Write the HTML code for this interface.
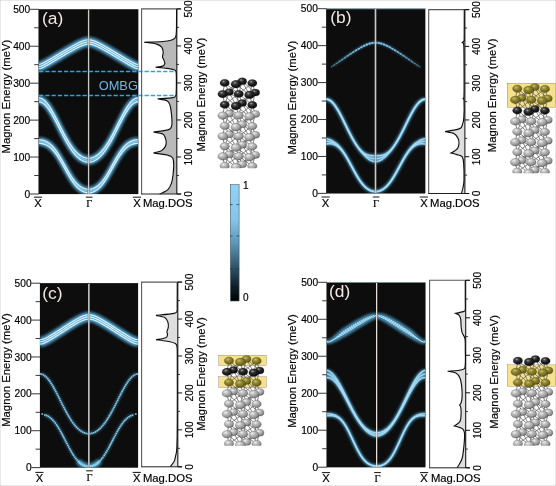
<!DOCTYPE html>
<html lang="en"><head><meta charset="utf-8"><title>Magnon dispersion figure</title>
<style>html,body{margin:0;padding:0;background:#fff;}svg{display:block;}</style></head>
<body>
<svg width="556" height="486" viewBox="0 0 556 486" font-family="'Liberation Sans', sans-serif" fill="#000" stroke="#000" stroke-width="0.18">
<defs>
<filter id="blur" x="-10%" y="-10%" width="120%" height="120%"><feGaussianBlur stdDeviation="1.6"/></filter>
<filter id="gsoft" x="0" y="0" width="100%" height="100%" filterUnits="userSpaceOnUse"><feGaussianBlur stdDeviation="0.38"/></filter>
<filter id="soft" x="-5%" y="-5%" width="110%" height="110%"><feGaussianBlur stdDeviation="0.35"/></filter>
<filter id="soft2" x="-5%" y="-5%" width="110%" height="110%"><feGaussianBlur stdDeviation="0.45"/></filter>
<clipPath id="cpa"><rect x="38.60" y="9.30" width="99.60" height="184.70"/></clipPath>
<clipPath id="cpb"><rect x="326.20" y="8.70" width="99.00" height="184.70"/></clipPath>
<clipPath id="cpc"><rect x="40.00" y="283.20" width="98.00" height="184.40"/></clipPath>
<clipPath id="cpd"><rect x="326.60" y="282.30" width="98.80" height="184.90"/></clipPath>
<radialGradient id="gG" cx="0.36" cy="0.3" r="0.8"><stop offset="0" stop-color="#f0f0f0"/><stop offset="0.3" stop-color="#c0c0c0"/><stop offset="0.7" stop-color="#949494"/><stop offset="1" stop-color="#555"/></radialGradient>
<radialGradient id="gK" cx="0.38" cy="0.32" r="0.75"><stop offset="0" stop-color="#a8a8a8"/><stop offset="0.22" stop-color="#444"/><stop offset="0.55" stop-color="#1c1c1c"/><stop offset="1" stop-color="#0a0a0a"/></radialGradient>
<radialGradient id="gO" cx="0.38" cy="0.32" r="0.75"><stop offset="0" stop-color="#c9c062"/><stop offset="0.35" stop-color="#918731"/><stop offset="1" stop-color="#5a5216"/></radialGradient>
<linearGradient id="cbar" x1="0" y1="0" x2="0" y2="1"><stop offset="0" stop-color="#93d2f3"/><stop offset="0.3" stop-color="#84c6ea"/><stop offset="0.5" stop-color="#5c98b8"/><stop offset="0.7" stop-color="#2f566b"/><stop offset="0.88" stop-color="#0f1e26"/><stop offset="1" stop-color="#000"/></linearGradient>
<clipPath id="clipa"><rect x="215" y="70" width="50" height="98.3"/></clipPath>
<clipPath id="clipb"><rect x="505" y="70" width="51" height="103.2"/></clipPath>
<clipPath id="clipc"><rect x="215" y="345" width="55" height="100.8"/></clipPath>
<clipPath id="clipd"><rect x="505" y="345" width="51" height="100.8"/></clipPath>
</defs>
<rect width="556" height="486" fill="#fff"/>
<g filter="url(#gsoft)">
<rect x="38.60" y="9.30" width="99.60" height="184.70" fill="#0b0b0b"/>
<g clip-path="url(#cpa)">
<g filter="url(#blur)"><path d="M38.60 68.74 L39.71 68.63 L40.82 68.34 L41.93 67.92 L43.04 67.41 L44.16 66.85 L45.27 66.26 L46.38 65.65 L47.49 65.02 L48.60 64.38 L49.71 63.74 L50.82 63.09 L51.93 62.43 L53.04 61.78 L54.16 61.12 L55.27 60.46 L56.38 59.80 L57.49 59.14 L58.60 58.48 L59.71 57.82 L60.82 57.16 L61.93 56.50 L63.04 55.85 L64.16 55.19 L65.27 54.54 L66.38 53.89 L67.49 53.25 L68.60 52.60 L69.71 51.97 L70.82 51.33 L71.93 50.71 L73.04 50.09 L74.16 49.48 L75.27 48.88 L76.38 48.30 L77.49 47.72 L78.60 47.17 L79.71 46.64 L80.82 46.15 L81.93 45.68 L83.04 45.26 L84.16 44.89 L85.27 44.59 L86.38 44.36 L87.49 44.22 L88.60 44.17 L89.70 44.22 L90.80 44.36 L91.91 44.59 L93.01 44.89 L94.11 45.26 L95.21 45.68 L96.32 46.15 L97.42 46.64 L98.52 47.17 L99.62 47.72 L100.72 48.30 L101.83 48.88 L102.93 49.48 L104.03 50.09 L105.13 50.71 L106.24 51.33 L107.34 51.97 L108.44 52.60 L109.54 53.25 L110.64 53.89 L111.75 54.54 L112.85 55.19 L113.95 55.85 L115.05 56.50 L116.16 57.16 L117.26 57.82 L118.36 58.48 L119.46 59.14 L120.56 59.80 L121.67 60.46 L122.77 61.12 L123.87 61.78 L124.97 62.43 L126.08 63.09 L127.18 63.74 L128.28 64.38 L129.38 65.02 L130.48 65.65 L131.59 66.26 L132.69 66.85 L133.79 67.41 L134.89 67.92 L136.00 68.34 L137.10 68.63 L138.20 68.74" stroke="#56a8d4" stroke-width="5.62" stroke-opacity="0.95" fill="none"/><path d="M38.60 66.56 L39.71 66.45 L40.82 66.16 L41.93 65.74 L43.04 65.23 L44.16 64.67 L45.27 64.08 L46.38 63.47 L47.49 62.84 L48.60 62.20 L49.71 61.56 L50.82 60.91 L51.93 60.25 L53.04 59.60 L54.16 58.94 L55.27 58.28 L56.38 57.62 L57.49 56.96 L58.60 56.30 L59.71 55.64 L60.82 54.98 L61.93 54.32 L63.04 53.67 L64.16 53.01 L65.27 52.36 L66.38 51.71 L67.49 51.07 L68.60 50.42 L69.71 49.79 L70.82 49.15 L71.93 48.53 L73.04 47.91 L74.16 47.30 L75.27 46.70 L76.38 46.12 L77.49 45.55 L78.60 44.99 L79.71 44.47 L80.82 43.97 L81.93 43.50 L83.04 43.08 L84.16 42.71 L85.27 42.41 L86.38 42.18 L87.49 42.04 L88.60 41.99 L89.70 42.04 L90.80 42.18 L91.91 42.41 L93.01 42.71 L94.11 43.08 L95.21 43.50 L96.32 43.97 L97.42 44.47 L98.52 44.99 L99.62 45.55 L100.72 46.12 L101.83 46.70 L102.93 47.30 L104.03 47.91 L105.13 48.53 L106.24 49.15 L107.34 49.79 L108.44 50.42 L109.54 51.07 L110.64 51.71 L111.75 52.36 L112.85 53.01 L113.95 53.67 L115.05 54.32 L116.16 54.98 L117.26 55.64 L118.36 56.30 L119.46 56.96 L120.56 57.62 L121.67 58.28 L122.77 58.94 L123.87 59.60 L124.97 60.25 L126.08 60.91 L127.18 61.56 L128.28 62.20 L129.38 62.84 L130.48 63.47 L131.59 64.08 L132.69 64.67 L133.79 65.23 L134.89 65.74 L136.00 66.16 L137.10 66.45 L138.20 66.56" stroke="#56a8d4" stroke-width="5.62" stroke-opacity="0.95" fill="none"/><path d="M38.60 64.38 L39.71 64.27 L40.82 63.98 L41.93 63.56 L43.04 63.05 L44.16 62.49 L45.27 61.90 L46.38 61.29 L47.49 60.66 L48.60 60.02 L49.71 59.38 L50.82 58.73 L51.93 58.08 L53.04 57.42 L54.16 56.76 L55.27 56.10 L56.38 55.44 L57.49 54.78 L58.60 54.12 L59.71 53.46 L60.82 52.80 L61.93 52.14 L63.04 51.49 L64.16 50.83 L65.27 50.18 L66.38 49.53 L67.49 48.89 L68.60 48.24 L69.71 47.61 L70.82 46.97 L71.93 46.35 L73.04 45.73 L74.16 45.12 L75.27 44.52 L76.38 43.94 L77.49 43.37 L78.60 42.81 L79.71 42.29 L80.82 41.79 L81.93 41.32 L83.04 40.90 L84.16 40.53 L85.27 40.23 L86.38 40.00 L87.49 39.86 L88.60 39.81 L89.70 39.86 L90.80 40.00 L91.91 40.23 L93.01 40.53 L94.11 40.90 L95.21 41.32 L96.32 41.79 L97.42 42.29 L98.52 42.81 L99.62 43.37 L100.72 43.94 L101.83 44.52 L102.93 45.12 L104.03 45.73 L105.13 46.35 L106.24 46.97 L107.34 47.61 L108.44 48.24 L109.54 48.89 L110.64 49.53 L111.75 50.18 L112.85 50.83 L113.95 51.49 L115.05 52.14 L116.16 52.80 L117.26 53.46 L118.36 54.12 L119.46 54.78 L120.56 55.44 L121.67 56.10 L122.77 56.76 L123.87 57.42 L124.97 58.08 L126.08 58.73 L127.18 59.38 L128.28 60.02 L129.38 60.66 L130.48 61.29 L131.59 61.90 L132.69 62.49 L133.79 63.05 L134.89 63.56 L136.00 63.98 L137.10 64.27 L138.20 64.38" stroke="#56a8d4" stroke-width="5.62" stroke-opacity="0.95" fill="none"/><path d="M38.60 101.80 L39.71 101.89 L40.82 102.19 L41.93 102.67 L43.04 103.33 L44.16 104.18 L45.27 105.21 L46.38 106.40 L47.49 107.74 L48.60 109.23 L49.71 110.86 L50.82 112.60 L51.93 114.46 L53.04 116.40 L54.16 118.43 L55.27 120.52 L56.38 122.66 L57.49 124.84 L58.60 127.03 L59.71 129.24 L60.82 131.44 L61.93 133.62 L63.04 135.77 L64.16 137.88 L65.27 139.93 L66.38 141.93 L67.49 143.85 L68.60 145.70 L69.71 147.46 L70.82 149.14 L71.93 150.72 L73.04 152.20 L74.16 153.59 L75.27 154.87 L76.38 156.05 L77.49 157.13 L78.60 158.10 L79.71 158.96 L80.82 159.72 L81.93 160.38 L83.04 160.94 L84.16 161.39 L85.27 161.74 L86.38 161.99 L87.49 162.14 L88.60 162.19 L89.70 162.14 L90.80 161.99 L91.91 161.74 L93.01 161.39 L94.11 160.94 L95.21 160.38 L96.32 159.72 L97.42 158.96 L98.52 158.10 L99.62 157.13 L100.72 156.05 L101.83 154.87 L102.93 153.59 L104.03 152.20 L105.13 150.72 L106.24 149.14 L107.34 147.46 L108.44 145.70 L109.54 143.85 L110.64 141.93 L111.75 139.93 L112.85 137.88 L113.95 135.77 L115.05 133.62 L116.16 131.44 L117.26 129.24 L118.36 127.03 L119.46 124.84 L120.56 122.66 L121.67 120.52 L122.77 118.43 L123.87 116.40 L124.97 114.46 L126.08 112.60 L127.18 110.86 L128.28 109.23 L129.38 107.74 L130.48 106.40 L131.59 105.21 L132.69 104.18 L133.79 103.33 L134.89 102.67 L136.00 102.19 L137.10 101.89 L138.20 101.80" stroke="#56a8d4" stroke-width="5.00" stroke-opacity="0.95" fill="none"/><path d="M38.60 99.80 L39.71 99.90 L40.82 100.19 L41.93 100.67 L43.04 101.34 L44.16 102.19 L45.27 103.21 L46.38 104.40 L47.49 105.75 L48.60 107.24 L49.71 108.86 L50.82 110.61 L51.93 112.46 L53.04 114.41 L54.16 116.44 L55.27 118.53 L56.38 120.67 L57.49 122.84 L58.60 125.04 L59.71 127.24 L60.82 129.44 L61.93 131.62 L63.04 133.77 L64.16 135.88 L65.27 137.94 L66.38 139.93 L67.49 141.86 L68.60 143.70 L69.71 145.47 L70.82 147.14 L71.93 148.72 L73.04 150.21 L74.16 151.59 L75.27 152.88 L76.38 154.06 L77.49 155.13 L78.60 156.10 L79.71 156.97 L80.82 157.73 L81.93 158.39 L83.04 158.94 L84.16 159.40 L85.27 159.75 L86.38 160.00 L87.49 160.15 L88.60 160.20 L89.70 160.15 L90.80 160.00 L91.91 159.75 L93.01 159.40 L94.11 158.94 L95.21 158.39 L96.32 157.73 L97.42 156.97 L98.52 156.10 L99.62 155.13 L100.72 154.06 L101.83 152.88 L102.93 151.59 L104.03 150.21 L105.13 148.72 L106.24 147.14 L107.34 145.47 L108.44 143.70 L109.54 141.86 L110.64 139.93 L111.75 137.94 L112.85 135.88 L113.95 133.77 L115.05 131.62 L116.16 129.44 L117.26 127.24 L118.36 125.04 L119.46 122.84 L120.56 120.67 L121.67 118.53 L122.77 116.44 L123.87 114.41 L124.97 112.46 L126.08 110.61 L127.18 108.86 L128.28 107.24 L129.38 105.75 L130.48 104.40 L131.59 103.21 L132.69 102.19 L133.79 101.34 L134.89 100.67 L136.00 100.19 L137.10 99.90 L138.20 99.80" stroke="#56a8d4" stroke-width="5.00" stroke-opacity="0.95" fill="none"/><path d="M38.60 97.81 L39.71 97.91 L40.82 98.20 L41.93 98.68 L43.04 99.35 L44.16 100.19 L45.27 101.22 L46.38 102.41 L47.49 103.75 L48.60 105.24 L49.71 106.87 L50.82 108.62 L51.93 110.47 L53.04 112.41 L54.16 114.44 L55.27 116.53 L56.38 118.67 L57.49 120.85 L58.60 123.05 L59.71 125.25 L60.82 127.45 L61.93 129.63 L63.04 131.78 L64.16 133.89 L65.27 135.94 L66.38 137.94 L67.49 139.86 L68.60 141.71 L69.71 143.47 L70.82 145.15 L71.93 146.73 L73.04 148.21 L74.16 149.60 L75.27 150.88 L76.38 152.06 L77.49 153.14 L78.60 154.11 L79.71 154.97 L80.82 155.74 L81.93 156.39 L83.04 156.95 L84.16 157.40 L85.27 157.75 L86.38 158.00 L87.49 158.16 L88.60 158.21 L89.70 158.16 L90.80 158.00 L91.91 157.75 L93.01 157.40 L94.11 156.95 L95.21 156.39 L96.32 155.74 L97.42 154.97 L98.52 154.11 L99.62 153.14 L100.72 152.06 L101.83 150.88 L102.93 149.60 L104.03 148.21 L105.13 146.73 L106.24 145.15 L107.34 143.47 L108.44 141.71 L109.54 139.86 L110.64 137.94 L111.75 135.94 L112.85 133.89 L113.95 131.78 L115.05 129.63 L116.16 127.45 L117.26 125.25 L118.36 123.05 L119.46 120.85 L120.56 118.67 L121.67 116.53 L122.77 114.44 L123.87 112.41 L124.97 110.47 L126.08 108.62 L127.18 106.87 L128.28 105.24 L129.38 103.75 L130.48 102.41 L131.59 101.22 L132.69 100.19 L133.79 99.35 L134.89 98.68 L136.00 98.20 L137.10 97.91 L138.20 97.81" stroke="#56a8d4" stroke-width="5.00" stroke-opacity="0.95" fill="none"/><path d="M38.60 143.32 L39.71 143.35 L40.82 143.45 L41.93 143.63 L43.04 143.88 L44.16 144.20 L45.27 144.61 L46.38 145.12 L47.49 145.72 L48.60 146.43 L49.71 147.24 L50.82 148.17 L51.93 149.22 L53.04 150.39 L54.16 151.69 L55.27 153.09 L56.38 154.62 L57.49 156.24 L58.60 157.97 L59.71 159.78 L60.82 161.66 L61.93 163.60 L63.04 165.58 L64.16 167.59 L65.27 169.60 L66.38 171.59 L67.49 173.56 L68.60 175.48 L69.71 177.34 L70.82 179.12 L71.93 180.81 L73.04 182.41 L74.16 183.90 L75.27 185.27 L76.38 186.53 L77.49 187.67 L78.60 188.68 L79.71 189.58 L80.82 190.36 L81.93 191.03 L83.04 191.59 L84.16 192.04 L85.27 192.38 L86.38 192.62 L87.49 192.77 L88.60 192.82 L89.70 192.77 L90.80 192.62 L91.91 192.38 L93.01 192.04 L94.11 191.59 L95.21 191.03 L96.32 190.36 L97.42 189.58 L98.52 188.68 L99.62 187.67 L100.72 186.53 L101.83 185.27 L102.93 183.90 L104.03 182.41 L105.13 180.81 L106.24 179.12 L107.34 177.34 L108.44 175.48 L109.54 173.56 L110.64 171.59 L111.75 169.60 L112.85 167.59 L113.95 165.58 L115.05 163.60 L116.16 161.66 L117.26 159.78 L118.36 157.97 L119.46 156.24 L120.56 154.62 L121.67 153.09 L122.77 151.69 L123.87 150.39 L124.97 149.22 L126.08 148.17 L127.18 147.24 L128.28 146.43 L129.38 145.72 L130.48 145.12 L131.59 144.61 L132.69 144.20 L133.79 143.88 L134.89 143.63 L136.00 143.45 L137.10 143.35 L138.20 143.32" stroke="#56a8d4" stroke-width="5.00" stroke-opacity="0.95" fill="none"/><path d="M38.60 141.55 L39.71 141.58 L40.82 141.68 L41.93 141.85 L43.04 142.10 L44.16 142.43 L45.27 142.84 L46.38 143.34 L47.49 143.95 L48.60 144.65 L49.71 145.47 L50.82 146.40 L51.93 147.45 L53.04 148.62 L54.16 149.91 L55.27 151.32 L56.38 152.84 L57.49 154.47 L58.60 156.20 L59.71 158.01 L60.82 159.89 L61.93 161.83 L63.04 163.81 L64.16 165.81 L65.27 167.82 L66.38 169.82 L67.49 171.79 L68.60 173.71 L69.71 175.57 L70.82 177.35 L71.93 179.04 L73.04 180.64 L74.16 182.12 L75.27 183.50 L76.38 184.76 L77.49 185.89 L78.60 186.91 L79.71 187.81 L80.82 188.59 L81.93 189.26 L83.04 189.81 L84.16 190.26 L85.27 190.61 L86.38 190.85 L87.49 191.00 L88.60 191.04 L89.70 191.00 L90.80 190.85 L91.91 190.61 L93.01 190.26 L94.11 189.81 L95.21 189.26 L96.32 188.59 L97.42 187.81 L98.52 186.91 L99.62 185.89 L100.72 184.76 L101.83 183.50 L102.93 182.12 L104.03 180.64 L105.13 179.04 L106.24 177.35 L107.34 175.57 L108.44 173.71 L109.54 171.79 L110.64 169.82 L111.75 167.82 L112.85 165.81 L113.95 163.81 L115.05 161.83 L116.16 159.89 L117.26 158.01 L118.36 156.20 L119.46 154.47 L120.56 152.84 L121.67 151.32 L122.77 149.91 L123.87 148.62 L124.97 147.45 L126.08 146.40 L127.18 145.47 L128.28 144.65 L129.38 143.95 L130.48 143.34 L131.59 142.84 L132.69 142.43 L133.79 142.10 L134.89 141.85 L136.00 141.68 L137.10 141.58 L138.20 141.55" stroke="#56a8d4" stroke-width="5.00" stroke-opacity="0.95" fill="none"/><path d="M38.60 139.77 L39.71 139.81 L40.82 139.91 L41.93 140.08 L43.04 140.33 L44.16 140.66 L45.27 141.07 L46.38 141.57 L47.49 142.17 L48.60 142.88 L49.71 143.70 L50.82 144.63 L51.93 145.68 L53.04 146.85 L54.16 148.14 L55.27 149.55 L56.38 151.07 L57.49 152.70 L58.60 154.42 L59.71 156.23 L60.82 158.12 L61.93 160.06 L63.04 162.04 L64.16 164.04 L65.27 166.05 L66.38 168.05 L67.49 170.01 L68.60 171.93 L69.71 173.79 L70.82 175.57 L71.93 177.27 L73.04 178.86 L74.16 180.35 L75.27 181.73 L76.38 182.98 L77.49 184.12 L78.60 185.14 L79.71 186.04 L80.82 186.82 L81.93 187.48 L83.04 188.04 L84.16 188.49 L85.27 188.83 L86.38 189.08 L87.49 189.22 L88.60 189.27 L89.70 189.22 L90.80 189.08 L91.91 188.83 L93.01 188.49 L94.11 188.04 L95.21 187.48 L96.32 186.82 L97.42 186.04 L98.52 185.14 L99.62 184.12 L100.72 182.98 L101.83 181.73 L102.93 180.35 L104.03 178.86 L105.13 177.27 L106.24 175.57 L107.34 173.79 L108.44 171.93 L109.54 170.01 L110.64 168.05 L111.75 166.05 L112.85 164.04 L113.95 162.04 L115.05 160.06 L116.16 158.12 L117.26 156.23 L118.36 154.42 L119.46 152.70 L120.56 151.07 L121.67 149.55 L122.77 148.14 L123.87 146.85 L124.97 145.68 L126.08 144.63 L127.18 143.70 L128.28 142.88 L129.38 142.17 L130.48 141.57 L131.59 141.07 L132.69 140.66 L133.79 140.33 L134.89 140.08 L136.00 139.91 L137.10 139.81 L138.20 139.77" stroke="#56a8d4" stroke-width="5.00" stroke-opacity="0.95" fill="none"/></g>
<g filter="url(#soft)"><path d="M38.60 68.74 L39.71 68.63 L40.82 68.34 L41.93 67.92 L43.04 67.41 L44.16 66.85 L45.27 66.26 L46.38 65.65 L47.49 65.02 L48.60 64.38 L49.71 63.74 L50.82 63.09 L51.93 62.43 L53.04 61.78 L54.16 61.12 L55.27 60.46 L56.38 59.80 L57.49 59.14 L58.60 58.48 L59.71 57.82 L60.82 57.16 L61.93 56.50 L63.04 55.85 L64.16 55.19 L65.27 54.54 L66.38 53.89 L67.49 53.25 L68.60 52.60 L69.71 51.97 L70.82 51.33 L71.93 50.71 L73.04 50.09 L74.16 49.48 L75.27 48.88 L76.38 48.30 L77.49 47.72 L78.60 47.17 L79.71 46.64 L80.82 46.15 L81.93 45.68 L83.04 45.26 L84.16 44.89 L85.27 44.59 L86.38 44.36 L87.49 44.22 L88.60 44.17 L89.70 44.22 L90.80 44.36 L91.91 44.59 L93.01 44.89 L94.11 45.26 L95.21 45.68 L96.32 46.15 L97.42 46.64 L98.52 47.17 L99.62 47.72 L100.72 48.30 L101.83 48.88 L102.93 49.48 L104.03 50.09 L105.13 50.71 L106.24 51.33 L107.34 51.97 L108.44 52.60 L109.54 53.25 L110.64 53.89 L111.75 54.54 L112.85 55.19 L113.95 55.85 L115.05 56.50 L116.16 57.16 L117.26 57.82 L118.36 58.48 L119.46 59.14 L120.56 59.80 L121.67 60.46 L122.77 61.12 L123.87 61.78 L124.97 62.43 L126.08 63.09 L127.18 63.74 L128.28 64.38 L129.38 65.02 L130.48 65.65 L131.59 66.26 L132.69 66.85 L133.79 67.41 L134.89 67.92 L136.00 68.34 L137.10 68.63 L138.20 68.74" stroke="#7cc3e4" stroke-width="1.50" stroke-opacity="0.55" fill="none"/><path d="M38.60 66.56 L39.71 66.45 L40.82 66.16 L41.93 65.74 L43.04 65.23 L44.16 64.67 L45.27 64.08 L46.38 63.47 L47.49 62.84 L48.60 62.20 L49.71 61.56 L50.82 60.91 L51.93 60.25 L53.04 59.60 L54.16 58.94 L55.27 58.28 L56.38 57.62 L57.49 56.96 L58.60 56.30 L59.71 55.64 L60.82 54.98 L61.93 54.32 L63.04 53.67 L64.16 53.01 L65.27 52.36 L66.38 51.71 L67.49 51.07 L68.60 50.42 L69.71 49.79 L70.82 49.15 L71.93 48.53 L73.04 47.91 L74.16 47.30 L75.27 46.70 L76.38 46.12 L77.49 45.55 L78.60 44.99 L79.71 44.47 L80.82 43.97 L81.93 43.50 L83.04 43.08 L84.16 42.71 L85.27 42.41 L86.38 42.18 L87.49 42.04 L88.60 41.99 L89.70 42.04 L90.80 42.18 L91.91 42.41 L93.01 42.71 L94.11 43.08 L95.21 43.50 L96.32 43.97 L97.42 44.47 L98.52 44.99 L99.62 45.55 L100.72 46.12 L101.83 46.70 L102.93 47.30 L104.03 47.91 L105.13 48.53 L106.24 49.15 L107.34 49.79 L108.44 50.42 L109.54 51.07 L110.64 51.71 L111.75 52.36 L112.85 53.01 L113.95 53.67 L115.05 54.32 L116.16 54.98 L117.26 55.64 L118.36 56.30 L119.46 56.96 L120.56 57.62 L121.67 58.28 L122.77 58.94 L123.87 59.60 L124.97 60.25 L126.08 60.91 L127.18 61.56 L128.28 62.20 L129.38 62.84 L130.48 63.47 L131.59 64.08 L132.69 64.67 L133.79 65.23 L134.89 65.74 L136.00 66.16 L137.10 66.45 L138.20 66.56" stroke="#7cc3e4" stroke-width="1.50" stroke-opacity="0.55" fill="none"/><path d="M38.60 64.38 L39.71 64.27 L40.82 63.98 L41.93 63.56 L43.04 63.05 L44.16 62.49 L45.27 61.90 L46.38 61.29 L47.49 60.66 L48.60 60.02 L49.71 59.38 L50.82 58.73 L51.93 58.08 L53.04 57.42 L54.16 56.76 L55.27 56.10 L56.38 55.44 L57.49 54.78 L58.60 54.12 L59.71 53.46 L60.82 52.80 L61.93 52.14 L63.04 51.49 L64.16 50.83 L65.27 50.18 L66.38 49.53 L67.49 48.89 L68.60 48.24 L69.71 47.61 L70.82 46.97 L71.93 46.35 L73.04 45.73 L74.16 45.12 L75.27 44.52 L76.38 43.94 L77.49 43.37 L78.60 42.81 L79.71 42.29 L80.82 41.79 L81.93 41.32 L83.04 40.90 L84.16 40.53 L85.27 40.23 L86.38 40.00 L87.49 39.86 L88.60 39.81 L89.70 39.86 L90.80 40.00 L91.91 40.23 L93.01 40.53 L94.11 40.90 L95.21 41.32 L96.32 41.79 L97.42 42.29 L98.52 42.81 L99.62 43.37 L100.72 43.94 L101.83 44.52 L102.93 45.12 L104.03 45.73 L105.13 46.35 L106.24 46.97 L107.34 47.61 L108.44 48.24 L109.54 48.89 L110.64 49.53 L111.75 50.18 L112.85 50.83 L113.95 51.49 L115.05 52.14 L116.16 52.80 L117.26 53.46 L118.36 54.12 L119.46 54.78 L120.56 55.44 L121.67 56.10 L122.77 56.76 L123.87 57.42 L124.97 58.08 L126.08 58.73 L127.18 59.38 L128.28 60.02 L129.38 60.66 L130.48 61.29 L131.59 61.90 L132.69 62.49 L133.79 63.05 L134.89 63.56 L136.00 63.98 L137.10 64.27 L138.20 64.38" stroke="#7cc3e4" stroke-width="1.50" stroke-opacity="0.55" fill="none"/><path d="M38.60 68.74 L39.71 68.63 L40.82 68.34 L41.93 67.92 L43.04 67.41 L44.16 66.85 L45.27 66.26 L46.38 65.65 L47.49 65.02 L48.60 64.38 L49.71 63.74 L50.82 63.09 L51.93 62.43 L53.04 61.78 L54.16 61.12 L55.27 60.46 L56.38 59.80 L57.49 59.14 L58.60 58.48 L59.71 57.82 L60.82 57.16 L61.93 56.50 L63.04 55.85 L64.16 55.19 L65.27 54.54 L66.38 53.89 L67.49 53.25 L68.60 52.60 L69.71 51.97 L70.82 51.33 L71.93 50.71 L73.04 50.09 L74.16 49.48 L75.27 48.88 L76.38 48.30 L77.49 47.72 L78.60 47.17 L79.71 46.64 L80.82 46.15 L81.93 45.68 L83.04 45.26 L84.16 44.89 L85.27 44.59 L86.38 44.36 L87.49 44.22 L88.60 44.17 L89.70 44.22 L90.80 44.36 L91.91 44.59 L93.01 44.89 L94.11 45.26 L95.21 45.68 L96.32 46.15 L97.42 46.64 L98.52 47.17 L99.62 47.72 L100.72 48.30 L101.83 48.88 L102.93 49.48 L104.03 50.09 L105.13 50.71 L106.24 51.33 L107.34 51.97 L108.44 52.60 L109.54 53.25 L110.64 53.89 L111.75 54.54 L112.85 55.19 L113.95 55.85 L115.05 56.50 L116.16 57.16 L117.26 57.82 L118.36 58.48 L119.46 59.14 L120.56 59.80 L121.67 60.46 L122.77 61.12 L123.87 61.78 L124.97 62.43 L126.08 63.09 L127.18 63.74 L128.28 64.38 L129.38 65.02 L130.48 65.65 L131.59 66.26 L132.69 66.85 L133.79 67.41 L134.89 67.92 L136.00 68.34 L137.10 68.63 L138.20 68.74" stroke="#e2f4fd" stroke-width="1.05" stroke-opacity="1.00" fill="none"/><path d="M38.60 66.56 L39.71 66.45 L40.82 66.16 L41.93 65.74 L43.04 65.23 L44.16 64.67 L45.27 64.08 L46.38 63.47 L47.49 62.84 L48.60 62.20 L49.71 61.56 L50.82 60.91 L51.93 60.25 L53.04 59.60 L54.16 58.94 L55.27 58.28 L56.38 57.62 L57.49 56.96 L58.60 56.30 L59.71 55.64 L60.82 54.98 L61.93 54.32 L63.04 53.67 L64.16 53.01 L65.27 52.36 L66.38 51.71 L67.49 51.07 L68.60 50.42 L69.71 49.79 L70.82 49.15 L71.93 48.53 L73.04 47.91 L74.16 47.30 L75.27 46.70 L76.38 46.12 L77.49 45.55 L78.60 44.99 L79.71 44.47 L80.82 43.97 L81.93 43.50 L83.04 43.08 L84.16 42.71 L85.27 42.41 L86.38 42.18 L87.49 42.04 L88.60 41.99 L89.70 42.04 L90.80 42.18 L91.91 42.41 L93.01 42.71 L94.11 43.08 L95.21 43.50 L96.32 43.97 L97.42 44.47 L98.52 44.99 L99.62 45.55 L100.72 46.12 L101.83 46.70 L102.93 47.30 L104.03 47.91 L105.13 48.53 L106.24 49.15 L107.34 49.79 L108.44 50.42 L109.54 51.07 L110.64 51.71 L111.75 52.36 L112.85 53.01 L113.95 53.67 L115.05 54.32 L116.16 54.98 L117.26 55.64 L118.36 56.30 L119.46 56.96 L120.56 57.62 L121.67 58.28 L122.77 58.94 L123.87 59.60 L124.97 60.25 L126.08 60.91 L127.18 61.56 L128.28 62.20 L129.38 62.84 L130.48 63.47 L131.59 64.08 L132.69 64.67 L133.79 65.23 L134.89 65.74 L136.00 66.16 L137.10 66.45 L138.20 66.56" stroke="#e2f4fd" stroke-width="1.05" stroke-opacity="1.00" fill="none"/><path d="M38.60 64.38 L39.71 64.27 L40.82 63.98 L41.93 63.56 L43.04 63.05 L44.16 62.49 L45.27 61.90 L46.38 61.29 L47.49 60.66 L48.60 60.02 L49.71 59.38 L50.82 58.73 L51.93 58.08 L53.04 57.42 L54.16 56.76 L55.27 56.10 L56.38 55.44 L57.49 54.78 L58.60 54.12 L59.71 53.46 L60.82 52.80 L61.93 52.14 L63.04 51.49 L64.16 50.83 L65.27 50.18 L66.38 49.53 L67.49 48.89 L68.60 48.24 L69.71 47.61 L70.82 46.97 L71.93 46.35 L73.04 45.73 L74.16 45.12 L75.27 44.52 L76.38 43.94 L77.49 43.37 L78.60 42.81 L79.71 42.29 L80.82 41.79 L81.93 41.32 L83.04 40.90 L84.16 40.53 L85.27 40.23 L86.38 40.00 L87.49 39.86 L88.60 39.81 L89.70 39.86 L90.80 40.00 L91.91 40.23 L93.01 40.53 L94.11 40.90 L95.21 41.32 L96.32 41.79 L97.42 42.29 L98.52 42.81 L99.62 43.37 L100.72 43.94 L101.83 44.52 L102.93 45.12 L104.03 45.73 L105.13 46.35 L106.24 46.97 L107.34 47.61 L108.44 48.24 L109.54 48.89 L110.64 49.53 L111.75 50.18 L112.85 50.83 L113.95 51.49 L115.05 52.14 L116.16 52.80 L117.26 53.46 L118.36 54.12 L119.46 54.78 L120.56 55.44 L121.67 56.10 L122.77 56.76 L123.87 57.42 L124.97 58.08 L126.08 58.73 L127.18 59.38 L128.28 60.02 L129.38 60.66 L130.48 61.29 L131.59 61.90 L132.69 62.49 L133.79 63.05 L134.89 63.56 L136.00 63.98 L137.10 64.27 L138.20 64.38" stroke="#e2f4fd" stroke-width="1.05" stroke-opacity="1.00" fill="none"/><path d="M38.60 101.80 L39.71 101.89 L40.82 102.19 L41.93 102.67 L43.04 103.33 L44.16 104.18 L45.27 105.21 L46.38 106.40 L47.49 107.74 L48.60 109.23 L49.71 110.86 L50.82 112.60 L51.93 114.46 L53.04 116.40 L54.16 118.43 L55.27 120.52 L56.38 122.66 L57.49 124.84 L58.60 127.03 L59.71 129.24 L60.82 131.44 L61.93 133.62 L63.04 135.77 L64.16 137.88 L65.27 139.93 L66.38 141.93 L67.49 143.85 L68.60 145.70 L69.71 147.46 L70.82 149.14 L71.93 150.72 L73.04 152.20 L74.16 153.59 L75.27 154.87 L76.38 156.05 L77.49 157.13 L78.60 158.10 L79.71 158.96 L80.82 159.72 L81.93 160.38 L83.04 160.94 L84.16 161.39 L85.27 161.74 L86.38 161.99 L87.49 162.14 L88.60 162.19 L89.70 162.14 L90.80 161.99 L91.91 161.74 L93.01 161.39 L94.11 160.94 L95.21 160.38 L96.32 159.72 L97.42 158.96 L98.52 158.10 L99.62 157.13 L100.72 156.05 L101.83 154.87 L102.93 153.59 L104.03 152.20 L105.13 150.72 L106.24 149.14 L107.34 147.46 L108.44 145.70 L109.54 143.85 L110.64 141.93 L111.75 139.93 L112.85 137.88 L113.95 135.77 L115.05 133.62 L116.16 131.44 L117.26 129.24 L118.36 127.03 L119.46 124.84 L120.56 122.66 L121.67 120.52 L122.77 118.43 L123.87 116.40 L124.97 114.46 L126.08 112.60 L127.18 110.86 L128.28 109.23 L129.38 107.74 L130.48 106.40 L131.59 105.21 L132.69 104.18 L133.79 103.33 L134.89 102.67 L136.00 102.19 L137.10 101.89 L138.20 101.80" stroke="#7cc3e4" stroke-width="1.50" stroke-opacity="0.55" fill="none"/><path d="M38.60 99.80 L39.71 99.90 L40.82 100.19 L41.93 100.67 L43.04 101.34 L44.16 102.19 L45.27 103.21 L46.38 104.40 L47.49 105.75 L48.60 107.24 L49.71 108.86 L50.82 110.61 L51.93 112.46 L53.04 114.41 L54.16 116.44 L55.27 118.53 L56.38 120.67 L57.49 122.84 L58.60 125.04 L59.71 127.24 L60.82 129.44 L61.93 131.62 L63.04 133.77 L64.16 135.88 L65.27 137.94 L66.38 139.93 L67.49 141.86 L68.60 143.70 L69.71 145.47 L70.82 147.14 L71.93 148.72 L73.04 150.21 L74.16 151.59 L75.27 152.88 L76.38 154.06 L77.49 155.13 L78.60 156.10 L79.71 156.97 L80.82 157.73 L81.93 158.39 L83.04 158.94 L84.16 159.40 L85.27 159.75 L86.38 160.00 L87.49 160.15 L88.60 160.20 L89.70 160.15 L90.80 160.00 L91.91 159.75 L93.01 159.40 L94.11 158.94 L95.21 158.39 L96.32 157.73 L97.42 156.97 L98.52 156.10 L99.62 155.13 L100.72 154.06 L101.83 152.88 L102.93 151.59 L104.03 150.21 L105.13 148.72 L106.24 147.14 L107.34 145.47 L108.44 143.70 L109.54 141.86 L110.64 139.93 L111.75 137.94 L112.85 135.88 L113.95 133.77 L115.05 131.62 L116.16 129.44 L117.26 127.24 L118.36 125.04 L119.46 122.84 L120.56 120.67 L121.67 118.53 L122.77 116.44 L123.87 114.41 L124.97 112.46 L126.08 110.61 L127.18 108.86 L128.28 107.24 L129.38 105.75 L130.48 104.40 L131.59 103.21 L132.69 102.19 L133.79 101.34 L134.89 100.67 L136.00 100.19 L137.10 99.90 L138.20 99.80" stroke="#7cc3e4" stroke-width="1.50" stroke-opacity="0.55" fill="none"/><path d="M38.60 97.81 L39.71 97.91 L40.82 98.20 L41.93 98.68 L43.04 99.35 L44.16 100.19 L45.27 101.22 L46.38 102.41 L47.49 103.75 L48.60 105.24 L49.71 106.87 L50.82 108.62 L51.93 110.47 L53.04 112.41 L54.16 114.44 L55.27 116.53 L56.38 118.67 L57.49 120.85 L58.60 123.05 L59.71 125.25 L60.82 127.45 L61.93 129.63 L63.04 131.78 L64.16 133.89 L65.27 135.94 L66.38 137.94 L67.49 139.86 L68.60 141.71 L69.71 143.47 L70.82 145.15 L71.93 146.73 L73.04 148.21 L74.16 149.60 L75.27 150.88 L76.38 152.06 L77.49 153.14 L78.60 154.11 L79.71 154.97 L80.82 155.74 L81.93 156.39 L83.04 156.95 L84.16 157.40 L85.27 157.75 L86.38 158.00 L87.49 158.16 L88.60 158.21 L89.70 158.16 L90.80 158.00 L91.91 157.75 L93.01 157.40 L94.11 156.95 L95.21 156.39 L96.32 155.74 L97.42 154.97 L98.52 154.11 L99.62 153.14 L100.72 152.06 L101.83 150.88 L102.93 149.60 L104.03 148.21 L105.13 146.73 L106.24 145.15 L107.34 143.47 L108.44 141.71 L109.54 139.86 L110.64 137.94 L111.75 135.94 L112.85 133.89 L113.95 131.78 L115.05 129.63 L116.16 127.45 L117.26 125.25 L118.36 123.05 L119.46 120.85 L120.56 118.67 L121.67 116.53 L122.77 114.44 L123.87 112.41 L124.97 110.47 L126.08 108.62 L127.18 106.87 L128.28 105.24 L129.38 103.75 L130.48 102.41 L131.59 101.22 L132.69 100.19 L133.79 99.35 L134.89 98.68 L136.00 98.20 L137.10 97.91 L138.20 97.81" stroke="#7cc3e4" stroke-width="1.50" stroke-opacity="0.55" fill="none"/><path d="M38.60 101.80 L39.71 101.89 L40.82 102.19 L41.93 102.67 L43.04 103.33 L44.16 104.18 L45.27 105.21 L46.38 106.40 L47.49 107.74 L48.60 109.23 L49.71 110.86 L50.82 112.60 L51.93 114.46 L53.04 116.40 L54.16 118.43 L55.27 120.52 L56.38 122.66 L57.49 124.84 L58.60 127.03 L59.71 129.24 L60.82 131.44 L61.93 133.62 L63.04 135.77 L64.16 137.88 L65.27 139.93 L66.38 141.93 L67.49 143.85 L68.60 145.70 L69.71 147.46 L70.82 149.14 L71.93 150.72 L73.04 152.20 L74.16 153.59 L75.27 154.87 L76.38 156.05 L77.49 157.13 L78.60 158.10 L79.71 158.96 L80.82 159.72 L81.93 160.38 L83.04 160.94 L84.16 161.39 L85.27 161.74 L86.38 161.99 L87.49 162.14 L88.60 162.19 L89.70 162.14 L90.80 161.99 L91.91 161.74 L93.01 161.39 L94.11 160.94 L95.21 160.38 L96.32 159.72 L97.42 158.96 L98.52 158.10 L99.62 157.13 L100.72 156.05 L101.83 154.87 L102.93 153.59 L104.03 152.20 L105.13 150.72 L106.24 149.14 L107.34 147.46 L108.44 145.70 L109.54 143.85 L110.64 141.93 L111.75 139.93 L112.85 137.88 L113.95 135.77 L115.05 133.62 L116.16 131.44 L117.26 129.24 L118.36 127.03 L119.46 124.84 L120.56 122.66 L121.67 120.52 L122.77 118.43 L123.87 116.40 L124.97 114.46 L126.08 112.60 L127.18 110.86 L128.28 109.23 L129.38 107.74 L130.48 106.40 L131.59 105.21 L132.69 104.18 L133.79 103.33 L134.89 102.67 L136.00 102.19 L137.10 101.89 L138.20 101.80" stroke="#e2f4fd" stroke-width="1.05" stroke-opacity="1.00" fill="none"/><path d="M38.60 99.80 L39.71 99.90 L40.82 100.19 L41.93 100.67 L43.04 101.34 L44.16 102.19 L45.27 103.21 L46.38 104.40 L47.49 105.75 L48.60 107.24 L49.71 108.86 L50.82 110.61 L51.93 112.46 L53.04 114.41 L54.16 116.44 L55.27 118.53 L56.38 120.67 L57.49 122.84 L58.60 125.04 L59.71 127.24 L60.82 129.44 L61.93 131.62 L63.04 133.77 L64.16 135.88 L65.27 137.94 L66.38 139.93 L67.49 141.86 L68.60 143.70 L69.71 145.47 L70.82 147.14 L71.93 148.72 L73.04 150.21 L74.16 151.59 L75.27 152.88 L76.38 154.06 L77.49 155.13 L78.60 156.10 L79.71 156.97 L80.82 157.73 L81.93 158.39 L83.04 158.94 L84.16 159.40 L85.27 159.75 L86.38 160.00 L87.49 160.15 L88.60 160.20 L89.70 160.15 L90.80 160.00 L91.91 159.75 L93.01 159.40 L94.11 158.94 L95.21 158.39 L96.32 157.73 L97.42 156.97 L98.52 156.10 L99.62 155.13 L100.72 154.06 L101.83 152.88 L102.93 151.59 L104.03 150.21 L105.13 148.72 L106.24 147.14 L107.34 145.47 L108.44 143.70 L109.54 141.86 L110.64 139.93 L111.75 137.94 L112.85 135.88 L113.95 133.77 L115.05 131.62 L116.16 129.44 L117.26 127.24 L118.36 125.04 L119.46 122.84 L120.56 120.67 L121.67 118.53 L122.77 116.44 L123.87 114.41 L124.97 112.46 L126.08 110.61 L127.18 108.86 L128.28 107.24 L129.38 105.75 L130.48 104.40 L131.59 103.21 L132.69 102.19 L133.79 101.34 L134.89 100.67 L136.00 100.19 L137.10 99.90 L138.20 99.80" stroke="#e2f4fd" stroke-width="1.05" stroke-opacity="0.30" fill="none"/><path d="M38.60 97.81 L39.71 97.91 L40.82 98.20 L41.93 98.68 L43.04 99.35 L44.16 100.19 L45.27 101.22 L46.38 102.41 L47.49 103.75 L48.60 105.24 L49.71 106.87 L50.82 108.62 L51.93 110.47 L53.04 112.41 L54.16 114.44 L55.27 116.53 L56.38 118.67 L57.49 120.85 L58.60 123.05 L59.71 125.25 L60.82 127.45 L61.93 129.63 L63.04 131.78 L64.16 133.89 L65.27 135.94 L66.38 137.94 L67.49 139.86 L68.60 141.71 L69.71 143.47 L70.82 145.15 L71.93 146.73 L73.04 148.21 L74.16 149.60 L75.27 150.88 L76.38 152.06 L77.49 153.14 L78.60 154.11 L79.71 154.97 L80.82 155.74 L81.93 156.39 L83.04 156.95 L84.16 157.40 L85.27 157.75 L86.38 158.00 L87.49 158.16 L88.60 158.21 L89.70 158.16 L90.80 158.00 L91.91 157.75 L93.01 157.40 L94.11 156.95 L95.21 156.39 L96.32 155.74 L97.42 154.97 L98.52 154.11 L99.62 153.14 L100.72 152.06 L101.83 150.88 L102.93 149.60 L104.03 148.21 L105.13 146.73 L106.24 145.15 L107.34 143.47 L108.44 141.71 L109.54 139.86 L110.64 137.94 L111.75 135.94 L112.85 133.89 L113.95 131.78 L115.05 129.63 L116.16 127.45 L117.26 125.25 L118.36 123.05 L119.46 120.85 L120.56 118.67 L121.67 116.53 L122.77 114.44 L123.87 112.41 L124.97 110.47 L126.08 108.62 L127.18 106.87 L128.28 105.24 L129.38 103.75 L130.48 102.41 L131.59 101.22 L132.69 100.19 L133.79 99.35 L134.89 98.68 L136.00 98.20 L137.10 97.91 L138.20 97.81" stroke="#e2f4fd" stroke-width="1.05" stroke-opacity="1.00" fill="none"/><path d="M38.60 143.32 L39.71 143.35 L40.82 143.45 L41.93 143.63 L43.04 143.88 L44.16 144.20 L45.27 144.61 L46.38 145.12 L47.49 145.72 L48.60 146.43 L49.71 147.24 L50.82 148.17 L51.93 149.22 L53.04 150.39 L54.16 151.69 L55.27 153.09 L56.38 154.62 L57.49 156.24 L58.60 157.97 L59.71 159.78 L60.82 161.66 L61.93 163.60 L63.04 165.58 L64.16 167.59 L65.27 169.60 L66.38 171.59 L67.49 173.56 L68.60 175.48 L69.71 177.34 L70.82 179.12 L71.93 180.81 L73.04 182.41 L74.16 183.90 L75.27 185.27 L76.38 186.53 L77.49 187.67 L78.60 188.68 L79.71 189.58 L80.82 190.36 L81.93 191.03 L83.04 191.59 L84.16 192.04 L85.27 192.38 L86.38 192.62 L87.49 192.77 L88.60 192.82 L89.70 192.77 L90.80 192.62 L91.91 192.38 L93.01 192.04 L94.11 191.59 L95.21 191.03 L96.32 190.36 L97.42 189.58 L98.52 188.68 L99.62 187.67 L100.72 186.53 L101.83 185.27 L102.93 183.90 L104.03 182.41 L105.13 180.81 L106.24 179.12 L107.34 177.34 L108.44 175.48 L109.54 173.56 L110.64 171.59 L111.75 169.60 L112.85 167.59 L113.95 165.58 L115.05 163.60 L116.16 161.66 L117.26 159.78 L118.36 157.97 L119.46 156.24 L120.56 154.62 L121.67 153.09 L122.77 151.69 L123.87 150.39 L124.97 149.22 L126.08 148.17 L127.18 147.24 L128.28 146.43 L129.38 145.72 L130.48 145.12 L131.59 144.61 L132.69 144.20 L133.79 143.88 L134.89 143.63 L136.00 143.45 L137.10 143.35 L138.20 143.32" stroke="#7cc3e4" stroke-width="1.50" stroke-opacity="0.55" fill="none"/><path d="M38.60 141.55 L39.71 141.58 L40.82 141.68 L41.93 141.85 L43.04 142.10 L44.16 142.43 L45.27 142.84 L46.38 143.34 L47.49 143.95 L48.60 144.65 L49.71 145.47 L50.82 146.40 L51.93 147.45 L53.04 148.62 L54.16 149.91 L55.27 151.32 L56.38 152.84 L57.49 154.47 L58.60 156.20 L59.71 158.01 L60.82 159.89 L61.93 161.83 L63.04 163.81 L64.16 165.81 L65.27 167.82 L66.38 169.82 L67.49 171.79 L68.60 173.71 L69.71 175.57 L70.82 177.35 L71.93 179.04 L73.04 180.64 L74.16 182.12 L75.27 183.50 L76.38 184.76 L77.49 185.89 L78.60 186.91 L79.71 187.81 L80.82 188.59 L81.93 189.26 L83.04 189.81 L84.16 190.26 L85.27 190.61 L86.38 190.85 L87.49 191.00 L88.60 191.04 L89.70 191.00 L90.80 190.85 L91.91 190.61 L93.01 190.26 L94.11 189.81 L95.21 189.26 L96.32 188.59 L97.42 187.81 L98.52 186.91 L99.62 185.89 L100.72 184.76 L101.83 183.50 L102.93 182.12 L104.03 180.64 L105.13 179.04 L106.24 177.35 L107.34 175.57 L108.44 173.71 L109.54 171.79 L110.64 169.82 L111.75 167.82 L112.85 165.81 L113.95 163.81 L115.05 161.83 L116.16 159.89 L117.26 158.01 L118.36 156.20 L119.46 154.47 L120.56 152.84 L121.67 151.32 L122.77 149.91 L123.87 148.62 L124.97 147.45 L126.08 146.40 L127.18 145.47 L128.28 144.65 L129.38 143.95 L130.48 143.34 L131.59 142.84 L132.69 142.43 L133.79 142.10 L134.89 141.85 L136.00 141.68 L137.10 141.58 L138.20 141.55" stroke="#7cc3e4" stroke-width="1.50" stroke-opacity="0.55" fill="none"/><path d="M38.60 139.77 L39.71 139.81 L40.82 139.91 L41.93 140.08 L43.04 140.33 L44.16 140.66 L45.27 141.07 L46.38 141.57 L47.49 142.17 L48.60 142.88 L49.71 143.70 L50.82 144.63 L51.93 145.68 L53.04 146.85 L54.16 148.14 L55.27 149.55 L56.38 151.07 L57.49 152.70 L58.60 154.42 L59.71 156.23 L60.82 158.12 L61.93 160.06 L63.04 162.04 L64.16 164.04 L65.27 166.05 L66.38 168.05 L67.49 170.01 L68.60 171.93 L69.71 173.79 L70.82 175.57 L71.93 177.27 L73.04 178.86 L74.16 180.35 L75.27 181.73 L76.38 182.98 L77.49 184.12 L78.60 185.14 L79.71 186.04 L80.82 186.82 L81.93 187.48 L83.04 188.04 L84.16 188.49 L85.27 188.83 L86.38 189.08 L87.49 189.22 L88.60 189.27 L89.70 189.22 L90.80 189.08 L91.91 188.83 L93.01 188.49 L94.11 188.04 L95.21 187.48 L96.32 186.82 L97.42 186.04 L98.52 185.14 L99.62 184.12 L100.72 182.98 L101.83 181.73 L102.93 180.35 L104.03 178.86 L105.13 177.27 L106.24 175.57 L107.34 173.79 L108.44 171.93 L109.54 170.01 L110.64 168.05 L111.75 166.05 L112.85 164.04 L113.95 162.04 L115.05 160.06 L116.16 158.12 L117.26 156.23 L118.36 154.42 L119.46 152.70 L120.56 151.07 L121.67 149.55 L122.77 148.14 L123.87 146.85 L124.97 145.68 L126.08 144.63 L127.18 143.70 L128.28 142.88 L129.38 142.17 L130.48 141.57 L131.59 141.07 L132.69 140.66 L133.79 140.33 L134.89 140.08 L136.00 139.91 L137.10 139.81 L138.20 139.77" stroke="#7cc3e4" stroke-width="1.50" stroke-opacity="0.55" fill="none"/><path d="M38.60 143.32 L39.71 143.35 L40.82 143.45 L41.93 143.63 L43.04 143.88 L44.16 144.20 L45.27 144.61 L46.38 145.12 L47.49 145.72 L48.60 146.43 L49.71 147.24 L50.82 148.17 L51.93 149.22 L53.04 150.39 L54.16 151.69 L55.27 153.09 L56.38 154.62 L57.49 156.24 L58.60 157.97 L59.71 159.78 L60.82 161.66 L61.93 163.60 L63.04 165.58 L64.16 167.59 L65.27 169.60 L66.38 171.59 L67.49 173.56 L68.60 175.48 L69.71 177.34 L70.82 179.12 L71.93 180.81 L73.04 182.41 L74.16 183.90 L75.27 185.27 L76.38 186.53 L77.49 187.67 L78.60 188.68 L79.71 189.58 L80.82 190.36 L81.93 191.03 L83.04 191.59 L84.16 192.04 L85.27 192.38 L86.38 192.62 L87.49 192.77 L88.60 192.82 L89.70 192.77 L90.80 192.62 L91.91 192.38 L93.01 192.04 L94.11 191.59 L95.21 191.03 L96.32 190.36 L97.42 189.58 L98.52 188.68 L99.62 187.67 L100.72 186.53 L101.83 185.27 L102.93 183.90 L104.03 182.41 L105.13 180.81 L106.24 179.12 L107.34 177.34 L108.44 175.48 L109.54 173.56 L110.64 171.59 L111.75 169.60 L112.85 167.59 L113.95 165.58 L115.05 163.60 L116.16 161.66 L117.26 159.78 L118.36 157.97 L119.46 156.24 L120.56 154.62 L121.67 153.09 L122.77 151.69 L123.87 150.39 L124.97 149.22 L126.08 148.17 L127.18 147.24 L128.28 146.43 L129.38 145.72 L130.48 145.12 L131.59 144.61 L132.69 144.20 L133.79 143.88 L134.89 143.63 L136.00 143.45 L137.10 143.35 L138.20 143.32" stroke="#e2f4fd" stroke-width="1.05" stroke-opacity="1.00" fill="none"/><path d="M38.60 141.55 L39.71 141.58 L40.82 141.68 L41.93 141.85 L43.04 142.10 L44.16 142.43 L45.27 142.84 L46.38 143.34 L47.49 143.95 L48.60 144.65 L49.71 145.47 L50.82 146.40 L51.93 147.45 L53.04 148.62 L54.16 149.91 L55.27 151.32 L56.38 152.84 L57.49 154.47 L58.60 156.20 L59.71 158.01 L60.82 159.89 L61.93 161.83 L63.04 163.81 L64.16 165.81 L65.27 167.82 L66.38 169.82 L67.49 171.79 L68.60 173.71 L69.71 175.57 L70.82 177.35 L71.93 179.04 L73.04 180.64 L74.16 182.12 L75.27 183.50 L76.38 184.76 L77.49 185.89 L78.60 186.91 L79.71 187.81 L80.82 188.59 L81.93 189.26 L83.04 189.81 L84.16 190.26 L85.27 190.61 L86.38 190.85 L87.49 191.00 L88.60 191.04 L89.70 191.00 L90.80 190.85 L91.91 190.61 L93.01 190.26 L94.11 189.81 L95.21 189.26 L96.32 188.59 L97.42 187.81 L98.52 186.91 L99.62 185.89 L100.72 184.76 L101.83 183.50 L102.93 182.12 L104.03 180.64 L105.13 179.04 L106.24 177.35 L107.34 175.57 L108.44 173.71 L109.54 171.79 L110.64 169.82 L111.75 167.82 L112.85 165.81 L113.95 163.81 L115.05 161.83 L116.16 159.89 L117.26 158.01 L118.36 156.20 L119.46 154.47 L120.56 152.84 L121.67 151.32 L122.77 149.91 L123.87 148.62 L124.97 147.45 L126.08 146.40 L127.18 145.47 L128.28 144.65 L129.38 143.95 L130.48 143.34 L131.59 142.84 L132.69 142.43 L133.79 142.10 L134.89 141.85 L136.00 141.68 L137.10 141.58 L138.20 141.55" stroke="#e2f4fd" stroke-width="1.05" stroke-opacity="0.30" fill="none"/><path d="M38.60 139.77 L39.71 139.81 L40.82 139.91 L41.93 140.08 L43.04 140.33 L44.16 140.66 L45.27 141.07 L46.38 141.57 L47.49 142.17 L48.60 142.88 L49.71 143.70 L50.82 144.63 L51.93 145.68 L53.04 146.85 L54.16 148.14 L55.27 149.55 L56.38 151.07 L57.49 152.70 L58.60 154.42 L59.71 156.23 L60.82 158.12 L61.93 160.06 L63.04 162.04 L64.16 164.04 L65.27 166.05 L66.38 168.05 L67.49 170.01 L68.60 171.93 L69.71 173.79 L70.82 175.57 L71.93 177.27 L73.04 178.86 L74.16 180.35 L75.27 181.73 L76.38 182.98 L77.49 184.12 L78.60 185.14 L79.71 186.04 L80.82 186.82 L81.93 187.48 L83.04 188.04 L84.16 188.49 L85.27 188.83 L86.38 189.08 L87.49 189.22 L88.60 189.27 L89.70 189.22 L90.80 189.08 L91.91 188.83 L93.01 188.49 L94.11 188.04 L95.21 187.48 L96.32 186.82 L97.42 186.04 L98.52 185.14 L99.62 184.12 L100.72 182.98 L101.83 181.73 L102.93 180.35 L104.03 178.86 L105.13 177.27 L106.24 175.57 L107.34 173.79 L108.44 171.93 L109.54 170.01 L110.64 168.05 L111.75 166.05 L112.85 164.04 L113.95 162.04 L115.05 160.06 L116.16 158.12 L117.26 156.23 L118.36 154.42 L119.46 152.70 L120.56 151.07 L121.67 149.55 L122.77 148.14 L123.87 146.85 L124.97 145.68 L126.08 144.63 L127.18 143.70 L128.28 142.88 L129.38 142.17 L130.48 141.57 L131.59 141.07 L132.69 140.66 L133.79 140.33 L134.89 140.08 L136.00 139.91 L137.10 139.81 L138.20 139.77" stroke="#e2f4fd" stroke-width="1.05" stroke-opacity="1.00" fill="none"/></g>
<text x="118.3" y="89.9" font-size="12.8" fill="#6db7e6" stroke="none" text-anchor="middle">OMBG</text>
<rect x="87.85" y="9.30" width="1.50" height="184.70" fill="#cac8c5"/>
<text x="42.00" y="24.00" font-size="17.4" fill="#f4e9e2" stroke="none">(a)</text>
</g>
<line x1="39.10" y1="71.50" x2="175.80" y2="71.50" stroke="#1cabe6" stroke-width="1.3" stroke-dasharray="4.3 1.9"/>
<line x1="39.10" y1="95.50" x2="175.80" y2="95.50" stroke="#1cabe6" stroke-width="1.3" stroke-dasharray="4.3 1.9"/>
<line x1="30.00" y1="194.00" x2="38.90" y2="194.00" stroke="#222" stroke-width="0.9"/>
<text x="30.20" y="197.60" font-size="10.2" text-anchor="end">0</text>
<line x1="34.20" y1="175.53" x2="38.90" y2="175.53" stroke="#222" stroke-width="0.9"/>
<line x1="30.00" y1="157.06" x2="38.90" y2="157.06" stroke="#222" stroke-width="0.9"/>
<text x="30.20" y="160.66" font-size="10.2" text-anchor="end">100</text>
<line x1="34.20" y1="138.59" x2="38.90" y2="138.59" stroke="#222" stroke-width="0.9"/>
<line x1="30.00" y1="120.12" x2="38.90" y2="120.12" stroke="#222" stroke-width="0.9"/>
<text x="30.20" y="123.72" font-size="10.2" text-anchor="end">200</text>
<line x1="34.20" y1="101.65" x2="38.90" y2="101.65" stroke="#222" stroke-width="0.9"/>
<line x1="30.00" y1="83.18" x2="38.90" y2="83.18" stroke="#222" stroke-width="0.9"/>
<text x="30.20" y="86.78" font-size="10.2" text-anchor="end">300</text>
<line x1="34.20" y1="64.71" x2="38.90" y2="64.71" stroke="#222" stroke-width="0.9"/>
<line x1="30.00" y1="46.24" x2="38.90" y2="46.24" stroke="#222" stroke-width="0.9"/>
<text x="30.20" y="49.84" font-size="10.2" text-anchor="end">400</text>
<line x1="34.20" y1="27.77" x2="38.90" y2="27.77" stroke="#222" stroke-width="0.9"/>
<line x1="30.00" y1="9.30" x2="38.90" y2="9.30" stroke="#222" stroke-width="0.9"/>
<text x="30.20" y="12.90" font-size="10.2" text-anchor="end">500</text>
<text transform="translate(10.20 96.60) rotate(-90)" font-size="11.3" text-anchor="middle">Magnon Energy (meV)</text>
<text x="38.00" y="206.90" font-size="11.2" text-anchor="middle">X</text>
<line x1="33.90" y1="197.20" x2="42.10" y2="197.20" stroke="#111" stroke-width="1.0"/>
<text x="89.20" y="206.90" font-size="10.4" text-anchor="middle" font-family="'Liberation Serif', serif">Γ</text>
<line x1="85.90" y1="197.20" x2="92.50" y2="197.20" stroke="#111" stroke-width="1.0"/>
<text x="136.90" y="206.90" font-size="11.2" text-anchor="middle">X</text>
<line x1="132.80" y1="197.20" x2="141.00" y2="197.20" stroke="#111" stroke-width="1.0"/>
<text x="142.90" y="206.90" font-size="11.3">Mag.DOS</text>
<path d="M176.60 8.90 C176.58 12.08 176.57 23.82 176.50 28.00 C176.43 32.18 176.43 32.35 176.20 34.00 C175.97 35.65 175.97 36.87 175.10 37.90 C174.23 38.93 173.02 39.60 171.00 40.20 C168.98 40.80 167.47 41.17 163.00 41.50 C158.53 41.83 147.33 42.08 144.20 42.20 C146.27 42.52 153.68 43.27 156.60 44.10 C159.52 44.93 160.60 45.83 161.70 47.20 C162.80 48.57 163.07 50.67 163.20 52.30 C163.33 53.93 162.40 55.75 162.50 57.00 C162.60 58.25 163.42 58.70 163.80 59.80 C164.18 60.90 164.98 62.55 164.80 63.60 C164.62 64.65 164.25 65.48 162.70 66.10 C161.15 66.72 156.70 67.10 155.50 67.30 C157.40 67.48 163.80 67.98 166.90 68.40 C170.00 68.82 172.57 69.22 174.10 69.80 C175.63 70.38 175.72 70.20 176.10 71.90 C176.48 73.60 176.38 76.48 176.40 80.00 C176.42 83.52 176.32 90.42 176.20 93.00 C176.08 95.58 176.23 94.73 175.70 95.50 C175.17 96.27 176.02 97.05 173.00 97.60 C169.98 98.15 160.17 98.60 157.60 98.80 C159.15 99.12 164.83 99.63 166.90 100.70 C168.97 101.77 169.25 103.07 170.00 105.20 C170.75 107.33 171.07 110.75 171.40 113.50 C171.73 116.25 172.00 119.48 172.00 121.70 C172.00 123.92 172.08 125.43 171.40 126.80 C170.72 128.17 170.88 129.03 167.90 129.90 C164.92 130.77 155.90 131.65 153.50 132.00 C155.03 132.33 160.72 132.97 162.70 134.00 C164.68 135.03 164.82 136.82 165.40 138.20 C165.98 139.58 166.20 140.93 166.20 142.30 C166.20 143.67 166.15 145.03 165.40 146.40 C164.65 147.77 163.68 149.40 161.70 150.50 C159.72 151.60 154.87 152.58 153.50 153.00 C155.73 153.33 163.72 154.22 166.90 155.00 C170.08 155.78 171.47 156.05 172.60 157.70 C173.73 159.35 173.63 161.98 173.70 164.90 C173.77 167.82 173.38 172.12 173.00 175.20 C172.62 178.28 172.25 181.00 171.40 183.40 C170.55 185.80 169.35 188.05 167.90 189.60 C166.45 191.15 164.07 191.97 162.70 192.70 C161.33 193.43 160.20 193.78 159.70 194.00 L176.80 194.00 L176.80 8.90 Z" fill="#b9b9b9" stroke="none"/>
<path d="M176.60 8.90 C176.58 12.08 176.57 23.82 176.50 28.00 C176.43 32.18 176.43 32.35 176.20 34.00 C175.97 35.65 175.97 36.87 175.10 37.90 C174.23 38.93 173.02 39.60 171.00 40.20 C168.98 40.80 167.47 41.17 163.00 41.50 C158.53 41.83 147.33 42.08 144.20 42.20 C146.27 42.52 153.68 43.27 156.60 44.10 C159.52 44.93 160.60 45.83 161.70 47.20 C162.80 48.57 163.07 50.67 163.20 52.30 C163.33 53.93 162.40 55.75 162.50 57.00 C162.60 58.25 163.42 58.70 163.80 59.80 C164.18 60.90 164.98 62.55 164.80 63.60 C164.62 64.65 164.25 65.48 162.70 66.10 C161.15 66.72 156.70 67.10 155.50 67.30 C157.40 67.48 163.80 67.98 166.90 68.40 C170.00 68.82 172.57 69.22 174.10 69.80 C175.63 70.38 175.72 70.20 176.10 71.90 C176.48 73.60 176.38 76.48 176.40 80.00 C176.42 83.52 176.32 90.42 176.20 93.00 C176.08 95.58 176.23 94.73 175.70 95.50 C175.17 96.27 176.02 97.05 173.00 97.60 C169.98 98.15 160.17 98.60 157.60 98.80 C159.15 99.12 164.83 99.63 166.90 100.70 C168.97 101.77 169.25 103.07 170.00 105.20 C170.75 107.33 171.07 110.75 171.40 113.50 C171.73 116.25 172.00 119.48 172.00 121.70 C172.00 123.92 172.08 125.43 171.40 126.80 C170.72 128.17 170.88 129.03 167.90 129.90 C164.92 130.77 155.90 131.65 153.50 132.00 C155.03 132.33 160.72 132.97 162.70 134.00 C164.68 135.03 164.82 136.82 165.40 138.20 C165.98 139.58 166.20 140.93 166.20 142.30 C166.20 143.67 166.15 145.03 165.40 146.40 C164.65 147.77 163.68 149.40 161.70 150.50 C159.72 151.60 154.87 152.58 153.50 153.00 C155.73 153.33 163.72 154.22 166.90 155.00 C170.08 155.78 171.47 156.05 172.60 157.70 C173.73 159.35 173.63 161.98 173.70 164.90 C173.77 167.82 173.38 172.12 173.00 175.20 C172.62 178.28 172.25 181.00 171.40 183.40 C170.55 185.80 169.35 188.05 167.90 189.60 C166.45 191.15 164.07 191.97 162.70 192.70 C161.33 193.43 160.20 193.78 159.70 194.00" fill="none" stroke="#111" stroke-width="1.15" stroke-linejoin="miter"/>
<path d="M141.60 194.00 L141.60 8.90 L181.10 8.90" fill="none" stroke="#585858" stroke-width="1.1"/>
<line x1="141.10" y1="194.00" x2="181.10" y2="194.00" stroke="#222" stroke-width="1.0"/>
<line x1="176.80" y1="8.90" x2="176.80" y2="194.00" stroke="#111" stroke-width="1.05"/>
<line x1="176.80" y1="194.00" x2="181.10" y2="194.00" stroke="#111" stroke-width="1.0"/>
<text transform="translate(192.20 194.00) rotate(-90)" font-size="10.2" text-anchor="middle">0</text>
<line x1="176.80" y1="175.49" x2="179.00" y2="175.49" stroke="#222" stroke-width="0.9"/>
<line x1="176.80" y1="156.98" x2="181.10" y2="156.98" stroke="#111" stroke-width="1.0"/>
<text transform="translate(192.20 156.98) rotate(-90)" font-size="10.2" text-anchor="middle">100</text>
<line x1="176.80" y1="138.47" x2="179.00" y2="138.47" stroke="#222" stroke-width="0.9"/>
<line x1="176.80" y1="119.96" x2="181.10" y2="119.96" stroke="#111" stroke-width="1.0"/>
<text transform="translate(192.20 119.96) rotate(-90)" font-size="10.2" text-anchor="middle">200</text>
<line x1="176.80" y1="101.45" x2="179.00" y2="101.45" stroke="#222" stroke-width="0.9"/>
<line x1="176.80" y1="82.94" x2="181.10" y2="82.94" stroke="#111" stroke-width="1.0"/>
<text transform="translate(192.20 82.94) rotate(-90)" font-size="10.2" text-anchor="middle">300</text>
<line x1="176.80" y1="64.43" x2="179.00" y2="64.43" stroke="#222" stroke-width="0.9"/>
<line x1="176.80" y1="45.92" x2="181.10" y2="45.92" stroke="#111" stroke-width="1.0"/>
<text transform="translate(192.20 45.92) rotate(-90)" font-size="10.2" text-anchor="middle">400</text>
<line x1="176.80" y1="27.41" x2="179.00" y2="27.41" stroke="#222" stroke-width="0.9"/>
<line x1="176.80" y1="8.90" x2="181.10" y2="8.90" stroke="#111" stroke-width="1.0"/>
<text transform="translate(192.20 8.90) rotate(-90)" font-size="10.2" text-anchor="middle">500</text>
<text transform="translate(205.00 94.60) rotate(-90)" font-size="11.3" text-anchor="middle">Magnon Energy (meV)</text>
<rect x="326.20" y="8.70" width="99.00" height="184.70" fill="#0b0b0b"/>
<g clip-path="url(#cpb)">
<g filter="url(#blur)"><path d="M326.20 99.31 L327.30 99.42 L328.39 99.73 L329.49 100.25 L330.58 100.96 L331.68 101.87 L332.77 102.97 L333.87 104.24 L334.96 105.67 L336.06 107.25 L337.16 108.97 L338.25 110.82 L339.35 112.77 L340.44 114.81 L341.54 116.92 L342.63 119.09 L343.73 121.30 L344.82 123.53 L345.92 125.78 L347.02 128.02 L348.11 130.23 L349.21 132.41 L350.30 134.55 L351.40 136.62 L352.49 138.63 L353.59 140.56 L354.68 142.41 L355.78 144.18 L356.88 145.87 L357.97 147.47 L359.07 149.00 L360.16 150.45 L361.26 151.82 L362.35 153.12 L363.45 154.34 L364.54 155.49 L365.64 156.56 L366.74 157.54 L367.83 158.43 L368.93 159.23 L370.02 159.92 L371.12 160.50 L372.21 160.96 L373.31 161.29 L374.40 161.49 L375.50 161.56 L376.60 161.49 L377.71 161.29 L378.81 160.96 L379.92 160.50 L381.02 159.92 L382.13 159.23 L383.23 158.43 L384.34 157.54 L385.44 156.56 L386.54 155.49 L387.65 154.34 L388.75 153.12 L389.86 151.82 L390.96 150.45 L392.07 149.00 L393.17 147.47 L394.28 145.87 L395.38 144.18 L396.48 142.41 L397.59 140.56 L398.69 138.63 L399.80 136.62 L400.90 134.55 L402.01 132.41 L403.11 130.23 L404.22 128.02 L405.32 125.78 L406.42 123.53 L407.53 121.30 L408.63 119.09 L409.74 116.92 L410.84 114.81 L411.95 112.77 L413.05 110.82 L414.16 108.97 L415.26 107.25 L416.36 105.67 L417.47 104.24 L418.57 102.97 L419.68 101.87 L420.78 100.96 L421.89 100.25 L422.99 99.73 L424.10 99.42 L425.20 99.31" stroke="#56a8d4" stroke-width="2.87" stroke-opacity="0.95" fill="none"/><path d="M326.20 99.20 L327.30 99.31 L328.39 99.62 L329.49 100.14 L330.58 100.85 L331.68 101.76 L332.77 102.86 L333.87 104.13 L334.96 105.56 L336.06 107.14 L337.16 108.86 L338.25 110.71 L339.35 112.65 L340.44 114.69 L341.54 116.81 L342.63 118.98 L343.73 121.19 L344.82 123.42 L345.92 125.67 L347.02 127.90 L348.11 130.12 L349.21 132.30 L350.30 134.44 L351.40 136.51 L352.49 138.52 L353.59 140.45 L354.68 142.29 L355.78 144.05 L356.88 145.70 L357.97 147.26 L359.07 148.71 L360.16 150.06 L361.26 151.31 L362.35 152.45 L363.45 153.49 L364.54 154.42 L365.64 155.26 L366.74 155.99 L367.83 156.64 L368.93 157.19 L370.02 157.65 L371.12 158.02 L372.21 158.31 L373.31 158.51 L374.40 158.64 L375.50 158.68 L376.60 158.64 L377.71 158.51 L378.81 158.31 L379.92 158.02 L381.02 157.65 L382.13 157.19 L383.23 156.64 L384.34 155.99 L385.44 155.26 L386.54 154.42 L387.65 153.49 L388.75 152.45 L389.86 151.31 L390.96 150.06 L392.07 148.71 L393.17 147.26 L394.28 145.70 L395.38 144.05 L396.48 142.29 L397.59 140.45 L398.69 138.52 L399.80 136.51 L400.90 134.44 L402.01 132.30 L403.11 130.12 L404.22 127.90 L405.32 125.67 L406.42 123.42 L407.53 121.19 L408.63 118.98 L409.74 116.81 L410.84 114.69 L411.95 112.65 L413.05 110.71 L414.16 108.86 L415.26 107.14 L416.36 105.56 L417.47 104.13 L418.57 102.86 L419.68 101.76 L420.78 100.85 L421.89 100.14 L422.99 99.62 L424.10 99.31 L425.20 99.20" stroke="#56a8d4" stroke-width="2.87" stroke-opacity="0.95" fill="none"/><path d="M326.20 99.09 L327.30 99.20 L328.39 99.51 L329.49 100.02 L330.58 100.74 L331.68 101.65 L332.77 102.75 L333.87 104.01 L334.96 105.45 L336.06 107.03 L337.16 108.75 L338.25 110.59 L339.35 112.54 L340.44 114.58 L341.54 116.70 L342.63 118.87 L343.73 121.08 L344.82 123.31 L345.92 125.56 L347.02 127.79 L348.11 130.01 L349.21 132.19 L350.30 134.33 L351.40 136.40 L352.49 138.41 L353.59 140.33 L354.68 142.17 L355.78 143.91 L356.88 145.54 L357.97 147.05 L359.07 148.43 L360.16 149.68 L361.26 150.80 L362.35 151.78 L363.45 152.63 L364.54 153.36 L365.64 153.96 L366.74 154.45 L367.83 154.84 L368.93 155.15 L370.02 155.38 L371.12 155.55 L372.21 155.66 L373.31 155.74 L374.40 155.78 L375.50 155.80 L376.60 155.78 L377.71 155.74 L378.81 155.66 L379.92 155.55 L381.02 155.38 L382.13 155.15 L383.23 154.84 L384.34 154.45 L385.44 153.96 L386.54 153.36 L387.65 152.63 L388.75 151.78 L389.86 150.80 L390.96 149.68 L392.07 148.43 L393.17 147.05 L394.28 145.54 L395.38 143.91 L396.48 142.17 L397.59 140.33 L398.69 138.41 L399.80 136.40 L400.90 134.33 L402.01 132.19 L403.11 130.01 L404.22 127.79 L405.32 125.56 L406.42 123.31 L407.53 121.08 L408.63 118.87 L409.74 116.70 L410.84 114.58 L411.95 112.54 L413.05 110.59 L414.16 108.75 L415.26 107.03 L416.36 105.45 L417.47 104.01 L418.57 102.75 L419.68 101.65 L420.78 100.74 L421.89 100.02 L422.99 99.51 L424.10 99.20 L425.20 99.09" stroke="#56a8d4" stroke-width="2.87" stroke-opacity="0.95" fill="none"/><path d="M326.20 144.12 L327.30 143.87 L328.39 143.72 L329.49 143.66 L330.58 143.70 L331.68 143.84 L332.77 144.08 L333.87 144.43 L334.96 144.90 L336.06 145.49 L337.16 146.20 L338.25 147.04 L339.35 148.02 L340.44 149.13 L341.54 150.37 L342.63 151.73 L343.73 153.22 L344.82 154.83 L345.92 156.54 L347.02 158.34 L348.11 160.22 L349.21 162.16 L350.30 164.15 L351.40 166.17 L352.49 168.19 L353.59 170.20 L354.68 172.19 L355.78 174.13 L356.88 176.01 L357.97 177.81 L359.07 179.53 L360.16 181.14 L361.26 182.65 L362.35 184.05 L363.45 185.32 L364.54 186.47 L365.64 187.51 L366.74 188.42 L367.83 189.21 L368.93 189.89 L370.02 190.45 L371.12 190.91 L372.21 191.26 L373.31 191.50 L374.40 191.65 L375.50 191.70 L376.60 191.65 L377.71 191.50 L378.81 191.26 L379.92 190.91 L381.02 190.45 L382.13 189.89 L383.23 189.21 L384.34 188.42 L385.44 187.51 L386.54 186.47 L387.65 185.32 L388.75 184.05 L389.86 182.65 L390.96 181.14 L392.07 179.53 L393.17 177.81 L394.28 176.01 L395.38 174.13 L396.48 172.19 L397.59 170.20 L398.69 168.19 L399.80 166.17 L400.90 164.15 L402.01 162.16 L403.11 160.22 L404.22 158.34 L405.32 156.54 L406.42 154.83 L407.53 153.22 L408.63 151.73 L409.74 150.37 L410.84 149.13 L411.95 148.02 L413.05 147.04 L414.16 146.20 L415.26 145.49 L416.36 144.90 L417.47 144.43 L418.57 144.08 L419.68 143.84 L420.78 143.70 L421.89 143.66 L422.99 143.72 L424.10 143.87 L425.20 144.12" stroke="#56a8d4" stroke-width="2.87" stroke-opacity="0.95" fill="none"/><path d="M326.20 141.31 L327.30 141.35 L328.39 141.45 L329.49 141.63 L330.58 141.88 L331.68 142.21 L332.77 142.63 L333.87 143.14 L334.96 143.75 L336.06 144.47 L337.16 145.30 L338.25 146.24 L339.35 147.31 L340.44 148.50 L341.54 149.81 L342.63 151.24 L343.73 152.78 L344.82 154.43 L345.92 156.18 L347.02 158.02 L348.11 159.93 L349.21 161.90 L350.30 163.91 L351.40 165.95 L352.49 167.98 L353.59 170.01 L354.68 172.01 L355.78 173.96 L356.88 175.84 L357.97 177.65 L359.07 179.37 L360.16 180.99 L361.26 182.50 L362.35 183.89 L363.45 185.17 L364.54 186.33 L365.64 187.36 L366.74 188.27 L367.83 189.06 L368.93 189.74 L370.02 190.30 L371.12 190.76 L372.21 191.11 L373.31 191.36 L374.40 191.50 L375.50 191.55 L376.60 191.50 L377.71 191.36 L378.81 191.11 L379.92 190.76 L381.02 190.30 L382.13 189.74 L383.23 189.06 L384.34 188.27 L385.44 187.36 L386.54 186.33 L387.65 185.17 L388.75 183.89 L389.86 182.50 L390.96 180.99 L392.07 179.37 L393.17 177.65 L394.28 175.84 L395.38 173.96 L396.48 172.01 L397.59 170.01 L398.69 167.98 L399.80 165.95 L400.90 163.91 L402.01 161.90 L403.11 159.93 L404.22 158.02 L405.32 156.18 L406.42 154.43 L407.53 152.78 L408.63 151.24 L409.74 149.81 L410.84 148.50 L411.95 147.31 L413.05 146.24 L414.16 145.30 L415.26 144.47 L416.36 143.75 L417.47 143.14 L418.57 142.63 L419.68 142.21 L420.78 141.88 L421.89 141.63 L422.99 141.45 L424.10 141.35 L425.20 141.31" stroke="#56a8d4" stroke-width="2.87" stroke-opacity="0.95" fill="none"/><path d="M326.20 138.51 L327.30 138.82 L328.39 139.19 L329.49 139.60 L330.58 140.06 L331.68 140.59 L332.77 141.18 L333.87 141.85 L334.96 142.60 L336.06 143.45 L337.16 144.39 L338.25 145.44 L339.35 146.60 L340.44 147.87 L341.54 149.25 L342.63 150.74 L343.73 152.34 L344.82 154.04 L345.92 155.83 L347.02 157.70 L348.11 159.64 L349.21 161.64 L350.30 163.67 L351.40 165.72 L352.49 167.78 L353.59 169.82 L354.68 171.82 L355.78 173.78 L356.88 175.67 L357.97 177.49 L359.07 179.21 L360.16 180.83 L361.26 182.35 L362.35 183.74 L363.45 185.02 L364.54 186.18 L365.64 187.21 L366.74 188.12 L367.83 188.91 L368.93 189.59 L370.02 190.16 L371.12 190.61 L372.21 190.96 L373.31 191.21 L374.40 191.36 L375.50 191.41 L376.60 191.36 L377.71 191.21 L378.81 190.96 L379.92 190.61 L381.02 190.16 L382.13 189.59 L383.23 188.91 L384.34 188.12 L385.44 187.21 L386.54 186.18 L387.65 185.02 L388.75 183.74 L389.86 182.35 L390.96 180.83 L392.07 179.21 L393.17 177.49 L394.28 175.67 L395.38 173.78 L396.48 171.82 L397.59 169.82 L398.69 167.78 L399.80 165.72 L400.90 163.67 L402.01 161.64 L403.11 159.64 L404.22 157.70 L405.32 155.83 L406.42 154.04 L407.53 152.34 L408.63 150.74 L409.74 149.25 L410.84 147.87 L411.95 146.60 L413.05 145.44 L414.16 144.39 L415.26 143.45 L416.36 142.60 L417.47 141.85 L418.57 141.18 L419.68 140.59 L420.78 140.06 L421.89 139.60 L422.99 139.19 L424.10 138.82 L425.20 138.51" stroke="#56a8d4" stroke-width="2.87" stroke-opacity="0.95" fill="none"/><path d="M375.50 42.68 L375.00 42.69 L374.49 42.71 L373.99 42.75 L373.49 42.80 L372.98 42.86 L372.48 42.93" stroke="#56a8d4" stroke-width="2.6" stroke-opacity="0.45" fill="none"/><path d="M372.73 42.90 L372.22 42.98 L371.72 43.07 L371.22 43.18 L370.71 43.30 L370.21 43.43 L369.71 43.58" stroke="#56a8d4" stroke-width="2.6" stroke-opacity="0.45" fill="none"/><path d="M369.95 43.50 L369.45 43.65 L368.95 43.81 L368.44 43.98 L367.94 44.16 L367.44 44.35 L366.93 44.55" stroke="#56a8d4" stroke-width="2.6" stroke-opacity="0.45" fill="none"/><path d="M367.18 44.45 L366.68 44.65 L366.17 44.86 L365.67 45.08 L365.17 45.31 L364.66 45.54 L364.16 45.78" stroke="#56a8d4" stroke-width="2.6" stroke-opacity="0.44" fill="none"/><path d="M364.41 45.66 L363.90 45.91 L363.40 46.16 L362.90 46.41 L362.39 46.68 L361.89 46.94 L361.39 47.21" stroke="#56a8d4" stroke-width="2.6" stroke-opacity="0.43" fill="none"/><path d="M361.63 47.08 L361.13 47.35 L360.63 47.63 L360.12 47.92 L359.62 48.20 L359.12 48.50 L358.61 48.79" stroke="#56a8d4" stroke-width="2.6" stroke-opacity="0.42" fill="none"/><path d="M358.86 48.65 L358.36 48.94 L357.85 49.24 L357.35 49.55 L356.85 49.85 L356.34 50.16 L355.84 50.47" stroke="#56a8d4" stroke-width="2.6" stroke-opacity="0.41" fill="none"/><path d="M356.09 50.32 L355.58 50.63 L355.08 50.95 L354.58 51.27 L354.08 51.59 L353.57 51.91 L353.07 52.24" stroke="#56a8d4" stroke-width="2.6" stroke-opacity="0.40" fill="none"/><path d="M353.31 52.08 L352.81 52.40 L352.31 52.73 L351.81 53.06 L351.30 53.39 L350.80 53.72 L350.30 54.06" stroke="#56a8d4" stroke-width="2.6" stroke-opacity="0.38" fill="none"/><path d="M350.54 53.89 L350.04 54.23 L349.54 54.56 L349.03 54.90 L348.53 55.24 L348.03 55.58 L347.52 55.92" stroke="#56a8d4" stroke-width="2.6" stroke-opacity="0.36" fill="none"/><path d="M347.77 55.75 L347.27 56.09 L346.76 56.44 L346.26 56.78 L345.76 57.12 L345.25 57.47 L344.75 57.81" stroke="#56a8d4" stroke-width="2.6" stroke-opacity="0.34" fill="none"/><path d="M345.00 57.65 L344.49 57.99 L343.99 58.34 L343.49 58.68 L342.98 59.03 L342.48 59.38 L341.98 59.73" stroke="#56a8d4" stroke-width="2.6" stroke-opacity="0.32" fill="none"/><path d="M342.22 59.56 L341.72 59.91 L341.22 60.25 L340.71 60.60 L340.21 60.95 L339.71 61.30 L339.20 61.65" stroke="#56a8d4" stroke-width="2.6" stroke-opacity="0.30" fill="none"/><path d="M339.45 61.48 L338.95 61.83 L338.44 62.17 L337.94 62.52 L337.44 62.87 L336.93 63.21 L336.43 63.56" stroke="#56a8d4" stroke-width="2.6" stroke-opacity="0.27" fill="none"/><path d="M336.68 63.39 L336.17 63.73 L335.67 64.08 L335.17 64.42 L334.66 64.76 L334.16 65.09 L333.66 65.43" stroke="#56a8d4" stroke-width="2.6" stroke-opacity="0.24" fill="none"/><path d="M333.90 65.27 L333.40 65.60 L332.90 65.93 L332.39 66.25 L331.89 66.57 L331.39 66.88 L330.88 67.18" stroke="#56a8d4" stroke-width="2.6" stroke-opacity="0.21" fill="none"/><path d="M375.50 42.68 L376.01 42.69 L376.51 42.71 L377.02 42.75 L377.53 42.80 L378.04 42.86 L378.54 42.93" stroke="#56a8d4" stroke-width="2.6" stroke-opacity="0.45" fill="none"/><path d="M378.30 42.90 L378.80 42.98 L379.31 43.07 L379.82 43.18 L380.33 43.30 L380.83 43.43 L381.34 43.58" stroke="#56a8d4" stroke-width="2.6" stroke-opacity="0.45" fill="none"/><path d="M381.09 43.50 L381.60 43.65 L382.11 43.81 L382.61 43.98 L383.12 44.16 L383.63 44.35 L384.14 44.55" stroke="#56a8d4" stroke-width="2.6" stroke-opacity="0.45" fill="none"/><path d="M383.89 44.45 L384.39 44.65 L384.90 44.86 L385.41 45.08 L385.92 45.31 L386.42 45.54 L386.93 45.78" stroke="#56a8d4" stroke-width="2.6" stroke-opacity="0.44" fill="none"/><path d="M386.68 45.66 L387.19 45.91 L387.70 46.16 L388.20 46.41 L388.71 46.68 L389.22 46.94 L389.73 47.21" stroke="#56a8d4" stroke-width="2.6" stroke-opacity="0.43" fill="none"/><path d="M389.48 47.08 L389.99 47.35 L390.49 47.63 L391.00 47.92 L391.51 48.20 L392.01 48.50 L392.52 48.79" stroke="#56a8d4" stroke-width="2.6" stroke-opacity="0.42" fill="none"/><path d="M392.27 48.65 L392.78 48.94 L393.29 49.24 L393.80 49.55 L394.30 49.85 L394.81 50.16 L395.32 50.47" stroke="#56a8d4" stroke-width="2.6" stroke-opacity="0.41" fill="none"/><path d="M395.07 50.32 L395.58 50.63 L396.08 50.95 L396.59 51.27 L397.10 51.59 L397.61 51.91 L398.11 52.24" stroke="#56a8d4" stroke-width="2.6" stroke-opacity="0.40" fill="none"/><path d="M397.87 52.08 L398.37 52.40 L398.88 52.73 L399.39 53.06 L399.89 53.39 L400.40 53.72 L400.91 54.06" stroke="#56a8d4" stroke-width="2.6" stroke-opacity="0.38" fill="none"/><path d="M400.66 53.89 L401.17 54.23 L401.68 54.56 L402.18 54.90 L402.69 55.24 L403.20 55.58 L403.70 55.92" stroke="#56a8d4" stroke-width="2.6" stroke-opacity="0.36" fill="none"/><path d="M403.46 55.75 L403.96 56.09 L404.47 56.44 L404.98 56.78 L405.49 57.12 L405.99 57.47 L406.50 57.81" stroke="#56a8d4" stroke-width="2.6" stroke-opacity="0.34" fill="none"/><path d="M406.25 57.65 L406.76 57.99 L407.27 58.34 L407.77 58.68 L408.28 59.03 L408.79 59.38 L409.30 59.73" stroke="#56a8d4" stroke-width="2.6" stroke-opacity="0.32" fill="none"/><path d="M409.05 59.56 L409.55 59.91 L410.06 60.25 L410.57 60.60 L411.08 60.95 L411.58 61.30 L412.09 61.65" stroke="#56a8d4" stroke-width="2.6" stroke-opacity="0.30" fill="none"/><path d="M411.84 61.48 L412.35 61.83 L412.86 62.17 L413.37 62.52 L413.87 62.87 L414.38 63.21 L414.89 63.56" stroke="#56a8d4" stroke-width="2.6" stroke-opacity="0.27" fill="none"/><path d="M414.64 63.39 L415.15 63.73 L415.65 64.08 L416.16 64.42 L416.67 64.76 L417.18 65.09 L417.68 65.43" stroke="#56a8d4" stroke-width="2.6" stroke-opacity="0.24" fill="none"/><path d="M417.43 65.27 L417.94 65.60 L418.45 65.93 L418.96 66.25 L419.46 66.57 L419.97 66.88 L420.48 67.18" stroke="#56a8d4" stroke-width="2.6" stroke-opacity="0.21" fill="none"/></g>
<g filter="url(#soft)"><path d="M326.20 99.31 L327.30 99.42 L328.39 99.73 L329.49 100.25 L330.58 100.96 L331.68 101.87 L332.77 102.97 L333.87 104.24 L334.96 105.67 L336.06 107.25 L337.16 108.97 L338.25 110.82 L339.35 112.77 L340.44 114.81 L341.54 116.92 L342.63 119.09 L343.73 121.30 L344.82 123.53 L345.92 125.78 L347.02 128.02 L348.11 130.23 L349.21 132.41 L350.30 134.55 L351.40 136.62 L352.49 138.63 L353.59 140.56 L354.68 142.41 L355.78 144.18 L356.88 145.87 L357.97 147.47 L359.07 149.00 L360.16 150.45 L361.26 151.82 L362.35 153.12 L363.45 154.34 L364.54 155.49 L365.64 156.56 L366.74 157.54 L367.83 158.43 L368.93 159.23 L370.02 159.92 L371.12 160.50 L372.21 160.96 L373.31 161.29 L374.40 161.49 L375.50 161.56 L376.60 161.49 L377.71 161.29 L378.81 160.96 L379.92 160.50 L381.02 159.92 L382.13 159.23 L383.23 158.43 L384.34 157.54 L385.44 156.56 L386.54 155.49 L387.65 154.34 L388.75 153.12 L389.86 151.82 L390.96 150.45 L392.07 149.00 L393.17 147.47 L394.28 145.87 L395.38 144.18 L396.48 142.41 L397.59 140.56 L398.69 138.63 L399.80 136.62 L400.90 134.55 L402.01 132.41 L403.11 130.23 L404.22 128.02 L405.32 125.78 L406.42 123.53 L407.53 121.30 L408.63 119.09 L409.74 116.92 L410.84 114.81 L411.95 112.77 L413.05 110.82 L414.16 108.97 L415.26 107.25 L416.36 105.67 L417.47 104.24 L418.57 102.97 L419.68 101.87 L420.78 100.96 L421.89 100.25 L422.99 99.73 L424.10 99.42 L425.20 99.31" stroke="#7cc3e4" stroke-width="2.20" stroke-opacity="0.50" fill="none"/><path d="M326.20 99.20 L327.30 99.31 L328.39 99.62 L329.49 100.14 L330.58 100.85 L331.68 101.76 L332.77 102.86 L333.87 104.13 L334.96 105.56 L336.06 107.14 L337.16 108.86 L338.25 110.71 L339.35 112.65 L340.44 114.69 L341.54 116.81 L342.63 118.98 L343.73 121.19 L344.82 123.42 L345.92 125.67 L347.02 127.90 L348.11 130.12 L349.21 132.30 L350.30 134.44 L351.40 136.51 L352.49 138.52 L353.59 140.45 L354.68 142.29 L355.78 144.05 L356.88 145.70 L357.97 147.26 L359.07 148.71 L360.16 150.06 L361.26 151.31 L362.35 152.45 L363.45 153.49 L364.54 154.42 L365.64 155.26 L366.74 155.99 L367.83 156.64 L368.93 157.19 L370.02 157.65 L371.12 158.02 L372.21 158.31 L373.31 158.51 L374.40 158.64 L375.50 158.68 L376.60 158.64 L377.71 158.51 L378.81 158.31 L379.92 158.02 L381.02 157.65 L382.13 157.19 L383.23 156.64 L384.34 155.99 L385.44 155.26 L386.54 154.42 L387.65 153.49 L388.75 152.45 L389.86 151.31 L390.96 150.06 L392.07 148.71 L393.17 147.26 L394.28 145.70 L395.38 144.05 L396.48 142.29 L397.59 140.45 L398.69 138.52 L399.80 136.51 L400.90 134.44 L402.01 132.30 L403.11 130.12 L404.22 127.90 L405.32 125.67 L406.42 123.42 L407.53 121.19 L408.63 118.98 L409.74 116.81 L410.84 114.69 L411.95 112.65 L413.05 110.71 L414.16 108.86 L415.26 107.14 L416.36 105.56 L417.47 104.13 L418.57 102.86 L419.68 101.76 L420.78 100.85 L421.89 100.14 L422.99 99.62 L424.10 99.31 L425.20 99.20" stroke="#7cc3e4" stroke-width="2.20" stroke-opacity="0.50" fill="none"/><path d="M326.20 99.09 L327.30 99.20 L328.39 99.51 L329.49 100.02 L330.58 100.74 L331.68 101.65 L332.77 102.75 L333.87 104.01 L334.96 105.45 L336.06 107.03 L337.16 108.75 L338.25 110.59 L339.35 112.54 L340.44 114.58 L341.54 116.70 L342.63 118.87 L343.73 121.08 L344.82 123.31 L345.92 125.56 L347.02 127.79 L348.11 130.01 L349.21 132.19 L350.30 134.33 L351.40 136.40 L352.49 138.41 L353.59 140.33 L354.68 142.17 L355.78 143.91 L356.88 145.54 L357.97 147.05 L359.07 148.43 L360.16 149.68 L361.26 150.80 L362.35 151.78 L363.45 152.63 L364.54 153.36 L365.64 153.96 L366.74 154.45 L367.83 154.84 L368.93 155.15 L370.02 155.38 L371.12 155.55 L372.21 155.66 L373.31 155.74 L374.40 155.78 L375.50 155.80 L376.60 155.78 L377.71 155.74 L378.81 155.66 L379.92 155.55 L381.02 155.38 L382.13 155.15 L383.23 154.84 L384.34 154.45 L385.44 153.96 L386.54 153.36 L387.65 152.63 L388.75 151.78 L389.86 150.80 L390.96 149.68 L392.07 148.43 L393.17 147.05 L394.28 145.54 L395.38 143.91 L396.48 142.17 L397.59 140.33 L398.69 138.41 L399.80 136.40 L400.90 134.33 L402.01 132.19 L403.11 130.01 L404.22 127.79 L405.32 125.56 L406.42 123.31 L407.53 121.08 L408.63 118.87 L409.74 116.70 L410.84 114.58 L411.95 112.54 L413.05 110.59 L414.16 108.75 L415.26 107.03 L416.36 105.45 L417.47 104.01 L418.57 102.75 L419.68 101.65 L420.78 100.74 L421.89 100.02 L422.99 99.51 L424.10 99.20 L425.20 99.09" stroke="#7cc3e4" stroke-width="2.20" stroke-opacity="0.50" fill="none"/><path d="M326.20 99.31 L327.30 99.42 L328.39 99.73 L329.49 100.25 L330.58 100.96 L331.68 101.87 L332.77 102.97 L333.87 104.24 L334.96 105.67 L336.06 107.25 L337.16 108.97 L338.25 110.82 L339.35 112.77 L340.44 114.81 L341.54 116.92 L342.63 119.09 L343.73 121.30 L344.82 123.53 L345.92 125.78 L347.02 128.02 L348.11 130.23 L349.21 132.41 L350.30 134.55 L351.40 136.62 L352.49 138.63 L353.59 140.56 L354.68 142.41 L355.78 144.18 L356.88 145.87 L357.97 147.47 L359.07 149.00 L360.16 150.45 L361.26 151.82 L362.35 153.12 L363.45 154.34 L364.54 155.49 L365.64 156.56 L366.74 157.54 L367.83 158.43 L368.93 159.23 L370.02 159.92 L371.12 160.50 L372.21 160.96 L373.31 161.29 L374.40 161.49 L375.50 161.56 L376.60 161.49 L377.71 161.29 L378.81 160.96 L379.92 160.50 L381.02 159.92 L382.13 159.23 L383.23 158.43 L384.34 157.54 L385.44 156.56 L386.54 155.49 L387.65 154.34 L388.75 153.12 L389.86 151.82 L390.96 150.45 L392.07 149.00 L393.17 147.47 L394.28 145.87 L395.38 144.18 L396.48 142.41 L397.59 140.56 L398.69 138.63 L399.80 136.62 L400.90 134.55 L402.01 132.41 L403.11 130.23 L404.22 128.02 L405.32 125.78 L406.42 123.53 L407.53 121.30 L408.63 119.09 L409.74 116.92 L410.84 114.81 L411.95 112.77 L413.05 110.82 L414.16 108.97 L415.26 107.25 L416.36 105.67 L417.47 104.24 L418.57 102.97 L419.68 101.87 L420.78 100.96 L421.89 100.25 L422.99 99.73 L424.10 99.42 L425.20 99.31" stroke="#acdaf1" stroke-width="1.10" stroke-opacity="1.00" fill="none"/><path d="M326.20 99.20 L327.30 99.31 L328.39 99.62 L329.49 100.14 L330.58 100.85 L331.68 101.76 L332.77 102.86 L333.87 104.13 L334.96 105.56 L336.06 107.14 L337.16 108.86 L338.25 110.71 L339.35 112.65 L340.44 114.69 L341.54 116.81 L342.63 118.98 L343.73 121.19 L344.82 123.42 L345.92 125.67 L347.02 127.90 L348.11 130.12 L349.21 132.30 L350.30 134.44 L351.40 136.51 L352.49 138.52 L353.59 140.45 L354.68 142.29 L355.78 144.05 L356.88 145.70 L357.97 147.26 L359.07 148.71 L360.16 150.06 L361.26 151.31 L362.35 152.45 L363.45 153.49 L364.54 154.42 L365.64 155.26 L366.74 155.99 L367.83 156.64 L368.93 157.19 L370.02 157.65 L371.12 158.02 L372.21 158.31 L373.31 158.51 L374.40 158.64 L375.50 158.68 L376.60 158.64 L377.71 158.51 L378.81 158.31 L379.92 158.02 L381.02 157.65 L382.13 157.19 L383.23 156.64 L384.34 155.99 L385.44 155.26 L386.54 154.42 L387.65 153.49 L388.75 152.45 L389.86 151.31 L390.96 150.06 L392.07 148.71 L393.17 147.26 L394.28 145.70 L395.38 144.05 L396.48 142.29 L397.59 140.45 L398.69 138.52 L399.80 136.51 L400.90 134.44 L402.01 132.30 L403.11 130.12 L404.22 127.90 L405.32 125.67 L406.42 123.42 L407.53 121.19 L408.63 118.98 L409.74 116.81 L410.84 114.69 L411.95 112.65 L413.05 110.71 L414.16 108.86 L415.26 107.14 L416.36 105.56 L417.47 104.13 L418.57 102.86 L419.68 101.76 L420.78 100.85 L421.89 100.14 L422.99 99.62 L424.10 99.31 L425.20 99.20" stroke="#acdaf1" stroke-width="1.10" stroke-opacity="1.00" fill="none"/><path d="M326.20 99.09 L327.30 99.20 L328.39 99.51 L329.49 100.02 L330.58 100.74 L331.68 101.65 L332.77 102.75 L333.87 104.01 L334.96 105.45 L336.06 107.03 L337.16 108.75 L338.25 110.59 L339.35 112.54 L340.44 114.58 L341.54 116.70 L342.63 118.87 L343.73 121.08 L344.82 123.31 L345.92 125.56 L347.02 127.79 L348.11 130.01 L349.21 132.19 L350.30 134.33 L351.40 136.40 L352.49 138.41 L353.59 140.33 L354.68 142.17 L355.78 143.91 L356.88 145.54 L357.97 147.05 L359.07 148.43 L360.16 149.68 L361.26 150.80 L362.35 151.78 L363.45 152.63 L364.54 153.36 L365.64 153.96 L366.74 154.45 L367.83 154.84 L368.93 155.15 L370.02 155.38 L371.12 155.55 L372.21 155.66 L373.31 155.74 L374.40 155.78 L375.50 155.80 L376.60 155.78 L377.71 155.74 L378.81 155.66 L379.92 155.55 L381.02 155.38 L382.13 155.15 L383.23 154.84 L384.34 154.45 L385.44 153.96 L386.54 153.36 L387.65 152.63 L388.75 151.78 L389.86 150.80 L390.96 149.68 L392.07 148.43 L393.17 147.05 L394.28 145.54 L395.38 143.91 L396.48 142.17 L397.59 140.33 L398.69 138.41 L399.80 136.40 L400.90 134.33 L402.01 132.19 L403.11 130.01 L404.22 127.79 L405.32 125.56 L406.42 123.31 L407.53 121.08 L408.63 118.87 L409.74 116.70 L410.84 114.58 L411.95 112.54 L413.05 110.59 L414.16 108.75 L415.26 107.03 L416.36 105.45 L417.47 104.01 L418.57 102.75 L419.68 101.65 L420.78 100.74 L421.89 100.02 L422.99 99.51 L424.10 99.20 L425.20 99.09" stroke="#acdaf1" stroke-width="1.10" stroke-opacity="1.00" fill="none"/><path d="M326.20 144.12 L327.30 143.87 L328.39 143.72 L329.49 143.66 L330.58 143.70 L331.68 143.84 L332.77 144.08 L333.87 144.43 L334.96 144.90 L336.06 145.49 L337.16 146.20 L338.25 147.04 L339.35 148.02 L340.44 149.13 L341.54 150.37 L342.63 151.73 L343.73 153.22 L344.82 154.83 L345.92 156.54 L347.02 158.34 L348.11 160.22 L349.21 162.16 L350.30 164.15 L351.40 166.17 L352.49 168.19 L353.59 170.20 L354.68 172.19 L355.78 174.13 L356.88 176.01 L357.97 177.81 L359.07 179.53 L360.16 181.14 L361.26 182.65 L362.35 184.05 L363.45 185.32 L364.54 186.47 L365.64 187.51 L366.74 188.42 L367.83 189.21 L368.93 189.89 L370.02 190.45 L371.12 190.91 L372.21 191.26 L373.31 191.50 L374.40 191.65 L375.50 191.70 L376.60 191.65 L377.71 191.50 L378.81 191.26 L379.92 190.91 L381.02 190.45 L382.13 189.89 L383.23 189.21 L384.34 188.42 L385.44 187.51 L386.54 186.47 L387.65 185.32 L388.75 184.05 L389.86 182.65 L390.96 181.14 L392.07 179.53 L393.17 177.81 L394.28 176.01 L395.38 174.13 L396.48 172.19 L397.59 170.20 L398.69 168.19 L399.80 166.17 L400.90 164.15 L402.01 162.16 L403.11 160.22 L404.22 158.34 L405.32 156.54 L406.42 154.83 L407.53 153.22 L408.63 151.73 L409.74 150.37 L410.84 149.13 L411.95 148.02 L413.05 147.04 L414.16 146.20 L415.26 145.49 L416.36 144.90 L417.47 144.43 L418.57 144.08 L419.68 143.84 L420.78 143.70 L421.89 143.66 L422.99 143.72 L424.10 143.87 L425.20 144.12" stroke="#7cc3e4" stroke-width="2.20" stroke-opacity="0.50" fill="none"/><path d="M326.20 141.31 L327.30 141.35 L328.39 141.45 L329.49 141.63 L330.58 141.88 L331.68 142.21 L332.77 142.63 L333.87 143.14 L334.96 143.75 L336.06 144.47 L337.16 145.30 L338.25 146.24 L339.35 147.31 L340.44 148.50 L341.54 149.81 L342.63 151.24 L343.73 152.78 L344.82 154.43 L345.92 156.18 L347.02 158.02 L348.11 159.93 L349.21 161.90 L350.30 163.91 L351.40 165.95 L352.49 167.98 L353.59 170.01 L354.68 172.01 L355.78 173.96 L356.88 175.84 L357.97 177.65 L359.07 179.37 L360.16 180.99 L361.26 182.50 L362.35 183.89 L363.45 185.17 L364.54 186.33 L365.64 187.36 L366.74 188.27 L367.83 189.06 L368.93 189.74 L370.02 190.30 L371.12 190.76 L372.21 191.11 L373.31 191.36 L374.40 191.50 L375.50 191.55 L376.60 191.50 L377.71 191.36 L378.81 191.11 L379.92 190.76 L381.02 190.30 L382.13 189.74 L383.23 189.06 L384.34 188.27 L385.44 187.36 L386.54 186.33 L387.65 185.17 L388.75 183.89 L389.86 182.50 L390.96 180.99 L392.07 179.37 L393.17 177.65 L394.28 175.84 L395.38 173.96 L396.48 172.01 L397.59 170.01 L398.69 167.98 L399.80 165.95 L400.90 163.91 L402.01 161.90 L403.11 159.93 L404.22 158.02 L405.32 156.18 L406.42 154.43 L407.53 152.78 L408.63 151.24 L409.74 149.81 L410.84 148.50 L411.95 147.31 L413.05 146.24 L414.16 145.30 L415.26 144.47 L416.36 143.75 L417.47 143.14 L418.57 142.63 L419.68 142.21 L420.78 141.88 L421.89 141.63 L422.99 141.45 L424.10 141.35 L425.20 141.31" stroke="#7cc3e4" stroke-width="2.20" stroke-opacity="0.50" fill="none"/><path d="M326.20 138.51 L327.30 138.82 L328.39 139.19 L329.49 139.60 L330.58 140.06 L331.68 140.59 L332.77 141.18 L333.87 141.85 L334.96 142.60 L336.06 143.45 L337.16 144.39 L338.25 145.44 L339.35 146.60 L340.44 147.87 L341.54 149.25 L342.63 150.74 L343.73 152.34 L344.82 154.04 L345.92 155.83 L347.02 157.70 L348.11 159.64 L349.21 161.64 L350.30 163.67 L351.40 165.72 L352.49 167.78 L353.59 169.82 L354.68 171.82 L355.78 173.78 L356.88 175.67 L357.97 177.49 L359.07 179.21 L360.16 180.83 L361.26 182.35 L362.35 183.74 L363.45 185.02 L364.54 186.18 L365.64 187.21 L366.74 188.12 L367.83 188.91 L368.93 189.59 L370.02 190.16 L371.12 190.61 L372.21 190.96 L373.31 191.21 L374.40 191.36 L375.50 191.41 L376.60 191.36 L377.71 191.21 L378.81 190.96 L379.92 190.61 L381.02 190.16 L382.13 189.59 L383.23 188.91 L384.34 188.12 L385.44 187.21 L386.54 186.18 L387.65 185.02 L388.75 183.74 L389.86 182.35 L390.96 180.83 L392.07 179.21 L393.17 177.49 L394.28 175.67 L395.38 173.78 L396.48 171.82 L397.59 169.82 L398.69 167.78 L399.80 165.72 L400.90 163.67 L402.01 161.64 L403.11 159.64 L404.22 157.70 L405.32 155.83 L406.42 154.04 L407.53 152.34 L408.63 150.74 L409.74 149.25 L410.84 147.87 L411.95 146.60 L413.05 145.44 L414.16 144.39 L415.26 143.45 L416.36 142.60 L417.47 141.85 L418.57 141.18 L419.68 140.59 L420.78 140.06 L421.89 139.60 L422.99 139.19 L424.10 138.82 L425.20 138.51" stroke="#7cc3e4" stroke-width="2.20" stroke-opacity="0.50" fill="none"/><path d="M326.20 144.12 L327.30 143.87 L328.39 143.72 L329.49 143.66 L330.58 143.70 L331.68 143.84 L332.77 144.08 L333.87 144.43 L334.96 144.90 L336.06 145.49 L337.16 146.20 L338.25 147.04 L339.35 148.02 L340.44 149.13 L341.54 150.37 L342.63 151.73 L343.73 153.22 L344.82 154.83 L345.92 156.54 L347.02 158.34 L348.11 160.22 L349.21 162.16 L350.30 164.15 L351.40 166.17 L352.49 168.19 L353.59 170.20 L354.68 172.19 L355.78 174.13 L356.88 176.01 L357.97 177.81 L359.07 179.53 L360.16 181.14 L361.26 182.65 L362.35 184.05 L363.45 185.32 L364.54 186.47 L365.64 187.51 L366.74 188.42 L367.83 189.21 L368.93 189.89 L370.02 190.45 L371.12 190.91 L372.21 191.26 L373.31 191.50 L374.40 191.65 L375.50 191.70 L376.60 191.65 L377.71 191.50 L378.81 191.26 L379.92 190.91 L381.02 190.45 L382.13 189.89 L383.23 189.21 L384.34 188.42 L385.44 187.51 L386.54 186.47 L387.65 185.32 L388.75 184.05 L389.86 182.65 L390.96 181.14 L392.07 179.53 L393.17 177.81 L394.28 176.01 L395.38 174.13 L396.48 172.19 L397.59 170.20 L398.69 168.19 L399.80 166.17 L400.90 164.15 L402.01 162.16 L403.11 160.22 L404.22 158.34 L405.32 156.54 L406.42 154.83 L407.53 153.22 L408.63 151.73 L409.74 150.37 L410.84 149.13 L411.95 148.02 L413.05 147.04 L414.16 146.20 L415.26 145.49 L416.36 144.90 L417.47 144.43 L418.57 144.08 L419.68 143.84 L420.78 143.70 L421.89 143.66 L422.99 143.72 L424.10 143.87 L425.20 144.12" stroke="#acdaf1" stroke-width="1.10" stroke-opacity="1.00" fill="none"/><path d="M326.20 141.31 L327.30 141.35 L328.39 141.45 L329.49 141.63 L330.58 141.88 L331.68 142.21 L332.77 142.63 L333.87 143.14 L334.96 143.75 L336.06 144.47 L337.16 145.30 L338.25 146.24 L339.35 147.31 L340.44 148.50 L341.54 149.81 L342.63 151.24 L343.73 152.78 L344.82 154.43 L345.92 156.18 L347.02 158.02 L348.11 159.93 L349.21 161.90 L350.30 163.91 L351.40 165.95 L352.49 167.98 L353.59 170.01 L354.68 172.01 L355.78 173.96 L356.88 175.84 L357.97 177.65 L359.07 179.37 L360.16 180.99 L361.26 182.50 L362.35 183.89 L363.45 185.17 L364.54 186.33 L365.64 187.36 L366.74 188.27 L367.83 189.06 L368.93 189.74 L370.02 190.30 L371.12 190.76 L372.21 191.11 L373.31 191.36 L374.40 191.50 L375.50 191.55 L376.60 191.50 L377.71 191.36 L378.81 191.11 L379.92 190.76 L381.02 190.30 L382.13 189.74 L383.23 189.06 L384.34 188.27 L385.44 187.36 L386.54 186.33 L387.65 185.17 L388.75 183.89 L389.86 182.50 L390.96 180.99 L392.07 179.37 L393.17 177.65 L394.28 175.84 L395.38 173.96 L396.48 172.01 L397.59 170.01 L398.69 167.98 L399.80 165.95 L400.90 163.91 L402.01 161.90 L403.11 159.93 L404.22 158.02 L405.32 156.18 L406.42 154.43 L407.53 152.78 L408.63 151.24 L409.74 149.81 L410.84 148.50 L411.95 147.31 L413.05 146.24 L414.16 145.30 L415.26 144.47 L416.36 143.75 L417.47 143.14 L418.57 142.63 L419.68 142.21 L420.78 141.88 L421.89 141.63 L422.99 141.45 L424.10 141.35 L425.20 141.31" stroke="#acdaf1" stroke-width="1.10" stroke-opacity="1.00" fill="none"/><path d="M326.20 138.51 L327.30 138.82 L328.39 139.19 L329.49 139.60 L330.58 140.06 L331.68 140.59 L332.77 141.18 L333.87 141.85 L334.96 142.60 L336.06 143.45 L337.16 144.39 L338.25 145.44 L339.35 146.60 L340.44 147.87 L341.54 149.25 L342.63 150.74 L343.73 152.34 L344.82 154.04 L345.92 155.83 L347.02 157.70 L348.11 159.64 L349.21 161.64 L350.30 163.67 L351.40 165.72 L352.49 167.78 L353.59 169.82 L354.68 171.82 L355.78 173.78 L356.88 175.67 L357.97 177.49 L359.07 179.21 L360.16 180.83 L361.26 182.35 L362.35 183.74 L363.45 185.02 L364.54 186.18 L365.64 187.21 L366.74 188.12 L367.83 188.91 L368.93 189.59 L370.02 190.16 L371.12 190.61 L372.21 190.96 L373.31 191.21 L374.40 191.36 L375.50 191.41 L376.60 191.36 L377.71 191.21 L378.81 190.96 L379.92 190.61 L381.02 190.16 L382.13 189.59 L383.23 188.91 L384.34 188.12 L385.44 187.21 L386.54 186.18 L387.65 185.02 L388.75 183.74 L389.86 182.35 L390.96 180.83 L392.07 179.21 L393.17 177.49 L394.28 175.67 L395.38 173.78 L396.48 171.82 L397.59 169.82 L398.69 167.78 L399.80 165.72 L400.90 163.67 L402.01 161.64 L403.11 159.64 L404.22 157.70 L405.32 155.83 L406.42 154.04 L407.53 152.34 L408.63 150.74 L409.74 149.25 L410.84 147.87 L411.95 146.60 L413.05 145.44 L414.16 144.39 L415.26 143.45 L416.36 142.60 L417.47 141.85 L418.57 141.18 L419.68 140.59 L420.78 140.06 L421.89 139.60 L422.99 139.19 L424.10 138.82 L425.20 138.51" stroke="#acdaf1" stroke-width="1.10" stroke-opacity="1.00" fill="none"/><path d="M375.50 42.68 L375.00 42.69 L374.49 42.71 L373.99 42.75 L373.49 42.80 L372.98 42.86 L372.48 42.93" stroke="#82caf0" stroke-width="2.10" stroke-opacity="1.00" fill="none" stroke-dasharray="1.5 0.5"/><path d="M372.73 42.90 L372.22 42.98 L371.72 43.07 L371.22 43.18 L370.71 43.30 L370.21 43.43 L369.71 43.58" stroke="#82caf0" stroke-width="2.04" stroke-opacity="1.00" fill="none" stroke-dasharray="1.5 0.5"/><path d="M369.95 43.50 L369.45 43.65 L368.95 43.81 L368.44 43.98 L367.94 44.16 L367.44 44.35 L366.93 44.55" stroke="#82caf0" stroke-width="1.99" stroke-opacity="0.99" fill="none" stroke-dasharray="1.5 0.5"/><path d="M367.18 44.45 L366.68 44.65 L366.17 44.86 L365.67 45.08 L365.17 45.31 L364.66 45.54 L364.16 45.78" stroke="#82caf0" stroke-width="1.93" stroke-opacity="0.98" fill="none" stroke-dasharray="1.5 0.5"/><path d="M364.41 45.66 L363.90 45.91 L363.40 46.16 L362.90 46.41 L362.39 46.68 L361.89 46.94 L361.39 47.21" stroke="#82caf0" stroke-width="1.88" stroke-opacity="0.96" fill="none" stroke-dasharray="1.5 0.5"/><path d="M361.63 47.08 L361.13 47.35 L360.63 47.63 L360.12 47.92 L359.62 48.20 L359.12 48.50 L358.61 48.79" stroke="#82caf0" stroke-width="1.82" stroke-opacity="0.94" fill="none" stroke-dasharray="1.5 0.5"/><path d="M358.86 48.65 L358.36 48.94 L357.85 49.24 L357.35 49.55 L356.85 49.85 L356.34 50.16 L355.84 50.47" stroke="#82caf0" stroke-width="1.76" stroke-opacity="0.92" fill="none" stroke-dasharray="1.5 0.5"/><path d="M356.09 50.32 L355.58 50.63 L355.08 50.95 L354.58 51.27 L354.08 51.59 L353.57 51.91 L353.07 52.24" stroke="#82caf0" stroke-width="1.71" stroke-opacity="0.89" fill="none" stroke-dasharray="1.5 0.5"/><path d="M353.31 52.08 L352.81 52.40 L352.31 52.73 L351.81 53.06 L351.30 53.39 L350.80 53.72 L350.30 54.06" stroke="#82caf0" stroke-width="1.65" stroke-opacity="0.85" fill="none" stroke-dasharray="1.5 0.5"/><path d="M350.54 53.89 L350.04 54.23 L349.54 54.56 L349.03 54.90 L348.53 55.24 L348.03 55.58 L347.52 55.92" stroke="#82caf0" stroke-width="1.59" stroke-opacity="0.81" fill="none" stroke-dasharray="1.5 0.5"/><path d="M347.77 55.75 L347.27 56.09 L346.76 56.44 L346.26 56.78 L345.76 57.12 L345.25 57.47 L344.75 57.81" stroke="#82caf0" stroke-width="1.54" stroke-opacity="0.77" fill="none" stroke-dasharray="1.5 0.5"/><path d="M345.00 57.65 L344.49 57.99 L343.99 58.34 L343.49 58.68 L342.98 59.03 L342.48 59.38 L341.98 59.73" stroke="#82caf0" stroke-width="1.48" stroke-opacity="0.72" fill="none" stroke-dasharray="1.5 0.5"/><path d="M342.22 59.56 L341.72 59.91 L341.22 60.25 L340.71 60.60 L340.21 60.95 L339.71 61.30 L339.20 61.65" stroke="#82caf0" stroke-width="1.43" stroke-opacity="0.66" fill="none" stroke-dasharray="1.5 0.5"/><path d="M339.45 61.48 L338.95 61.83 L338.44 62.17 L337.94 62.52 L337.44 62.87 L336.93 63.21 L336.43 63.56" stroke="#82caf0" stroke-width="1.37" stroke-opacity="0.60" fill="none" stroke-dasharray="1.5 0.5"/><path d="M336.68 63.39 L336.17 63.73 L335.67 64.08 L335.17 64.42 L334.66 64.76 L334.16 65.09 L333.66 65.43" stroke="#82caf0" stroke-width="1.31" stroke-opacity="0.54" fill="none" stroke-dasharray="1.5 0.5"/><path d="M333.90 65.27 L333.40 65.60 L332.90 65.93 L332.39 66.25 L331.89 66.57 L331.39 66.88 L330.88 67.18" stroke="#82caf0" stroke-width="1.26" stroke-opacity="0.47" fill="none" stroke-dasharray="1.5 0.5"/><path d="M375.50 42.68 L376.01 42.69 L376.51 42.71 L377.02 42.75 L377.53 42.80 L378.04 42.86 L378.54 42.93" stroke="#82caf0" stroke-width="2.10" stroke-opacity="1.00" fill="none" stroke-dasharray="1.5 0.5"/><path d="M378.30 42.90 L378.80 42.98 L379.31 43.07 L379.82 43.18 L380.33 43.30 L380.83 43.43 L381.34 43.58" stroke="#82caf0" stroke-width="2.04" stroke-opacity="1.00" fill="none" stroke-dasharray="1.5 0.5"/><path d="M381.09 43.50 L381.60 43.65 L382.11 43.81 L382.61 43.98 L383.12 44.16 L383.63 44.35 L384.14 44.55" stroke="#82caf0" stroke-width="1.99" stroke-opacity="0.99" fill="none" stroke-dasharray="1.5 0.5"/><path d="M383.89 44.45 L384.39 44.65 L384.90 44.86 L385.41 45.08 L385.92 45.31 L386.42 45.54 L386.93 45.78" stroke="#82caf0" stroke-width="1.93" stroke-opacity="0.98" fill="none" stroke-dasharray="1.5 0.5"/><path d="M386.68 45.66 L387.19 45.91 L387.70 46.16 L388.20 46.41 L388.71 46.68 L389.22 46.94 L389.73 47.21" stroke="#82caf0" stroke-width="1.88" stroke-opacity="0.96" fill="none" stroke-dasharray="1.5 0.5"/><path d="M389.48 47.08 L389.99 47.35 L390.49 47.63 L391.00 47.92 L391.51 48.20 L392.01 48.50 L392.52 48.79" stroke="#82caf0" stroke-width="1.82" stroke-opacity="0.94" fill="none" stroke-dasharray="1.5 0.5"/><path d="M392.27 48.65 L392.78 48.94 L393.29 49.24 L393.80 49.55 L394.30 49.85 L394.81 50.16 L395.32 50.47" stroke="#82caf0" stroke-width="1.76" stroke-opacity="0.92" fill="none" stroke-dasharray="1.5 0.5"/><path d="M395.07 50.32 L395.58 50.63 L396.08 50.95 L396.59 51.27 L397.10 51.59 L397.61 51.91 L398.11 52.24" stroke="#82caf0" stroke-width="1.71" stroke-opacity="0.89" fill="none" stroke-dasharray="1.5 0.5"/><path d="M397.87 52.08 L398.37 52.40 L398.88 52.73 L399.39 53.06 L399.89 53.39 L400.40 53.72 L400.91 54.06" stroke="#82caf0" stroke-width="1.65" stroke-opacity="0.85" fill="none" stroke-dasharray="1.5 0.5"/><path d="M400.66 53.89 L401.17 54.23 L401.68 54.56 L402.18 54.90 L402.69 55.24 L403.20 55.58 L403.70 55.92" stroke="#82caf0" stroke-width="1.59" stroke-opacity="0.81" fill="none" stroke-dasharray="1.5 0.5"/><path d="M403.46 55.75 L403.96 56.09 L404.47 56.44 L404.98 56.78 L405.49 57.12 L405.99 57.47 L406.50 57.81" stroke="#82caf0" stroke-width="1.54" stroke-opacity="0.77" fill="none" stroke-dasharray="1.5 0.5"/><path d="M406.25 57.65 L406.76 57.99 L407.27 58.34 L407.77 58.68 L408.28 59.03 L408.79 59.38 L409.30 59.73" stroke="#82caf0" stroke-width="1.48" stroke-opacity="0.72" fill="none" stroke-dasharray="1.5 0.5"/><path d="M409.05 59.56 L409.55 59.91 L410.06 60.25 L410.57 60.60 L411.08 60.95 L411.58 61.30 L412.09 61.65" stroke="#82caf0" stroke-width="1.43" stroke-opacity="0.66" fill="none" stroke-dasharray="1.5 0.5"/><path d="M411.84 61.48 L412.35 61.83 L412.86 62.17 L413.37 62.52 L413.87 62.87 L414.38 63.21 L414.89 63.56" stroke="#82caf0" stroke-width="1.37" stroke-opacity="0.60" fill="none" stroke-dasharray="1.5 0.5"/><path d="M414.64 63.39 L415.15 63.73 L415.65 64.08 L416.16 64.42 L416.67 64.76 L417.18 65.09 L417.68 65.43" stroke="#82caf0" stroke-width="1.31" stroke-opacity="0.54" fill="none" stroke-dasharray="1.5 0.5"/><path d="M417.43 65.27 L417.94 65.60 L418.45 65.93 L418.96 66.25 L419.46 66.57 L419.97 66.88 L420.48 67.18" stroke="#82caf0" stroke-width="1.26" stroke-opacity="0.47" fill="none" stroke-dasharray="1.5 0.5"/></g>
<rect x="374.60" y="8.70" width="1.80" height="184.70" fill="#c9c9c9"/>
<text x="330.30" y="22.90" font-size="17.4" fill="#f4e9e2" stroke="none">(b)</text>
</g>
<line x1="326.20" y1="8.90" x2="425.20" y2="8.90" stroke="#9fd0ea" stroke-width="0.9" stroke-opacity="0.55"/>
<line x1="317.60" y1="193.40" x2="326.50" y2="193.40" stroke="#222" stroke-width="0.9"/>
<text x="317.80" y="197.00" font-size="10.2" text-anchor="end">0</text>
<line x1="321.80" y1="174.93" x2="326.50" y2="174.93" stroke="#222" stroke-width="0.9"/>
<line x1="317.60" y1="156.46" x2="326.50" y2="156.46" stroke="#222" stroke-width="0.9"/>
<text x="317.80" y="160.06" font-size="10.2" text-anchor="end">100</text>
<line x1="321.80" y1="137.99" x2="326.50" y2="137.99" stroke="#222" stroke-width="0.9"/>
<line x1="317.60" y1="119.52" x2="326.50" y2="119.52" stroke="#222" stroke-width="0.9"/>
<text x="317.80" y="123.12" font-size="10.2" text-anchor="end">200</text>
<line x1="321.80" y1="101.05" x2="326.50" y2="101.05" stroke="#222" stroke-width="0.9"/>
<line x1="317.60" y1="82.58" x2="326.50" y2="82.58" stroke="#222" stroke-width="0.9"/>
<text x="317.80" y="86.18" font-size="10.2" text-anchor="end">300</text>
<line x1="321.80" y1="64.11" x2="326.50" y2="64.11" stroke="#222" stroke-width="0.9"/>
<line x1="317.60" y1="45.64" x2="326.50" y2="45.64" stroke="#222" stroke-width="0.9"/>
<text x="317.80" y="49.24" font-size="10.2" text-anchor="end">400</text>
<line x1="321.80" y1="27.17" x2="326.50" y2="27.17" stroke="#222" stroke-width="0.9"/>
<line x1="317.60" y1="8.70" x2="326.50" y2="8.70" stroke="#222" stroke-width="0.9"/>
<text x="317.80" y="12.30" font-size="10.2" text-anchor="end">500</text>
<text transform="translate(295.60 97.60) rotate(-90)" font-size="11.3" text-anchor="middle">Magnon Energy (meV)</text>
<text x="325.60" y="206.70" font-size="11.2" text-anchor="middle">X</text>
<line x1="321.50" y1="197.00" x2="329.70" y2="197.00" stroke="#111" stroke-width="1.0"/>
<text x="376.10" y="206.70" font-size="10.4" text-anchor="middle" font-family="'Liberation Serif', serif">Γ</text>
<line x1="372.80" y1="197.00" x2="379.40" y2="197.00" stroke="#111" stroke-width="1.0"/>
<text x="423.90" y="206.70" font-size="11.2" text-anchor="middle">X</text>
<line x1="419.80" y1="197.00" x2="428.00" y2="197.00" stroke="#111" stroke-width="1.0"/>
<text x="430.00" y="206.70" font-size="11.3">Mag.DOS</text>
<path d="M464.30 9.60 C464.28 14.33 464.28 32.77 464.20 38.00 C464.12 43.23 464.15 40.22 463.80 41.00 C463.45 41.78 462.38 42.42 462.10 42.70 C462.37 43.00 463.38 41.62 463.70 44.50 C464.02 47.38 463.95 51.58 464.00 60.00 C464.05 68.42 464.17 88.57 464.00 95.00 C463.83 101.43 463.17 98.00 463.00 98.60 C463.17 98.92 463.87 97.27 464.00 100.50 C464.13 103.73 464.12 113.78 463.80 118.00 C463.48 122.22 462.90 123.98 462.10 125.80 C461.30 127.62 461.82 127.93 459.00 128.90 C456.18 129.87 447.50 131.15 445.20 131.60 C446.65 131.93 451.77 132.50 453.90 133.60 C456.03 134.70 457.15 136.58 458.00 138.20 C458.85 139.82 459.07 141.60 459.00 143.30 C458.93 145.00 458.45 147.03 457.60 148.40 C456.75 149.77 455.03 150.73 453.90 151.50 C452.77 152.27 451.32 152.75 450.80 153.00 C451.82 153.27 455.02 153.98 456.90 154.60 C458.78 155.22 460.98 155.30 462.10 156.70 C463.22 158.10 463.28 159.12 463.60 163.00 C463.92 166.88 464.10 175.92 464.00 180.00 C463.90 184.08 463.38 185.38 463.00 187.50 C462.62 189.62 461.97 191.70 461.70 192.70 C461.43 193.70 461.45 193.37 461.40 193.50 L464.90 193.50 L464.90 9.60 Z" fill="#dedede" stroke="none"/>
<path d="M464.30 9.60 C464.28 14.33 464.28 32.77 464.20 38.00 C464.12 43.23 464.15 40.22 463.80 41.00 C463.45 41.78 462.38 42.42 462.10 42.70 C462.37 43.00 463.38 41.62 463.70 44.50 C464.02 47.38 463.95 51.58 464.00 60.00 C464.05 68.42 464.17 88.57 464.00 95.00 C463.83 101.43 463.17 98.00 463.00 98.60 C463.17 98.92 463.87 97.27 464.00 100.50 C464.13 103.73 464.12 113.78 463.80 118.00 C463.48 122.22 462.90 123.98 462.10 125.80 C461.30 127.62 461.82 127.93 459.00 128.90 C456.18 129.87 447.50 131.15 445.20 131.60 C446.65 131.93 451.77 132.50 453.90 133.60 C456.03 134.70 457.15 136.58 458.00 138.20 C458.85 139.82 459.07 141.60 459.00 143.30 C458.93 145.00 458.45 147.03 457.60 148.40 C456.75 149.77 455.03 150.73 453.90 151.50 C452.77 152.27 451.32 152.75 450.80 153.00 C451.82 153.27 455.02 153.98 456.90 154.60 C458.78 155.22 460.98 155.30 462.10 156.70 C463.22 158.10 463.28 159.12 463.60 163.00 C463.92 166.88 464.10 175.92 464.00 180.00 C463.90 184.08 463.38 185.38 463.00 187.50 C462.62 189.62 461.97 191.70 461.70 192.70 C461.43 193.70 461.45 193.37 461.40 193.50" fill="none" stroke="#111" stroke-width="1.15" stroke-linejoin="miter"/>
<path d="M428.70 193.50 L428.70 9.60 L469.20 9.60" fill="none" stroke="#585858" stroke-width="1.1"/>
<line x1="428.20" y1="193.50" x2="469.20" y2="193.50" stroke="#222" stroke-width="1.0"/>
<line x1="464.90" y1="9.60" x2="464.90" y2="193.50" stroke="#111" stroke-width="1.05"/>
<line x1="464.90" y1="193.50" x2="469.20" y2="193.50" stroke="#111" stroke-width="1.0"/>
<text transform="translate(479.80 193.50) rotate(-90)" font-size="10.2" text-anchor="middle">0</text>
<line x1="464.90" y1="175.11" x2="467.10" y2="175.11" stroke="#222" stroke-width="0.9"/>
<line x1="464.90" y1="156.72" x2="469.20" y2="156.72" stroke="#111" stroke-width="1.0"/>
<text transform="translate(479.80 156.72) rotate(-90)" font-size="10.2" text-anchor="middle">100</text>
<line x1="464.90" y1="138.33" x2="467.10" y2="138.33" stroke="#222" stroke-width="0.9"/>
<line x1="464.90" y1="119.94" x2="469.20" y2="119.94" stroke="#111" stroke-width="1.0"/>
<text transform="translate(479.80 119.94) rotate(-90)" font-size="10.2" text-anchor="middle">200</text>
<line x1="464.90" y1="101.55" x2="467.10" y2="101.55" stroke="#222" stroke-width="0.9"/>
<line x1="464.90" y1="83.16" x2="469.20" y2="83.16" stroke="#111" stroke-width="1.0"/>
<text transform="translate(479.80 83.16) rotate(-90)" font-size="10.2" text-anchor="middle">300</text>
<line x1="464.90" y1="64.77" x2="467.10" y2="64.77" stroke="#222" stroke-width="0.9"/>
<line x1="464.90" y1="46.38" x2="469.20" y2="46.38" stroke="#111" stroke-width="1.0"/>
<text transform="translate(479.80 46.38) rotate(-90)" font-size="10.2" text-anchor="middle">400</text>
<line x1="464.90" y1="27.99" x2="467.10" y2="27.99" stroke="#222" stroke-width="0.9"/>
<line x1="464.90" y1="9.60" x2="469.20" y2="9.60" stroke="#111" stroke-width="1.0"/>
<text transform="translate(479.80 9.60) rotate(-90)" font-size="10.2" text-anchor="middle">500</text>
<text transform="translate(496.20 95.30) rotate(-90)" font-size="11.3" text-anchor="middle">Magnon Energy (meV)</text>
<rect x="40.00" y="283.20" width="98.00" height="184.40" fill="#0b0b0b"/>
<g clip-path="url(#cpc)">
<g filter="url(#blur)"><path d="M40.00 344.02 L41.09 343.95 L42.17 343.75 L43.26 343.44 L44.35 343.03 L45.43 342.56 L46.52 342.02 L47.61 341.45 L48.69 340.85 L49.78 340.23 L50.87 339.58 L51.95 338.92 L53.04 338.25 L54.13 337.58 L55.21 336.89 L56.30 336.21 L57.39 335.51 L58.47 334.82 L59.56 334.12 L60.65 333.42 L61.73 332.72 L62.82 332.03 L63.91 331.33 L64.99 330.63 L66.08 329.94 L67.17 329.25 L68.25 328.56 L69.34 327.88 L70.43 327.20 L71.51 326.53 L72.60 325.87 L73.69 325.21 L74.77 324.57 L75.86 323.94 L76.95 323.32 L78.03 322.73 L79.12 322.15 L80.21 321.61 L81.29 321.10 L82.38 320.62 L83.47 320.20 L84.55 319.83 L85.64 319.53 L86.73 319.31 L87.81 319.17 L88.90 319.12 L89.99 319.17 L91.08 319.31 L92.17 319.53 L93.26 319.83 L94.36 320.20 L95.45 320.62 L96.54 321.10 L97.63 321.61 L98.72 322.15 L99.81 322.73 L100.90 323.32 L101.99 323.94 L103.08 324.57 L104.18 325.21 L105.27 325.87 L106.36 326.53 L107.45 327.20 L108.54 327.88 L109.63 328.56 L110.72 329.25 L111.81 329.94 L112.90 330.63 L114.00 331.33 L115.09 332.03 L116.18 332.72 L117.27 333.42 L118.36 334.12 L119.45 334.82 L120.54 335.51 L121.63 336.21 L122.72 336.89 L123.82 337.58 L124.91 338.25 L126.00 338.92 L127.09 339.58 L128.18 340.23 L129.27 340.85 L130.36 341.45 L131.45 342.02 L132.54 342.56 L133.64 343.03 L134.73 343.44 L135.82 343.75 L136.91 343.95 L138.00 344.02" stroke="#56a8d4" stroke-width="5.62" stroke-opacity="0.95" fill="none"/><path d="M40.00 341.84 L41.09 341.77 L42.17 341.57 L43.26 341.26 L44.35 340.86 L45.43 340.38 L46.52 339.85 L47.61 339.28 L48.69 338.68 L49.78 338.05 L50.87 337.41 L51.95 336.75 L53.04 336.08 L54.13 335.40 L55.21 334.72 L56.30 334.03 L57.39 333.34 L58.47 332.64 L59.56 331.95 L60.65 331.25 L61.73 330.55 L62.82 329.85 L63.91 329.15 L64.99 328.46 L66.08 327.76 L67.17 327.07 L68.25 326.39 L69.34 325.70 L70.43 325.02 L71.51 324.35 L72.60 323.69 L73.69 323.04 L74.77 322.39 L75.86 321.76 L76.95 321.15 L78.03 320.55 L79.12 319.98 L80.21 319.43 L81.29 318.92 L82.38 318.45 L83.47 318.02 L84.55 317.65 L85.64 317.35 L86.73 317.13 L87.81 316.99 L88.90 316.95 L89.99 316.99 L91.08 317.13 L92.17 317.35 L93.26 317.65 L94.36 318.02 L95.45 318.45 L96.54 318.92 L97.63 319.43 L98.72 319.98 L99.81 320.55 L100.90 321.15 L101.99 321.76 L103.08 322.39 L104.18 323.04 L105.27 323.69 L106.36 324.35 L107.45 325.02 L108.54 325.70 L109.63 326.39 L110.72 327.07 L111.81 327.76 L112.90 328.46 L114.00 329.15 L115.09 329.85 L116.18 330.55 L117.27 331.25 L118.36 331.95 L119.45 332.64 L120.54 333.34 L121.63 334.03 L122.72 334.72 L123.82 335.40 L124.91 336.08 L126.00 336.75 L127.09 337.41 L128.18 338.05 L129.27 338.68 L130.36 339.28 L131.45 339.85 L132.54 340.38 L133.64 340.86 L134.73 341.26 L135.82 341.57 L136.91 341.77 L138.00 341.84" stroke="#56a8d4" stroke-width="5.62" stroke-opacity="0.95" fill="none"/><path d="M40.00 339.66 L41.09 339.59 L42.17 339.40 L43.26 339.08 L44.35 338.68 L45.43 338.20 L46.52 337.67 L47.61 337.10 L48.69 336.50 L49.78 335.87 L50.87 335.23 L51.95 334.57 L53.04 333.90 L54.13 333.23 L55.21 332.54 L56.30 331.85 L57.39 331.16 L58.47 330.47 L59.56 329.77 L60.65 329.07 L61.73 328.37 L62.82 327.67 L63.91 326.98 L64.99 326.28 L66.08 325.59 L67.17 324.90 L68.25 324.21 L69.34 323.53 L70.43 322.85 L71.51 322.18 L72.60 321.51 L73.69 320.86 L74.77 320.22 L75.86 319.59 L76.95 318.97 L78.03 318.38 L79.12 317.80 L80.21 317.26 L81.29 316.74 L82.38 316.27 L83.47 315.85 L84.55 315.48 L85.64 315.18 L86.73 314.95 L87.81 314.82 L88.90 314.77 L89.99 314.82 L91.08 314.95 L92.17 315.18 L93.26 315.48 L94.36 315.85 L95.45 316.27 L96.54 316.74 L97.63 317.26 L98.72 317.80 L99.81 318.38 L100.90 318.97 L101.99 319.59 L103.08 320.22 L104.18 320.86 L105.27 321.51 L106.36 322.18 L107.45 322.85 L108.54 323.53 L109.63 324.21 L110.72 324.90 L111.81 325.59 L112.90 326.28 L114.00 326.98 L115.09 327.67 L116.18 328.37 L117.27 329.07 L118.36 329.77 L119.45 330.47 L120.54 331.16 L121.63 331.85 L122.72 332.54 L123.82 333.23 L124.91 333.90 L126.00 334.57 L127.09 335.23 L128.18 335.87 L129.27 336.50 L130.36 337.10 L131.45 337.67 L132.54 338.20 L133.64 338.68 L134.73 339.08 L135.82 339.40 L136.91 339.59 L138.00 339.66" stroke="#56a8d4" stroke-width="5.62" stroke-opacity="0.95" fill="none"/><path d="M40.73 373.97 L41.80 374.19 L42.87 374.59 L43.94 375.18 L45.01 375.94 L46.09 376.87 L47.16 377.97 L48.23 379.22 L49.30 380.61 L50.37 382.13 L51.44 383.78 L52.51 385.54 L53.58 387.39 L54.65 389.33 L55.72 391.33 L56.79 393.39 L57.86 395.50 L58.93 397.63 L60.00 399.77 L61.07 401.92 L62.14 404.06 L63.21 406.17 L64.28 408.25 L65.35 410.29 L66.42 412.28 L67.49 414.20 L68.56 416.05 L69.63 417.83 L70.70 419.53 L71.77 421.14 L72.84 422.66 L73.91 424.08 L74.99 425.41 L76.06 426.64 L77.13 427.78 L78.20 428.81 L79.27 429.74 L80.34 430.57 L81.41 431.30 L82.48 431.93 L83.55 432.47 L84.62 432.90 L85.69 433.24 L86.76 433.48 L87.83 433.62 L88.90 433.67 L89.97 433.62 L91.05 433.48 L92.12 433.24 L93.20 432.90 L94.27 432.47 L95.35 431.93 L96.42 431.30 L97.50 430.57 L98.57 429.74 L99.65 428.81 L100.72 427.78 L101.80 426.64 L102.87 425.41 L103.95 424.08 L105.02 422.66 L106.10 421.14 L107.17 419.53 L108.25 417.83 L109.32 416.05 L110.39 414.20 L111.47 412.28 L112.54 410.29 L113.62 408.25 L114.69 406.17 L115.77 404.06 L116.84 401.92 L117.92 399.77 L118.99 397.63 L120.07 395.50 L121.14 393.39 L122.22 391.33 L123.29 389.33 L124.37 387.39 L125.44 385.54 L126.52 383.78 L127.59 382.13 L128.67 380.61 L129.74 379.22 L130.82 377.97 L131.89 376.87 L132.96 375.94 L134.04 375.18 L135.11 374.59 L136.19 374.19 L137.26 373.97" stroke="#56a8d4" stroke-width="2.8" stroke-opacity="0.55" fill="none"/><path d="M44.16 414.66 L45.15 414.96 L46.15 415.33 L47.14 415.79 L48.13 416.32 L49.13 416.95 L50.12 417.67 L51.12 418.49 L52.11 419.41 L53.11 420.44 L54.10 421.58 L55.09 422.82 L56.09 424.17 L57.08 425.61 L58.08 427.16 L59.07 428.79 L60.07 430.51 L61.06 432.29 L62.05 434.13 L63.05 436.02 L64.04 437.94 L65.04 439.88 L66.03 441.83 L67.03 443.76 L68.02 445.67 L69.01 447.55 L70.01 449.37 L71.00 451.13 L72.00 452.81 L72.99 454.41 L73.99 455.93 L74.98 457.34 L75.97 458.66 L76.97 459.87 L77.96 460.97 L78.96 461.97 L79.95 462.86 L80.95 463.65 L81.94 464.33 L82.93 464.92 L83.93 465.41 L84.92 465.80 L85.92 466.11 L86.91 466.32 L87.91 466.45 L88.90 466.49 L89.90 466.45 L90.90 466.32 L91.90 466.11 L92.89 465.80 L93.89 465.41 L94.89 464.92 L95.89 464.33 L96.89 463.65 L97.89 462.86 L98.88 461.97 L99.88 460.97 L100.88 459.87 L101.88 458.66 L102.88 457.34 L103.88 455.93 L104.87 454.41 L105.87 452.81 L106.87 451.13 L107.87 449.37 L108.87 447.55 L109.87 445.67 L110.86 443.76 L111.86 441.83 L112.86 439.88 L113.86 437.94 L114.86 436.02 L115.86 434.13 L116.85 432.29 L117.85 430.51 L118.85 428.79 L119.85 427.16 L120.85 425.61 L121.85 424.17 L122.84 422.82 L123.84 421.58 L124.84 420.44 L125.84 419.41 L126.84 418.49 L127.84 417.67 L128.83 416.95 L129.83 416.32 L130.83 415.79 L131.83 415.33 L132.83 414.96 L133.83 414.66" stroke="#56a8d4" stroke-width="2.8" stroke-opacity="0.55" fill="none"/><path d="M78.14 461.16 L78.86 461.87 L79.58 462.54 L80.29 463.14 L81.01 463.69 L81.73 464.19 L82.45 464.64 L83.16 465.04 L83.88 465.38 L84.60 465.68 L85.31 465.93 L86.03 466.14 L86.75 466.29 L87.47 466.40 L88.18 466.47 L88.90 466.49 L89.62 466.47 L90.34 466.40 L91.06 466.29 L91.78 466.14 L92.50 465.93 L93.22 465.68 L93.94 465.38 L94.66 465.04 L95.38 464.64 L96.10 464.19 L96.82 463.69 L97.54 463.14 L98.26 462.54 L98.98 461.87 L99.70 461.16" stroke="#56a8d4" stroke-width="6" stroke-opacity="0.9" fill="none"/></g>
<g filter="url(#soft)"><path d="M40.00 344.02 L41.09 343.95 L42.17 343.75 L43.26 343.44 L44.35 343.03 L45.43 342.56 L46.52 342.02 L47.61 341.45 L48.69 340.85 L49.78 340.23 L50.87 339.58 L51.95 338.92 L53.04 338.25 L54.13 337.58 L55.21 336.89 L56.30 336.21 L57.39 335.51 L58.47 334.82 L59.56 334.12 L60.65 333.42 L61.73 332.72 L62.82 332.03 L63.91 331.33 L64.99 330.63 L66.08 329.94 L67.17 329.25 L68.25 328.56 L69.34 327.88 L70.43 327.20 L71.51 326.53 L72.60 325.87 L73.69 325.21 L74.77 324.57 L75.86 323.94 L76.95 323.32 L78.03 322.73 L79.12 322.15 L80.21 321.61 L81.29 321.10 L82.38 320.62 L83.47 320.20 L84.55 319.83 L85.64 319.53 L86.73 319.31 L87.81 319.17 L88.90 319.12 L89.99 319.17 L91.08 319.31 L92.17 319.53 L93.26 319.83 L94.36 320.20 L95.45 320.62 L96.54 321.10 L97.63 321.61 L98.72 322.15 L99.81 322.73 L100.90 323.32 L101.99 323.94 L103.08 324.57 L104.18 325.21 L105.27 325.87 L106.36 326.53 L107.45 327.20 L108.54 327.88 L109.63 328.56 L110.72 329.25 L111.81 329.94 L112.90 330.63 L114.00 331.33 L115.09 332.03 L116.18 332.72 L117.27 333.42 L118.36 334.12 L119.45 334.82 L120.54 335.51 L121.63 336.21 L122.72 336.89 L123.82 337.58 L124.91 338.25 L126.00 338.92 L127.09 339.58 L128.18 340.23 L129.27 340.85 L130.36 341.45 L131.45 342.02 L132.54 342.56 L133.64 343.03 L134.73 343.44 L135.82 343.75 L136.91 343.95 L138.00 344.02" stroke="#7cc3e4" stroke-width="1.50" stroke-opacity="0.55" fill="none"/><path d="M40.00 341.84 L41.09 341.77 L42.17 341.57 L43.26 341.26 L44.35 340.86 L45.43 340.38 L46.52 339.85 L47.61 339.28 L48.69 338.68 L49.78 338.05 L50.87 337.41 L51.95 336.75 L53.04 336.08 L54.13 335.40 L55.21 334.72 L56.30 334.03 L57.39 333.34 L58.47 332.64 L59.56 331.95 L60.65 331.25 L61.73 330.55 L62.82 329.85 L63.91 329.15 L64.99 328.46 L66.08 327.76 L67.17 327.07 L68.25 326.39 L69.34 325.70 L70.43 325.02 L71.51 324.35 L72.60 323.69 L73.69 323.04 L74.77 322.39 L75.86 321.76 L76.95 321.15 L78.03 320.55 L79.12 319.98 L80.21 319.43 L81.29 318.92 L82.38 318.45 L83.47 318.02 L84.55 317.65 L85.64 317.35 L86.73 317.13 L87.81 316.99 L88.90 316.95 L89.99 316.99 L91.08 317.13 L92.17 317.35 L93.26 317.65 L94.36 318.02 L95.45 318.45 L96.54 318.92 L97.63 319.43 L98.72 319.98 L99.81 320.55 L100.90 321.15 L101.99 321.76 L103.08 322.39 L104.18 323.04 L105.27 323.69 L106.36 324.35 L107.45 325.02 L108.54 325.70 L109.63 326.39 L110.72 327.07 L111.81 327.76 L112.90 328.46 L114.00 329.15 L115.09 329.85 L116.18 330.55 L117.27 331.25 L118.36 331.95 L119.45 332.64 L120.54 333.34 L121.63 334.03 L122.72 334.72 L123.82 335.40 L124.91 336.08 L126.00 336.75 L127.09 337.41 L128.18 338.05 L129.27 338.68 L130.36 339.28 L131.45 339.85 L132.54 340.38 L133.64 340.86 L134.73 341.26 L135.82 341.57 L136.91 341.77 L138.00 341.84" stroke="#7cc3e4" stroke-width="1.50" stroke-opacity="0.55" fill="none"/><path d="M40.00 339.66 L41.09 339.59 L42.17 339.40 L43.26 339.08 L44.35 338.68 L45.43 338.20 L46.52 337.67 L47.61 337.10 L48.69 336.50 L49.78 335.87 L50.87 335.23 L51.95 334.57 L53.04 333.90 L54.13 333.23 L55.21 332.54 L56.30 331.85 L57.39 331.16 L58.47 330.47 L59.56 329.77 L60.65 329.07 L61.73 328.37 L62.82 327.67 L63.91 326.98 L64.99 326.28 L66.08 325.59 L67.17 324.90 L68.25 324.21 L69.34 323.53 L70.43 322.85 L71.51 322.18 L72.60 321.51 L73.69 320.86 L74.77 320.22 L75.86 319.59 L76.95 318.97 L78.03 318.38 L79.12 317.80 L80.21 317.26 L81.29 316.74 L82.38 316.27 L83.47 315.85 L84.55 315.48 L85.64 315.18 L86.73 314.95 L87.81 314.82 L88.90 314.77 L89.99 314.82 L91.08 314.95 L92.17 315.18 L93.26 315.48 L94.36 315.85 L95.45 316.27 L96.54 316.74 L97.63 317.26 L98.72 317.80 L99.81 318.38 L100.90 318.97 L101.99 319.59 L103.08 320.22 L104.18 320.86 L105.27 321.51 L106.36 322.18 L107.45 322.85 L108.54 323.53 L109.63 324.21 L110.72 324.90 L111.81 325.59 L112.90 326.28 L114.00 326.98 L115.09 327.67 L116.18 328.37 L117.27 329.07 L118.36 329.77 L119.45 330.47 L120.54 331.16 L121.63 331.85 L122.72 332.54 L123.82 333.23 L124.91 333.90 L126.00 334.57 L127.09 335.23 L128.18 335.87 L129.27 336.50 L130.36 337.10 L131.45 337.67 L132.54 338.20 L133.64 338.68 L134.73 339.08 L135.82 339.40 L136.91 339.59 L138.00 339.66" stroke="#7cc3e4" stroke-width="1.50" stroke-opacity="0.55" fill="none"/><path d="M40.00 344.02 L41.09 343.95 L42.17 343.75 L43.26 343.44 L44.35 343.03 L45.43 342.56 L46.52 342.02 L47.61 341.45 L48.69 340.85 L49.78 340.23 L50.87 339.58 L51.95 338.92 L53.04 338.25 L54.13 337.58 L55.21 336.89 L56.30 336.21 L57.39 335.51 L58.47 334.82 L59.56 334.12 L60.65 333.42 L61.73 332.72 L62.82 332.03 L63.91 331.33 L64.99 330.63 L66.08 329.94 L67.17 329.25 L68.25 328.56 L69.34 327.88 L70.43 327.20 L71.51 326.53 L72.60 325.87 L73.69 325.21 L74.77 324.57 L75.86 323.94 L76.95 323.32 L78.03 322.73 L79.12 322.15 L80.21 321.61 L81.29 321.10 L82.38 320.62 L83.47 320.20 L84.55 319.83 L85.64 319.53 L86.73 319.31 L87.81 319.17 L88.90 319.12 L89.99 319.17 L91.08 319.31 L92.17 319.53 L93.26 319.83 L94.36 320.20 L95.45 320.62 L96.54 321.10 L97.63 321.61 L98.72 322.15 L99.81 322.73 L100.90 323.32 L101.99 323.94 L103.08 324.57 L104.18 325.21 L105.27 325.87 L106.36 326.53 L107.45 327.20 L108.54 327.88 L109.63 328.56 L110.72 329.25 L111.81 329.94 L112.90 330.63 L114.00 331.33 L115.09 332.03 L116.18 332.72 L117.27 333.42 L118.36 334.12 L119.45 334.82 L120.54 335.51 L121.63 336.21 L122.72 336.89 L123.82 337.58 L124.91 338.25 L126.00 338.92 L127.09 339.58 L128.18 340.23 L129.27 340.85 L130.36 341.45 L131.45 342.02 L132.54 342.56 L133.64 343.03 L134.73 343.44 L135.82 343.75 L136.91 343.95 L138.00 344.02" stroke="#e2f4fd" stroke-width="1.05" stroke-opacity="1.00" fill="none"/><path d="M40.00 341.84 L41.09 341.77 L42.17 341.57 L43.26 341.26 L44.35 340.86 L45.43 340.38 L46.52 339.85 L47.61 339.28 L48.69 338.68 L49.78 338.05 L50.87 337.41 L51.95 336.75 L53.04 336.08 L54.13 335.40 L55.21 334.72 L56.30 334.03 L57.39 333.34 L58.47 332.64 L59.56 331.95 L60.65 331.25 L61.73 330.55 L62.82 329.85 L63.91 329.15 L64.99 328.46 L66.08 327.76 L67.17 327.07 L68.25 326.39 L69.34 325.70 L70.43 325.02 L71.51 324.35 L72.60 323.69 L73.69 323.04 L74.77 322.39 L75.86 321.76 L76.95 321.15 L78.03 320.55 L79.12 319.98 L80.21 319.43 L81.29 318.92 L82.38 318.45 L83.47 318.02 L84.55 317.65 L85.64 317.35 L86.73 317.13 L87.81 316.99 L88.90 316.95 L89.99 316.99 L91.08 317.13 L92.17 317.35 L93.26 317.65 L94.36 318.02 L95.45 318.45 L96.54 318.92 L97.63 319.43 L98.72 319.98 L99.81 320.55 L100.90 321.15 L101.99 321.76 L103.08 322.39 L104.18 323.04 L105.27 323.69 L106.36 324.35 L107.45 325.02 L108.54 325.70 L109.63 326.39 L110.72 327.07 L111.81 327.76 L112.90 328.46 L114.00 329.15 L115.09 329.85 L116.18 330.55 L117.27 331.25 L118.36 331.95 L119.45 332.64 L120.54 333.34 L121.63 334.03 L122.72 334.72 L123.82 335.40 L124.91 336.08 L126.00 336.75 L127.09 337.41 L128.18 338.05 L129.27 338.68 L130.36 339.28 L131.45 339.85 L132.54 340.38 L133.64 340.86 L134.73 341.26 L135.82 341.57 L136.91 341.77 L138.00 341.84" stroke="#e2f4fd" stroke-width="1.05" stroke-opacity="1.00" fill="none"/><path d="M40.00 339.66 L41.09 339.59 L42.17 339.40 L43.26 339.08 L44.35 338.68 L45.43 338.20 L46.52 337.67 L47.61 337.10 L48.69 336.50 L49.78 335.87 L50.87 335.23 L51.95 334.57 L53.04 333.90 L54.13 333.23 L55.21 332.54 L56.30 331.85 L57.39 331.16 L58.47 330.47 L59.56 329.77 L60.65 329.07 L61.73 328.37 L62.82 327.67 L63.91 326.98 L64.99 326.28 L66.08 325.59 L67.17 324.90 L68.25 324.21 L69.34 323.53 L70.43 322.85 L71.51 322.18 L72.60 321.51 L73.69 320.86 L74.77 320.22 L75.86 319.59 L76.95 318.97 L78.03 318.38 L79.12 317.80 L80.21 317.26 L81.29 316.74 L82.38 316.27 L83.47 315.85 L84.55 315.48 L85.64 315.18 L86.73 314.95 L87.81 314.82 L88.90 314.77 L89.99 314.82 L91.08 314.95 L92.17 315.18 L93.26 315.48 L94.36 315.85 L95.45 316.27 L96.54 316.74 L97.63 317.26 L98.72 317.80 L99.81 318.38 L100.90 318.97 L101.99 319.59 L103.08 320.22 L104.18 320.86 L105.27 321.51 L106.36 322.18 L107.45 322.85 L108.54 323.53 L109.63 324.21 L110.72 324.90 L111.81 325.59 L112.90 326.28 L114.00 326.98 L115.09 327.67 L116.18 328.37 L117.27 329.07 L118.36 329.77 L119.45 330.47 L120.54 331.16 L121.63 331.85 L122.72 332.54 L123.82 333.23 L124.91 333.90 L126.00 334.57 L127.09 335.23 L128.18 335.87 L129.27 336.50 L130.36 337.10 L131.45 337.67 L132.54 338.20 L133.64 338.68 L134.73 339.08 L135.82 339.40 L136.91 339.59 L138.00 339.66" stroke="#e2f4fd" stroke-width="1.05" stroke-opacity="1.00" fill="none"/><path d="M40.73 373.97 L41.80 374.19 L42.87 374.59 L43.94 375.18 L45.01 375.94 L46.09 376.87 L47.16 377.97 L48.23 379.22 L49.30 380.61 L50.37 382.13 L51.44 383.78 L52.51 385.54 L53.58 387.39 L54.65 389.33 L55.72 391.33 L56.79 393.39 L57.86 395.50 L58.93 397.63 L60.00 399.77 L61.07 401.92 L62.14 404.06 L63.21 406.17 L64.28 408.25 L65.35 410.29 L66.42 412.28 L67.49 414.20 L68.56 416.05 L69.63 417.83 L70.70 419.53 L71.77 421.14 L72.84 422.66 L73.91 424.08 L74.99 425.41 L76.06 426.64 L77.13 427.78 L78.20 428.81 L79.27 429.74 L80.34 430.57 L81.41 431.30 L82.48 431.93 L83.55 432.47 L84.62 432.90 L85.69 433.24 L86.76 433.48 L87.83 433.62 L88.90 433.67 L89.97 433.62 L91.05 433.48 L92.12 433.24 L93.20 432.90 L94.27 432.47 L95.35 431.93 L96.42 431.30 L97.50 430.57 L98.57 429.74 L99.65 428.81 L100.72 427.78 L101.80 426.64 L102.87 425.41 L103.95 424.08 L105.02 422.66 L106.10 421.14 L107.17 419.53 L108.25 417.83 L109.32 416.05 L110.39 414.20 L111.47 412.28 L112.54 410.29 L113.62 408.25 L114.69 406.17 L115.77 404.06 L116.84 401.92 L117.92 399.77 L118.99 397.63 L120.07 395.50 L121.14 393.39 L122.22 391.33 L123.29 389.33 L124.37 387.39 L125.44 385.54 L126.52 383.78 L127.59 382.13 L128.67 380.61 L129.74 379.22 L130.82 377.97 L131.89 376.87 L132.96 375.94 L134.04 375.18 L135.11 374.59 L136.19 374.19 L137.26 373.97" stroke="#86cdf0" stroke-width="1.7" fill="none" stroke-dasharray="1.5 0.45"/><path d="M44.16 414.66 L45.15 414.96 L46.15 415.33 L47.14 415.79 L48.13 416.32 L49.13 416.95 L50.12 417.67 L51.12 418.49 L52.11 419.41 L53.11 420.44 L54.10 421.58 L55.09 422.82 L56.09 424.17 L57.08 425.61 L58.08 427.16 L59.07 428.79 L60.07 430.51 L61.06 432.29 L62.05 434.13 L63.05 436.02 L64.04 437.94 L65.04 439.88 L66.03 441.83 L67.03 443.76 L68.02 445.67 L69.01 447.55 L70.01 449.37 L71.00 451.13 L72.00 452.81 L72.99 454.41 L73.99 455.93 L74.98 457.34 L75.97 458.66 L76.97 459.87 L77.96 460.97 L78.96 461.97 L79.95 462.86 L80.95 463.65 L81.94 464.33 L82.93 464.92 L83.93 465.41 L84.92 465.80 L85.92 466.11 L86.91 466.32 L87.91 466.45 L88.90 466.49 L89.90 466.45 L90.90 466.32 L91.90 466.11 L92.89 465.80 L93.89 465.41 L94.89 464.92 L95.89 464.33 L96.89 463.65 L97.89 462.86 L98.88 461.97 L99.88 460.97 L100.88 459.87 L101.88 458.66 L102.88 457.34 L103.88 455.93 L104.87 454.41 L105.87 452.81 L106.87 451.13 L107.87 449.37 L108.87 447.55 L109.87 445.67 L110.86 443.76 L111.86 441.83 L112.86 439.88 L113.86 437.94 L114.86 436.02 L115.86 434.13 L116.85 432.29 L117.85 430.51 L118.85 428.79 L119.85 427.16 L120.85 425.61 L121.85 424.17 L122.84 422.82 L123.84 421.58 L124.84 420.44 L125.84 419.41 L126.84 418.49 L127.84 417.67 L128.83 416.95 L129.83 416.32 L130.83 415.79 L131.83 415.33 L132.83 414.96 L133.83 414.66" stroke="#86cdf0" stroke-width="1.7" fill="none" stroke-dasharray="1.5 0.45"/><path d="M78.14 461.16 L78.86 461.87 L79.58 462.54 L80.29 463.14 L81.01 463.69 L81.73 464.19 L82.45 464.64 L83.16 465.04 L83.88 465.38 L84.60 465.68 L85.31 465.93 L86.03 466.14 L86.75 466.29 L87.47 466.40 L88.18 466.47 L88.90 466.49 L89.62 466.47 L90.34 466.40 L91.06 466.29 L91.78 466.14 L92.50 465.93 L93.22 465.68 L93.94 465.38 L94.66 465.04 L95.38 464.64 L96.10 464.19 L96.82 463.69 L97.54 463.14 L98.26 462.54 L98.98 461.87 L99.70 461.16" stroke="#8fd0f0" stroke-width="2.6" fill="none" stroke-dasharray="1.2 0.5"/><circle cx="40.73" cy="373.92" r="1.0" fill="#8fd0f0"/><circle cx="42.20" cy="414.12" r="1.0" fill="#8fd0f0"/><circle cx="137.26" cy="373.92" r="1.0" fill="#8fd0f0"/><circle cx="135.79" cy="414.12" r="1.0" fill="#8fd0f0"/></g>
<rect x="88.00" y="283.20" width="1.80" height="184.40" fill="#cfcdcb"/>
<text x="42.30" y="298.60" font-size="17.4" fill="#f4e9e2" stroke="none">(c)</text>
</g>
<line x1="31.40" y1="467.60" x2="40.30" y2="467.60" stroke="#222" stroke-width="0.9"/>
<text x="31.60" y="471.20" font-size="10.2" text-anchor="end">0</text>
<line x1="35.60" y1="449.16" x2="40.30" y2="449.16" stroke="#222" stroke-width="0.9"/>
<line x1="31.40" y1="430.72" x2="40.30" y2="430.72" stroke="#222" stroke-width="0.9"/>
<text x="31.60" y="434.32" font-size="10.2" text-anchor="end">100</text>
<line x1="35.60" y1="412.28" x2="40.30" y2="412.28" stroke="#222" stroke-width="0.9"/>
<line x1="31.40" y1="393.84" x2="40.30" y2="393.84" stroke="#222" stroke-width="0.9"/>
<text x="31.60" y="397.44" font-size="10.2" text-anchor="end">200</text>
<line x1="35.60" y1="375.40" x2="40.30" y2="375.40" stroke="#222" stroke-width="0.9"/>
<line x1="31.40" y1="356.96" x2="40.30" y2="356.96" stroke="#222" stroke-width="0.9"/>
<text x="31.60" y="360.56" font-size="10.2" text-anchor="end">300</text>
<line x1="35.60" y1="338.52" x2="40.30" y2="338.52" stroke="#222" stroke-width="0.9"/>
<line x1="31.40" y1="320.08" x2="40.30" y2="320.08" stroke="#222" stroke-width="0.9"/>
<text x="31.60" y="323.68" font-size="10.2" text-anchor="end">400</text>
<line x1="35.60" y1="301.64" x2="40.30" y2="301.64" stroke="#222" stroke-width="0.9"/>
<line x1="31.40" y1="283.20" x2="40.30" y2="283.20" stroke="#222" stroke-width="0.9"/>
<text x="31.60" y="286.80" font-size="10.2" text-anchor="end">500</text>
<text transform="translate(9.80 370.00) rotate(-90)" font-size="11.3" text-anchor="middle">Magnon Energy (meV)</text>
<text x="39.40" y="482.10" font-size="11.2" text-anchor="middle">X</text>
<line x1="35.30" y1="472.40" x2="43.50" y2="472.40" stroke="#111" stroke-width="1.0"/>
<text x="89.50" y="480.50" font-size="10.4" text-anchor="middle" font-family="'Liberation Serif', serif">Γ</text>
<line x1="86.20" y1="470.80" x2="92.80" y2="470.80" stroke="#111" stroke-width="1.0"/>
<text x="136.70" y="482.10" font-size="11.2" text-anchor="middle">X</text>
<line x1="132.60" y1="472.40" x2="140.80" y2="472.40" stroke="#111" stroke-width="1.0"/>
<text x="142.90" y="482.10" font-size="11.3">Mag.DOS</text>
<path d="M177.30 282.10 C177.28 285.92 177.25 300.20 177.20 305.00 C177.15 309.80 177.52 309.50 177.00 310.90 C176.48 312.30 177.60 312.65 174.10 313.40 C170.60 314.15 159.02 315.07 156.00 315.40 C157.47 315.75 162.82 316.37 164.80 317.50 C166.78 318.63 167.32 320.55 167.90 322.20 C168.48 323.85 168.47 325.85 168.30 327.40 C168.13 328.95 167.03 330.30 166.90 331.50 C166.77 332.70 167.68 333.57 167.50 334.60 C167.32 335.63 167.72 336.85 165.80 337.70 C163.88 338.55 157.63 339.37 156.00 339.70 C157.82 339.95 163.72 340.58 166.90 341.20 C170.08 341.82 173.42 342.45 175.10 343.40 C176.78 344.35 176.63 344.13 177.00 346.90 C177.37 349.67 177.25 347.82 177.30 360.00 C177.35 372.18 177.38 405.30 177.30 420.00 C177.22 434.70 177.10 442.13 176.80 448.20 C176.50 454.27 175.95 454.17 175.50 456.40 C175.05 458.63 174.85 460.05 174.10 461.60 C173.35 463.15 171.60 464.83 171.00 465.70 C170.40 466.57 170.58 466.62 170.50 466.80 L177.80 466.80 L177.80 282.10 Z" fill="#dedede" stroke="none"/>
<path d="M177.30 282.10 C177.28 285.92 177.25 300.20 177.20 305.00 C177.15 309.80 177.52 309.50 177.00 310.90 C176.48 312.30 177.60 312.65 174.10 313.40 C170.60 314.15 159.02 315.07 156.00 315.40 C157.47 315.75 162.82 316.37 164.80 317.50 C166.78 318.63 167.32 320.55 167.90 322.20 C168.48 323.85 168.47 325.85 168.30 327.40 C168.13 328.95 167.03 330.30 166.90 331.50 C166.77 332.70 167.68 333.57 167.50 334.60 C167.32 335.63 167.72 336.85 165.80 337.70 C163.88 338.55 157.63 339.37 156.00 339.70 C157.82 339.95 163.72 340.58 166.90 341.20 C170.08 341.82 173.42 342.45 175.10 343.40 C176.78 344.35 176.63 344.13 177.00 346.90 C177.37 349.67 177.25 347.82 177.30 360.00 C177.35 372.18 177.38 405.30 177.30 420.00 C177.22 434.70 177.10 442.13 176.80 448.20 C176.50 454.27 175.95 454.17 175.50 456.40 C175.05 458.63 174.85 460.05 174.10 461.60 C173.35 463.15 171.60 464.83 171.00 465.70 C170.40 466.57 170.58 466.62 170.50 466.80" fill="none" stroke="#111" stroke-width="1.15" stroke-linejoin="miter"/>
<path d="M141.60 466.80 L141.60 282.10 L182.10 282.10" fill="none" stroke="#585858" stroke-width="1.1"/>
<line x1="141.10" y1="466.80" x2="182.10" y2="466.80" stroke="#222" stroke-width="1.0"/>
<line x1="177.80" y1="282.10" x2="177.80" y2="466.80" stroke="#111" stroke-width="1.05"/>
<line x1="177.80" y1="466.80" x2="182.10" y2="466.80" stroke="#111" stroke-width="1.0"/>
<text transform="translate(192.50 466.80) rotate(-90)" font-size="10.2" text-anchor="middle">0</text>
<line x1="177.80" y1="448.33" x2="180.00" y2="448.33" stroke="#222" stroke-width="0.9"/>
<line x1="177.80" y1="429.86" x2="182.10" y2="429.86" stroke="#111" stroke-width="1.0"/>
<text transform="translate(192.50 429.86) rotate(-90)" font-size="10.2" text-anchor="middle">100</text>
<line x1="177.80" y1="411.39" x2="180.00" y2="411.39" stroke="#222" stroke-width="0.9"/>
<line x1="177.80" y1="392.92" x2="182.10" y2="392.92" stroke="#111" stroke-width="1.0"/>
<text transform="translate(192.50 392.92) rotate(-90)" font-size="10.2" text-anchor="middle">200</text>
<line x1="177.80" y1="374.45" x2="180.00" y2="374.45" stroke="#222" stroke-width="0.9"/>
<line x1="177.80" y1="355.98" x2="182.10" y2="355.98" stroke="#111" stroke-width="1.0"/>
<text transform="translate(192.50 355.98) rotate(-90)" font-size="10.2" text-anchor="middle">300</text>
<line x1="177.80" y1="337.51" x2="180.00" y2="337.51" stroke="#222" stroke-width="0.9"/>
<line x1="177.80" y1="319.04" x2="182.10" y2="319.04" stroke="#111" stroke-width="1.0"/>
<text transform="translate(192.50 319.04) rotate(-90)" font-size="10.2" text-anchor="middle">400</text>
<line x1="177.80" y1="300.57" x2="180.00" y2="300.57" stroke="#222" stroke-width="0.9"/>
<line x1="177.80" y1="282.10" x2="182.10" y2="282.10" stroke="#111" stroke-width="1.0"/>
<text transform="translate(192.50 282.10) rotate(-90)" font-size="10.2" text-anchor="middle">500</text>
<text transform="translate(205.40 374.00) rotate(-90)" font-size="11.3" text-anchor="middle">Magnon Energy (meV)</text>
<rect x="326.60" y="282.30" width="98.80" height="184.90" fill="#0b0b0b"/>
<g clip-path="url(#cpd)">
<g filter="url(#blur)"><path d="M326.60 377.71 L327.72 377.63 L328.84 377.76 L329.95 378.08 L331.07 378.59 L332.19 379.29 L333.31 380.17 L334.42 381.22 L335.54 382.43 L336.66 383.79 L337.78 385.29 L338.90 386.91 L340.01 388.65 L341.13 390.48 L342.25 392.40 L343.37 394.39 L344.48 396.44 L345.60 398.52 L346.72 400.63 L347.84 402.75 L348.96 404.87 L350.07 406.98 L351.19 409.06 L352.31 411.10 L353.43 413.09 L354.54 415.03 L355.66 416.91 L356.78 418.73 L357.90 420.47 L359.02 422.14 L360.13 423.73 L361.25 425.24 L362.37 426.65 L363.49 427.98 L364.60 429.22 L365.72 430.36 L366.84 431.40 L367.96 432.34 L369.08 433.17 L370.19 433.90 L371.31 434.52 L372.43 435.03 L373.55 435.43 L374.66 435.72 L375.78 435.89 L376.90 435.95 L377.98 435.89 L379.06 435.72 L380.13 435.43 L381.21 435.03 L382.29 434.52 L383.37 433.90 L384.44 433.17 L385.52 432.34 L386.60 431.40 L387.68 430.36 L388.76 429.22 L389.83 427.98 L390.91 426.65 L391.99 425.24 L393.07 423.73 L394.14 422.14 L395.22 420.47 L396.30 418.73 L397.38 416.91 L398.46 415.03 L399.53 413.09 L400.61 411.10 L401.69 409.06 L402.77 406.98 L403.84 404.87 L404.92 402.75 L406.00 400.63 L407.08 398.52 L408.16 396.44 L409.23 394.39 L410.31 392.40 L411.39 390.48 L412.47 388.65 L413.54 386.91 L414.62 385.29 L415.70 383.79 L416.78 382.43 L417.86 381.22 L418.93 380.17 L420.01 379.29 L421.09 378.59 L422.17 378.08 L423.24 377.76 L424.32 377.63 L425.40 377.71" stroke="#56a8d4" stroke-width="2.87" stroke-opacity="0.95" fill="none"/><path d="M326.60 374.01 L327.72 374.11 L328.84 374.40 L329.95 374.88 L331.07 375.54 L332.19 376.39 L333.31 377.41 L334.42 378.60 L335.54 379.94 L336.66 381.43 L337.78 383.05 L338.90 384.80 L340.01 386.65 L341.13 388.59 L342.25 390.61 L343.37 392.70 L344.48 394.83 L345.60 397.00 L346.72 399.20 L347.84 401.40 L348.96 403.59 L350.07 405.77 L351.19 407.91 L352.31 410.02 L353.43 412.07 L354.54 414.06 L355.66 415.98 L356.78 417.82 L357.90 419.58 L359.02 421.26 L360.13 422.84 L361.25 424.32 L362.37 425.70 L363.49 426.98 L364.60 428.16 L365.72 429.23 L366.84 430.20 L367.96 431.06 L369.08 431.82 L370.19 432.48 L371.31 433.03 L372.43 433.49 L373.55 433.84 L374.66 434.09 L375.78 434.24 L376.90 434.29 L377.98 434.24 L379.06 434.09 L380.13 433.84 L381.21 433.49 L382.29 433.03 L383.37 432.48 L384.44 431.82 L385.52 431.06 L386.60 430.20 L387.68 429.23 L388.76 428.16 L389.83 426.98 L390.91 425.70 L391.99 424.32 L393.07 422.84 L394.14 421.26 L395.22 419.58 L396.30 417.82 L397.38 415.98 L398.46 414.06 L399.53 412.07 L400.61 410.02 L401.69 407.91 L402.77 405.77 L403.84 403.59 L404.92 401.40 L406.00 399.20 L407.08 397.00 L408.16 394.83 L409.23 392.70 L410.31 390.61 L411.39 388.59 L412.47 386.65 L413.54 384.80 L414.62 383.05 L415.70 381.43 L416.78 379.94 L417.86 378.60 L418.93 377.41 L420.01 376.39 L421.09 375.54 L422.17 374.88 L423.24 374.40 L424.32 374.11 L425.40 374.01" stroke="#56a8d4" stroke-width="2.87" stroke-opacity="0.95" fill="none"/><path d="M326.60 370.31 L327.72 370.58 L328.84 371.04 L329.95 371.68 L331.07 372.50 L332.19 373.50 L333.31 374.66 L334.42 375.99 L335.54 377.46 L336.66 379.08 L337.78 380.82 L338.90 382.68 L340.01 384.64 L341.13 386.69 L342.25 388.82 L343.37 391.00 L344.48 393.23 L345.60 395.49 L346.72 397.77 L347.84 400.05 L348.96 402.31 L350.07 404.56 L351.19 406.77 L352.31 408.94 L353.43 411.05 L354.54 413.08 L355.66 415.05 L356.78 416.92 L357.90 418.70 L359.02 420.37 L360.13 421.94 L361.25 423.40 L362.37 424.74 L363.49 425.98 L364.60 427.10 L365.72 428.10 L366.84 429.00 L367.96 429.79 L369.08 430.47 L370.19 431.06 L371.31 431.55 L372.43 431.94 L373.55 432.24 L374.66 432.45 L375.78 432.58 L376.90 432.62 L377.98 432.58 L379.06 432.45 L380.13 432.24 L381.21 431.94 L382.29 431.55 L383.37 431.06 L384.44 430.47 L385.52 429.79 L386.60 429.00 L387.68 428.10 L388.76 427.10 L389.83 425.98 L390.91 424.74 L391.99 423.40 L393.07 421.94 L394.14 420.37 L395.22 418.70 L396.30 416.92 L397.38 415.05 L398.46 413.08 L399.53 411.05 L400.61 408.94 L401.69 406.77 L402.77 404.56 L403.84 402.31 L404.92 400.05 L406.00 397.77 L407.08 395.49 L408.16 393.23 L409.23 391.00 L410.31 388.82 L411.39 386.69 L412.47 384.64 L413.54 382.68 L414.62 380.82 L415.70 379.08 L416.78 377.46 L417.86 375.99 L418.93 374.66 L420.01 373.50 L421.09 372.50 L422.17 371.68 L423.24 371.04 L424.32 370.58 L425.40 370.31" stroke="#56a8d4" stroke-width="2.87" stroke-opacity="0.95" fill="none"/><path d="M326.60 415.80 L327.72 415.71 L328.84 415.65 L329.95 415.63 L331.07 415.65 L332.19 415.73 L333.31 415.88 L334.42 416.11 L335.54 416.45 L336.66 416.90 L337.78 417.48 L338.90 418.22 L340.01 419.11 L341.13 420.18 L342.25 421.42 L343.37 422.83 L344.48 424.42 L345.60 426.17 L346.72 428.08 L347.84 430.12 L348.96 432.28 L350.07 434.54 L351.19 436.86 L352.31 439.22 L353.43 441.59 L354.54 443.95 L355.66 446.26 L356.78 448.50 L357.90 450.65 L359.02 452.68 L360.13 454.59 L361.25 456.34 L362.37 457.95 L363.49 459.39 L364.60 460.68 L365.72 461.80 L366.84 462.78 L367.96 463.61 L369.08 464.30 L370.19 464.87 L371.31 465.33 L372.43 465.69 L373.55 465.95 L374.66 466.13 L375.78 466.24 L376.90 466.28 L377.98 466.24 L379.06 466.13 L380.13 465.95 L381.21 465.69 L382.29 465.33 L383.37 464.87 L384.44 464.30 L385.52 463.61 L386.60 462.78 L387.68 461.80 L388.76 460.68 L389.83 459.39 L390.91 457.95 L391.99 456.34 L393.07 454.59 L394.14 452.68 L395.22 450.65 L396.30 448.50 L397.38 446.26 L398.46 443.95 L399.53 441.59 L400.61 439.22 L401.69 436.86 L402.77 434.54 L403.84 432.28 L404.92 430.12 L406.00 428.08 L407.08 426.17 L408.16 424.42 L409.23 422.83 L410.31 421.42 L411.39 420.18 L412.47 419.11 L413.54 418.22 L414.62 417.48 L415.70 416.90 L416.78 416.45 L417.86 416.11 L418.93 415.88 L420.01 415.73 L421.09 415.65 L422.17 415.63 L423.24 415.65 L424.32 415.71 L425.40 415.80" stroke="#56a8d4" stroke-width="2.87" stroke-opacity="0.95" fill="none"/><path d="M326.60 413.58 L327.72 413.69 L328.84 413.81 L329.95 413.95 L331.07 414.12 L332.19 414.34 L333.31 414.61 L334.42 414.95 L335.54 415.38 L336.66 415.92 L337.78 416.59 L338.90 417.39 L340.01 418.35 L341.13 419.47 L342.25 420.76 L343.37 422.22 L344.48 423.85 L345.60 425.63 L346.72 427.57 L347.84 429.63 L348.96 431.82 L350.07 434.09 L351.19 436.42 L352.31 438.80 L353.43 441.18 L354.54 443.54 L355.66 445.86 L356.78 448.11 L357.90 450.26 L359.02 452.30 L360.13 454.21 L361.25 455.97 L362.37 457.57 L363.49 459.02 L364.60 460.31 L365.72 461.43 L366.84 462.41 L367.96 463.24 L369.08 463.93 L370.19 464.50 L371.31 464.96 L372.43 465.32 L373.55 465.58 L374.66 465.76 L375.78 465.87 L376.90 465.91 L377.98 465.87 L379.06 465.76 L380.13 465.58 L381.21 465.32 L382.29 464.96 L383.37 464.50 L384.44 463.93 L385.52 463.24 L386.60 462.41 L387.68 461.43 L388.76 460.31 L389.83 459.02 L390.91 457.57 L391.99 455.97 L393.07 454.21 L394.14 452.30 L395.22 450.26 L396.30 448.11 L397.38 445.86 L398.46 443.54 L399.53 441.18 L400.61 438.80 L401.69 436.42 L402.77 434.09 L403.84 431.82 L404.92 429.63 L406.00 427.57 L407.08 425.63 L408.16 423.85 L409.23 422.22 L410.31 420.76 L411.39 419.47 L412.47 418.35 L413.54 417.39 L414.62 416.59 L415.70 415.92 L416.78 415.38 L417.86 414.95 L418.93 414.61 L420.01 414.34 L421.09 414.12 L422.17 413.95 L423.24 413.81 L424.32 413.69 L425.40 413.58" stroke="#56a8d4" stroke-width="2.87" stroke-opacity="0.95" fill="none"/><polygon points="326.60,341.32 327.86,341.75 329.12,341.32 330.37,340.62 331.63,339.78 332.89,338.83 334.15,337.83 335.40,336.78 336.66,335.71 337.92,334.61 339.18,333.50 340.43,332.38 341.69,331.26 342.95,330.43 344.20,329.61 345.46,328.80 346.72,327.99 347.98,327.19 349.24,326.40 350.49,325.62 351.75,324.85 353.01,324.10 354.26,323.35 355.52,322.61 356.78,321.89 358.04,321.18 359.30,320.48 360.55,319.80 361.81,319.15 363.07,318.51 364.32,317.90 365.58,317.31 366.84,316.77 368.10,316.26 369.35,315.81 370.61,315.43 371.87,315.12 373.13,314.93 374.38,314.86 375.64,315.00 376.90,315.80 378.11,315.00 379.32,314.86 380.54,314.93 381.75,315.12 382.96,315.43 384.17,315.81 385.39,316.26 386.60,316.77 387.81,317.31 389.02,317.90 390.24,318.51 391.45,319.15 392.66,319.80 393.88,320.48 395.09,321.18 396.30,321.89 397.51,322.61 398.72,323.35 399.94,324.10 401.15,324.85 402.36,325.62 403.57,326.40 404.79,327.19 406.00,327.99 407.21,328.80 408.42,329.61 409.64,330.43 410.85,331.26 412.06,332.38 413.27,333.50 414.49,334.61 415.70,335.71 416.91,336.78 418.12,337.83 419.34,338.83 420.55,339.78 421.76,340.62 422.97,341.32 424.19,341.75 425.40,341.32 425.40,341.62 424.19,342.35 422.97,342.29 421.76,342.00 420.55,341.57 419.34,341.05 418.12,340.49 416.91,339.88 415.70,339.25 414.49,338.59 413.27,337.92 412.06,337.23 410.85,336.53 409.64,335.82 408.42,335.10 407.21,334.37 406.00,333.64 404.79,332.89 403.57,332.14 402.36,331.39 401.15,330.62 399.94,329.86 398.72,329.09 397.51,328.31 396.30,327.53 395.09,326.75 393.88,325.97 392.66,325.19 391.45,324.42 390.24,323.64 389.02,322.88 387.81,322.12 386.60,321.37 385.39,320.65 384.17,319.94 382.96,319.27 381.75,318.65 380.54,318.06 379.32,317.54 378.11,317.03 376.90,316.10 375.64,317.03 374.38,317.54 373.13,318.06 371.87,318.65 370.61,319.27 369.35,319.94 368.10,320.65 366.84,321.37 365.58,322.12 364.32,322.88 363.07,323.64 361.81,324.42 360.55,325.19 359.30,325.97 358.04,326.75 356.78,327.53 355.52,328.31 354.26,329.09 353.01,329.86 351.75,330.62 350.49,331.39 349.24,332.14 347.98,332.89 346.72,333.64 345.46,334.37 344.20,335.10 342.95,335.82 341.69,336.53 340.43,337.23 339.18,337.92 337.92,338.59 336.66,339.25 335.40,339.88 334.15,340.49 332.89,341.05 331.63,341.57 330.37,342.00 329.12,342.29 327.86,342.35 326.60,341.62" fill="#56a8d4" stroke="#56a8d4" stroke-width="3" stroke-opacity="0.9"/></g>
<g filter="url(#soft)"><path d="M326.60 377.71 L327.72 377.63 L328.84 377.76 L329.95 378.08 L331.07 378.59 L332.19 379.29 L333.31 380.17 L334.42 381.22 L335.54 382.43 L336.66 383.79 L337.78 385.29 L338.90 386.91 L340.01 388.65 L341.13 390.48 L342.25 392.40 L343.37 394.39 L344.48 396.44 L345.60 398.52 L346.72 400.63 L347.84 402.75 L348.96 404.87 L350.07 406.98 L351.19 409.06 L352.31 411.10 L353.43 413.09 L354.54 415.03 L355.66 416.91 L356.78 418.73 L357.90 420.47 L359.02 422.14 L360.13 423.73 L361.25 425.24 L362.37 426.65 L363.49 427.98 L364.60 429.22 L365.72 430.36 L366.84 431.40 L367.96 432.34 L369.08 433.17 L370.19 433.90 L371.31 434.52 L372.43 435.03 L373.55 435.43 L374.66 435.72 L375.78 435.89 L376.90 435.95 L377.98 435.89 L379.06 435.72 L380.13 435.43 L381.21 435.03 L382.29 434.52 L383.37 433.90 L384.44 433.17 L385.52 432.34 L386.60 431.40 L387.68 430.36 L388.76 429.22 L389.83 427.98 L390.91 426.65 L391.99 425.24 L393.07 423.73 L394.14 422.14 L395.22 420.47 L396.30 418.73 L397.38 416.91 L398.46 415.03 L399.53 413.09 L400.61 411.10 L401.69 409.06 L402.77 406.98 L403.84 404.87 L404.92 402.75 L406.00 400.63 L407.08 398.52 L408.16 396.44 L409.23 394.39 L410.31 392.40 L411.39 390.48 L412.47 388.65 L413.54 386.91 L414.62 385.29 L415.70 383.79 L416.78 382.43 L417.86 381.22 L418.93 380.17 L420.01 379.29 L421.09 378.59 L422.17 378.08 L423.24 377.76 L424.32 377.63 L425.40 377.71" stroke="#7cc3e4" stroke-width="2.20" stroke-opacity="0.50" fill="none"/><path d="M326.60 374.01 L327.72 374.11 L328.84 374.40 L329.95 374.88 L331.07 375.54 L332.19 376.39 L333.31 377.41 L334.42 378.60 L335.54 379.94 L336.66 381.43 L337.78 383.05 L338.90 384.80 L340.01 386.65 L341.13 388.59 L342.25 390.61 L343.37 392.70 L344.48 394.83 L345.60 397.00 L346.72 399.20 L347.84 401.40 L348.96 403.59 L350.07 405.77 L351.19 407.91 L352.31 410.02 L353.43 412.07 L354.54 414.06 L355.66 415.98 L356.78 417.82 L357.90 419.58 L359.02 421.26 L360.13 422.84 L361.25 424.32 L362.37 425.70 L363.49 426.98 L364.60 428.16 L365.72 429.23 L366.84 430.20 L367.96 431.06 L369.08 431.82 L370.19 432.48 L371.31 433.03 L372.43 433.49 L373.55 433.84 L374.66 434.09 L375.78 434.24 L376.90 434.29 L377.98 434.24 L379.06 434.09 L380.13 433.84 L381.21 433.49 L382.29 433.03 L383.37 432.48 L384.44 431.82 L385.52 431.06 L386.60 430.20 L387.68 429.23 L388.76 428.16 L389.83 426.98 L390.91 425.70 L391.99 424.32 L393.07 422.84 L394.14 421.26 L395.22 419.58 L396.30 417.82 L397.38 415.98 L398.46 414.06 L399.53 412.07 L400.61 410.02 L401.69 407.91 L402.77 405.77 L403.84 403.59 L404.92 401.40 L406.00 399.20 L407.08 397.00 L408.16 394.83 L409.23 392.70 L410.31 390.61 L411.39 388.59 L412.47 386.65 L413.54 384.80 L414.62 383.05 L415.70 381.43 L416.78 379.94 L417.86 378.60 L418.93 377.41 L420.01 376.39 L421.09 375.54 L422.17 374.88 L423.24 374.40 L424.32 374.11 L425.40 374.01" stroke="#7cc3e4" stroke-width="2.20" stroke-opacity="0.50" fill="none"/><path d="M326.60 370.31 L327.72 370.58 L328.84 371.04 L329.95 371.68 L331.07 372.50 L332.19 373.50 L333.31 374.66 L334.42 375.99 L335.54 377.46 L336.66 379.08 L337.78 380.82 L338.90 382.68 L340.01 384.64 L341.13 386.69 L342.25 388.82 L343.37 391.00 L344.48 393.23 L345.60 395.49 L346.72 397.77 L347.84 400.05 L348.96 402.31 L350.07 404.56 L351.19 406.77 L352.31 408.94 L353.43 411.05 L354.54 413.08 L355.66 415.05 L356.78 416.92 L357.90 418.70 L359.02 420.37 L360.13 421.94 L361.25 423.40 L362.37 424.74 L363.49 425.98 L364.60 427.10 L365.72 428.10 L366.84 429.00 L367.96 429.79 L369.08 430.47 L370.19 431.06 L371.31 431.55 L372.43 431.94 L373.55 432.24 L374.66 432.45 L375.78 432.58 L376.90 432.62 L377.98 432.58 L379.06 432.45 L380.13 432.24 L381.21 431.94 L382.29 431.55 L383.37 431.06 L384.44 430.47 L385.52 429.79 L386.60 429.00 L387.68 428.10 L388.76 427.10 L389.83 425.98 L390.91 424.74 L391.99 423.40 L393.07 421.94 L394.14 420.37 L395.22 418.70 L396.30 416.92 L397.38 415.05 L398.46 413.08 L399.53 411.05 L400.61 408.94 L401.69 406.77 L402.77 404.56 L403.84 402.31 L404.92 400.05 L406.00 397.77 L407.08 395.49 L408.16 393.23 L409.23 391.00 L410.31 388.82 L411.39 386.69 L412.47 384.64 L413.54 382.68 L414.62 380.82 L415.70 379.08 L416.78 377.46 L417.86 375.99 L418.93 374.66 L420.01 373.50 L421.09 372.50 L422.17 371.68 L423.24 371.04 L424.32 370.58 L425.40 370.31" stroke="#7cc3e4" stroke-width="2.20" stroke-opacity="0.50" fill="none"/><path d="M326.60 377.71 L327.72 377.63 L328.84 377.76 L329.95 378.08 L331.07 378.59 L332.19 379.29 L333.31 380.17 L334.42 381.22 L335.54 382.43 L336.66 383.79 L337.78 385.29 L338.90 386.91 L340.01 388.65 L341.13 390.48 L342.25 392.40 L343.37 394.39 L344.48 396.44 L345.60 398.52 L346.72 400.63 L347.84 402.75 L348.96 404.87 L350.07 406.98 L351.19 409.06 L352.31 411.10 L353.43 413.09 L354.54 415.03 L355.66 416.91 L356.78 418.73 L357.90 420.47 L359.02 422.14 L360.13 423.73 L361.25 425.24 L362.37 426.65 L363.49 427.98 L364.60 429.22 L365.72 430.36 L366.84 431.40 L367.96 432.34 L369.08 433.17 L370.19 433.90 L371.31 434.52 L372.43 435.03 L373.55 435.43 L374.66 435.72 L375.78 435.89 L376.90 435.95 L377.98 435.89 L379.06 435.72 L380.13 435.43 L381.21 435.03 L382.29 434.52 L383.37 433.90 L384.44 433.17 L385.52 432.34 L386.60 431.40 L387.68 430.36 L388.76 429.22 L389.83 427.98 L390.91 426.65 L391.99 425.24 L393.07 423.73 L394.14 422.14 L395.22 420.47 L396.30 418.73 L397.38 416.91 L398.46 415.03 L399.53 413.09 L400.61 411.10 L401.69 409.06 L402.77 406.98 L403.84 404.87 L404.92 402.75 L406.00 400.63 L407.08 398.52 L408.16 396.44 L409.23 394.39 L410.31 392.40 L411.39 390.48 L412.47 388.65 L413.54 386.91 L414.62 385.29 L415.70 383.79 L416.78 382.43 L417.86 381.22 L418.93 380.17 L420.01 379.29 L421.09 378.59 L422.17 378.08 L423.24 377.76 L424.32 377.63 L425.40 377.71" stroke="#acdaf1" stroke-width="1.10" stroke-opacity="1.00" fill="none"/><path d="M326.60 374.01 L327.72 374.11 L328.84 374.40 L329.95 374.88 L331.07 375.54 L332.19 376.39 L333.31 377.41 L334.42 378.60 L335.54 379.94 L336.66 381.43 L337.78 383.05 L338.90 384.80 L340.01 386.65 L341.13 388.59 L342.25 390.61 L343.37 392.70 L344.48 394.83 L345.60 397.00 L346.72 399.20 L347.84 401.40 L348.96 403.59 L350.07 405.77 L351.19 407.91 L352.31 410.02 L353.43 412.07 L354.54 414.06 L355.66 415.98 L356.78 417.82 L357.90 419.58 L359.02 421.26 L360.13 422.84 L361.25 424.32 L362.37 425.70 L363.49 426.98 L364.60 428.16 L365.72 429.23 L366.84 430.20 L367.96 431.06 L369.08 431.82 L370.19 432.48 L371.31 433.03 L372.43 433.49 L373.55 433.84 L374.66 434.09 L375.78 434.24 L376.90 434.29 L377.98 434.24 L379.06 434.09 L380.13 433.84 L381.21 433.49 L382.29 433.03 L383.37 432.48 L384.44 431.82 L385.52 431.06 L386.60 430.20 L387.68 429.23 L388.76 428.16 L389.83 426.98 L390.91 425.70 L391.99 424.32 L393.07 422.84 L394.14 421.26 L395.22 419.58 L396.30 417.82 L397.38 415.98 L398.46 414.06 L399.53 412.07 L400.61 410.02 L401.69 407.91 L402.77 405.77 L403.84 403.59 L404.92 401.40 L406.00 399.20 L407.08 397.00 L408.16 394.83 L409.23 392.70 L410.31 390.61 L411.39 388.59 L412.47 386.65 L413.54 384.80 L414.62 383.05 L415.70 381.43 L416.78 379.94 L417.86 378.60 L418.93 377.41 L420.01 376.39 L421.09 375.54 L422.17 374.88 L423.24 374.40 L424.32 374.11 L425.40 374.01" stroke="#acdaf1" stroke-width="1.10" stroke-opacity="1.00" fill="none"/><path d="M326.60 370.31 L327.72 370.58 L328.84 371.04 L329.95 371.68 L331.07 372.50 L332.19 373.50 L333.31 374.66 L334.42 375.99 L335.54 377.46 L336.66 379.08 L337.78 380.82 L338.90 382.68 L340.01 384.64 L341.13 386.69 L342.25 388.82 L343.37 391.00 L344.48 393.23 L345.60 395.49 L346.72 397.77 L347.84 400.05 L348.96 402.31 L350.07 404.56 L351.19 406.77 L352.31 408.94 L353.43 411.05 L354.54 413.08 L355.66 415.05 L356.78 416.92 L357.90 418.70 L359.02 420.37 L360.13 421.94 L361.25 423.40 L362.37 424.74 L363.49 425.98 L364.60 427.10 L365.72 428.10 L366.84 429.00 L367.96 429.79 L369.08 430.47 L370.19 431.06 L371.31 431.55 L372.43 431.94 L373.55 432.24 L374.66 432.45 L375.78 432.58 L376.90 432.62 L377.98 432.58 L379.06 432.45 L380.13 432.24 L381.21 431.94 L382.29 431.55 L383.37 431.06 L384.44 430.47 L385.52 429.79 L386.60 429.00 L387.68 428.10 L388.76 427.10 L389.83 425.98 L390.91 424.74 L391.99 423.40 L393.07 421.94 L394.14 420.37 L395.22 418.70 L396.30 416.92 L397.38 415.05 L398.46 413.08 L399.53 411.05 L400.61 408.94 L401.69 406.77 L402.77 404.56 L403.84 402.31 L404.92 400.05 L406.00 397.77 L407.08 395.49 L408.16 393.23 L409.23 391.00 L410.31 388.82 L411.39 386.69 L412.47 384.64 L413.54 382.68 L414.62 380.82 L415.70 379.08 L416.78 377.46 L417.86 375.99 L418.93 374.66 L420.01 373.50 L421.09 372.50 L422.17 371.68 L423.24 371.04 L424.32 370.58 L425.40 370.31" stroke="#acdaf1" stroke-width="1.10" stroke-opacity="1.00" fill="none"/><path d="M326.60 415.80 L327.72 415.71 L328.84 415.65 L329.95 415.63 L331.07 415.65 L332.19 415.73 L333.31 415.88 L334.42 416.11 L335.54 416.45 L336.66 416.90 L337.78 417.48 L338.90 418.22 L340.01 419.11 L341.13 420.18 L342.25 421.42 L343.37 422.83 L344.48 424.42 L345.60 426.17 L346.72 428.08 L347.84 430.12 L348.96 432.28 L350.07 434.54 L351.19 436.86 L352.31 439.22 L353.43 441.59 L354.54 443.95 L355.66 446.26 L356.78 448.50 L357.90 450.65 L359.02 452.68 L360.13 454.59 L361.25 456.34 L362.37 457.95 L363.49 459.39 L364.60 460.68 L365.72 461.80 L366.84 462.78 L367.96 463.61 L369.08 464.30 L370.19 464.87 L371.31 465.33 L372.43 465.69 L373.55 465.95 L374.66 466.13 L375.78 466.24 L376.90 466.28 L377.98 466.24 L379.06 466.13 L380.13 465.95 L381.21 465.69 L382.29 465.33 L383.37 464.87 L384.44 464.30 L385.52 463.61 L386.60 462.78 L387.68 461.80 L388.76 460.68 L389.83 459.39 L390.91 457.95 L391.99 456.34 L393.07 454.59 L394.14 452.68 L395.22 450.65 L396.30 448.50 L397.38 446.26 L398.46 443.95 L399.53 441.59 L400.61 439.22 L401.69 436.86 L402.77 434.54 L403.84 432.28 L404.92 430.12 L406.00 428.08 L407.08 426.17 L408.16 424.42 L409.23 422.83 L410.31 421.42 L411.39 420.18 L412.47 419.11 L413.54 418.22 L414.62 417.48 L415.70 416.90 L416.78 416.45 L417.86 416.11 L418.93 415.88 L420.01 415.73 L421.09 415.65 L422.17 415.63 L423.24 415.65 L424.32 415.71 L425.40 415.80" stroke="#7cc3e4" stroke-width="2.20" stroke-opacity="0.50" fill="none"/><path d="M326.60 413.58 L327.72 413.69 L328.84 413.81 L329.95 413.95 L331.07 414.12 L332.19 414.34 L333.31 414.61 L334.42 414.95 L335.54 415.38 L336.66 415.92 L337.78 416.59 L338.90 417.39 L340.01 418.35 L341.13 419.47 L342.25 420.76 L343.37 422.22 L344.48 423.85 L345.60 425.63 L346.72 427.57 L347.84 429.63 L348.96 431.82 L350.07 434.09 L351.19 436.42 L352.31 438.80 L353.43 441.18 L354.54 443.54 L355.66 445.86 L356.78 448.11 L357.90 450.26 L359.02 452.30 L360.13 454.21 L361.25 455.97 L362.37 457.57 L363.49 459.02 L364.60 460.31 L365.72 461.43 L366.84 462.41 L367.96 463.24 L369.08 463.93 L370.19 464.50 L371.31 464.96 L372.43 465.32 L373.55 465.58 L374.66 465.76 L375.78 465.87 L376.90 465.91 L377.98 465.87 L379.06 465.76 L380.13 465.58 L381.21 465.32 L382.29 464.96 L383.37 464.50 L384.44 463.93 L385.52 463.24 L386.60 462.41 L387.68 461.43 L388.76 460.31 L389.83 459.02 L390.91 457.57 L391.99 455.97 L393.07 454.21 L394.14 452.30 L395.22 450.26 L396.30 448.11 L397.38 445.86 L398.46 443.54 L399.53 441.18 L400.61 438.80 L401.69 436.42 L402.77 434.09 L403.84 431.82 L404.92 429.63 L406.00 427.57 L407.08 425.63 L408.16 423.85 L409.23 422.22 L410.31 420.76 L411.39 419.47 L412.47 418.35 L413.54 417.39 L414.62 416.59 L415.70 415.92 L416.78 415.38 L417.86 414.95 L418.93 414.61 L420.01 414.34 L421.09 414.12 L422.17 413.95 L423.24 413.81 L424.32 413.69 L425.40 413.58" stroke="#7cc3e4" stroke-width="2.20" stroke-opacity="0.50" fill="none"/><path d="M326.60 415.80 L327.72 415.71 L328.84 415.65 L329.95 415.63 L331.07 415.65 L332.19 415.73 L333.31 415.88 L334.42 416.11 L335.54 416.45 L336.66 416.90 L337.78 417.48 L338.90 418.22 L340.01 419.11 L341.13 420.18 L342.25 421.42 L343.37 422.83 L344.48 424.42 L345.60 426.17 L346.72 428.08 L347.84 430.12 L348.96 432.28 L350.07 434.54 L351.19 436.86 L352.31 439.22 L353.43 441.59 L354.54 443.95 L355.66 446.26 L356.78 448.50 L357.90 450.65 L359.02 452.68 L360.13 454.59 L361.25 456.34 L362.37 457.95 L363.49 459.39 L364.60 460.68 L365.72 461.80 L366.84 462.78 L367.96 463.61 L369.08 464.30 L370.19 464.87 L371.31 465.33 L372.43 465.69 L373.55 465.95 L374.66 466.13 L375.78 466.24 L376.90 466.28 L377.98 466.24 L379.06 466.13 L380.13 465.95 L381.21 465.69 L382.29 465.33 L383.37 464.87 L384.44 464.30 L385.52 463.61 L386.60 462.78 L387.68 461.80 L388.76 460.68 L389.83 459.39 L390.91 457.95 L391.99 456.34 L393.07 454.59 L394.14 452.68 L395.22 450.65 L396.30 448.50 L397.38 446.26 L398.46 443.95 L399.53 441.59 L400.61 439.22 L401.69 436.86 L402.77 434.54 L403.84 432.28 L404.92 430.12 L406.00 428.08 L407.08 426.17 L408.16 424.42 L409.23 422.83 L410.31 421.42 L411.39 420.18 L412.47 419.11 L413.54 418.22 L414.62 417.48 L415.70 416.90 L416.78 416.45 L417.86 416.11 L418.93 415.88 L420.01 415.73 L421.09 415.65 L422.17 415.63 L423.24 415.65 L424.32 415.71 L425.40 415.80" stroke="#acdaf1" stroke-width="1.10" stroke-opacity="1.00" fill="none"/><path d="M326.60 413.58 L327.72 413.69 L328.84 413.81 L329.95 413.95 L331.07 414.12 L332.19 414.34 L333.31 414.61 L334.42 414.95 L335.54 415.38 L336.66 415.92 L337.78 416.59 L338.90 417.39 L340.01 418.35 L341.13 419.47 L342.25 420.76 L343.37 422.22 L344.48 423.85 L345.60 425.63 L346.72 427.57 L347.84 429.63 L348.96 431.82 L350.07 434.09 L351.19 436.42 L352.31 438.80 L353.43 441.18 L354.54 443.54 L355.66 445.86 L356.78 448.11 L357.90 450.26 L359.02 452.30 L360.13 454.21 L361.25 455.97 L362.37 457.57 L363.49 459.02 L364.60 460.31 L365.72 461.43 L366.84 462.41 L367.96 463.24 L369.08 463.93 L370.19 464.50 L371.31 464.96 L372.43 465.32 L373.55 465.58 L374.66 465.76 L375.78 465.87 L376.90 465.91 L377.98 465.87 L379.06 465.76 L380.13 465.58 L381.21 465.32 L382.29 464.96 L383.37 464.50 L384.44 463.93 L385.52 463.24 L386.60 462.41 L387.68 461.43 L388.76 460.31 L389.83 459.02 L390.91 457.57 L391.99 455.97 L393.07 454.21 L394.14 452.30 L395.22 450.26 L396.30 448.11 L397.38 445.86 L398.46 443.54 L399.53 441.18 L400.61 438.80 L401.69 436.42 L402.77 434.09 L403.84 431.82 L404.92 429.63 L406.00 427.57 L407.08 425.63 L408.16 423.85 L409.23 422.22 L410.31 420.76 L411.39 419.47 L412.47 418.35 L413.54 417.39 L414.62 416.59 L415.70 415.92 L416.78 415.38 L417.86 414.95 L418.93 414.61 L420.01 414.34 L421.09 414.12 L422.17 413.95 L423.24 413.81 L424.32 413.69 L425.40 413.58" stroke="#acdaf1" stroke-width="1.10" stroke-opacity="1.00" fill="none"/><polygon points="326.60,341.32 327.86,341.75 329.12,341.32 330.37,340.62 331.63,339.78 332.89,338.83 334.15,337.83 335.40,336.78 336.66,335.71 337.92,334.61 339.18,333.50 340.43,332.38 341.69,331.26 342.95,330.43 344.20,329.61 345.46,328.80 346.72,327.99 347.98,327.19 349.24,326.40 350.49,325.62 351.75,324.85 353.01,324.10 354.26,323.35 355.52,322.61 356.78,321.89 358.04,321.18 359.30,320.48 360.55,319.80 361.81,319.15 363.07,318.51 364.32,317.90 365.58,317.31 366.84,316.77 368.10,316.26 369.35,315.81 370.61,315.43 371.87,315.12 373.13,314.93 374.38,314.86 375.64,315.00 376.90,315.80 378.11,315.00 379.32,314.86 380.54,314.93 381.75,315.12 382.96,315.43 384.17,315.81 385.39,316.26 386.60,316.77 387.81,317.31 389.02,317.90 390.24,318.51 391.45,319.15 392.66,319.80 393.88,320.48 395.09,321.18 396.30,321.89 397.51,322.61 398.72,323.35 399.94,324.10 401.15,324.85 402.36,325.62 403.57,326.40 404.79,327.19 406.00,327.99 407.21,328.80 408.42,329.61 409.64,330.43 410.85,331.26 412.06,332.38 413.27,333.50 414.49,334.61 415.70,335.71 416.91,336.78 418.12,337.83 419.34,338.83 420.55,339.78 421.76,340.62 422.97,341.32 424.19,341.75 425.40,341.32 425.40,341.62 424.19,342.35 422.97,342.29 421.76,342.00 420.55,341.57 419.34,341.05 418.12,340.49 416.91,339.88 415.70,339.25 414.49,338.59 413.27,337.92 412.06,337.23 410.85,336.53 409.64,335.82 408.42,335.10 407.21,334.37 406.00,333.64 404.79,332.89 403.57,332.14 402.36,331.39 401.15,330.62 399.94,329.86 398.72,329.09 397.51,328.31 396.30,327.53 395.09,326.75 393.88,325.97 392.66,325.19 391.45,324.42 390.24,323.64 389.02,322.88 387.81,322.12 386.60,321.37 385.39,320.65 384.17,319.94 382.96,319.27 381.75,318.65 380.54,318.06 379.32,317.54 378.11,317.03 376.90,316.10 375.64,317.03 374.38,317.54 373.13,318.06 371.87,318.65 370.61,319.27 369.35,319.94 368.10,320.65 366.84,321.37 365.58,322.12 364.32,322.88 363.07,323.64 361.81,324.42 360.55,325.19 359.30,325.97 358.04,326.75 356.78,327.53 355.52,328.31 354.26,329.09 353.01,329.86 351.75,330.62 350.49,331.39 349.24,332.14 347.98,332.89 346.72,333.64 345.46,334.37 344.20,335.10 342.95,335.82 341.69,336.53 340.43,337.23 339.18,337.92 337.92,338.59 336.66,339.25 335.40,339.88 334.15,340.49 332.89,341.05 331.63,341.57 330.37,342.00 329.12,342.29 327.86,342.35 326.60,341.62" fill="#4a93ba"/></g>
<g><line x1="327.90" y1="341.32" x2="325.30" y2="341.62" stroke="#c4e8fa" stroke-width="0.95"/><line x1="329.91" y1="341.53" x2="327.31" y2="342.35" stroke="#c4e8fa" stroke-width="0.95"/><line x1="331.92" y1="340.46" x2="329.32" y2="341.92" stroke="#c4e8fa" stroke-width="0.95"/><line x1="333.94" y1="339.03" x2="331.34" y2="341.16" stroke="#c4e8fa" stroke-width="0.95"/><line x1="335.95" y1="337.42" x2="333.35" y2="340.25" stroke="#c4e8fa" stroke-width="0.95"/><line x1="337.96" y1="335.71" x2="335.36" y2="339.25" stroke="#c4e8fa" stroke-width="0.95"/><line x1="339.97" y1="333.95" x2="337.37" y2="338.19" stroke="#c4e8fa" stroke-width="0.95"/><line x1="341.98" y1="332.16" x2="339.38" y2="337.09" stroke="#c4e8fa" stroke-width="0.95"/><line x1="344.00" y1="330.60" x2="341.40" y2="335.97" stroke="#c4e8fa" stroke-width="0.95"/><line x1="346.01" y1="329.28" x2="343.41" y2="334.81" stroke="#c4e8fa" stroke-width="0.95"/><line x1="348.02" y1="327.99" x2="345.42" y2="333.64" stroke="#c4e8fa" stroke-width="0.95"/><line x1="350.03" y1="326.72" x2="347.43" y2="332.44" stroke="#c4e8fa" stroke-width="0.95"/><line x1="352.04" y1="325.47" x2="349.44" y2="331.23" stroke="#c4e8fa" stroke-width="0.95"/><line x1="354.06" y1="324.25" x2="351.46" y2="330.01" stroke="#c4e8fa" stroke-width="0.95"/><line x1="356.07" y1="323.05" x2="353.47" y2="328.78" stroke="#c4e8fa" stroke-width="0.95"/><line x1="358.08" y1="321.89" x2="355.48" y2="327.53" stroke="#c4e8fa" stroke-width="0.95"/><line x1="360.09" y1="320.76" x2="357.49" y2="326.29" stroke="#c4e8fa" stroke-width="0.95"/><line x1="362.10" y1="319.67" x2="359.50" y2="325.04" stroke="#c4e8fa" stroke-width="0.95"/><line x1="364.12" y1="318.63" x2="361.52" y2="323.80" stroke="#c4e8fa" stroke-width="0.95"/><line x1="366.13" y1="317.66" x2="363.53" y2="322.57" stroke="#c4e8fa" stroke-width="0.95"/><line x1="368.14" y1="316.77" x2="365.54" y2="321.37" stroke="#c4e8fa" stroke-width="0.95"/><line x1="370.15" y1="315.99" x2="367.55" y2="320.22" stroke="#c4e8fa" stroke-width="0.95"/><line x1="372.16" y1="315.36" x2="369.56" y2="319.14" stroke="#c4e8fa" stroke-width="0.95"/><line x1="374.18" y1="314.95" x2="371.58" y2="318.18" stroke="#c4e8fa" stroke-width="0.95"/><line x1="376.19" y1="314.89" x2="373.59" y2="317.33" stroke="#c4e8fa" stroke-width="0.95"/><line x1="377.54" y1="314.89" x2="380.14" y2="317.33" stroke="#c4e8fa" stroke-width="0.95"/><line x1="379.48" y1="314.95" x2="382.08" y2="318.18" stroke="#c4e8fa" stroke-width="0.95"/><line x1="381.42" y1="315.36" x2="384.02" y2="319.14" stroke="#c4e8fa" stroke-width="0.95"/><line x1="383.36" y1="315.99" x2="385.96" y2="320.22" stroke="#c4e8fa" stroke-width="0.95"/><line x1="385.30" y1="316.77" x2="387.90" y2="321.37" stroke="#c4e8fa" stroke-width="0.95"/><line x1="387.24" y1="317.66" x2="389.84" y2="322.57" stroke="#c4e8fa" stroke-width="0.95"/><line x1="389.18" y1="318.63" x2="391.78" y2="323.80" stroke="#c4e8fa" stroke-width="0.95"/><line x1="391.12" y1="319.67" x2="393.72" y2="325.04" stroke="#c4e8fa" stroke-width="0.95"/><line x1="393.06" y1="320.76" x2="395.66" y2="326.29" stroke="#c4e8fa" stroke-width="0.95"/><line x1="395.00" y1="321.89" x2="397.60" y2="327.53" stroke="#c4e8fa" stroke-width="0.95"/><line x1="396.94" y1="323.05" x2="399.54" y2="328.78" stroke="#c4e8fa" stroke-width="0.95"/><line x1="398.88" y1="324.25" x2="401.48" y2="330.01" stroke="#c4e8fa" stroke-width="0.95"/><line x1="400.82" y1="325.47" x2="403.42" y2="331.23" stroke="#c4e8fa" stroke-width="0.95"/><line x1="402.76" y1="326.72" x2="405.36" y2="332.44" stroke="#c4e8fa" stroke-width="0.95"/><line x1="404.70" y1="327.99" x2="407.30" y2="333.64" stroke="#c4e8fa" stroke-width="0.95"/><line x1="406.64" y1="329.28" x2="409.24" y2="334.81" stroke="#c4e8fa" stroke-width="0.95"/><line x1="408.58" y1="330.60" x2="411.18" y2="335.97" stroke="#c4e8fa" stroke-width="0.95"/><line x1="410.52" y1="332.16" x2="413.12" y2="337.09" stroke="#c4e8fa" stroke-width="0.95"/><line x1="412.46" y1="333.95" x2="415.06" y2="338.19" stroke="#c4e8fa" stroke-width="0.95"/><line x1="414.40" y1="335.71" x2="417.00" y2="339.25" stroke="#c4e8fa" stroke-width="0.95"/><line x1="416.34" y1="337.42" x2="418.94" y2="340.25" stroke="#c4e8fa" stroke-width="0.95"/><line x1="418.28" y1="339.03" x2="420.88" y2="341.16" stroke="#c4e8fa" stroke-width="0.95"/><line x1="420.22" y1="340.46" x2="422.82" y2="341.92" stroke="#c4e8fa" stroke-width="0.95"/><line x1="422.16" y1="341.53" x2="424.76" y2="342.35" stroke="#c4e8fa" stroke-width="0.95"/><line x1="424.10" y1="341.32" x2="426.70" y2="341.62" stroke="#c4e8fa" stroke-width="0.95"/></g>
<rect x="376.00" y="282.30" width="1.30" height="184.90" fill="#fff6ee"/>
<text x="329.00" y="297.00" font-size="17.4" fill="#f4e9e2" stroke="none">(d)</text>
</g>
<line x1="326.60" y1="282.50" x2="425.40" y2="282.50" stroke="#9fd0ea" stroke-width="0.9" stroke-opacity="0.55"/>
<line x1="318.00" y1="467.20" x2="326.90" y2="467.20" stroke="#222" stroke-width="0.9"/>
<text x="318.20" y="470.80" font-size="10.2" text-anchor="end">0</text>
<line x1="322.20" y1="448.71" x2="326.90" y2="448.71" stroke="#222" stroke-width="0.9"/>
<line x1="318.00" y1="430.22" x2="326.90" y2="430.22" stroke="#222" stroke-width="0.9"/>
<text x="318.20" y="433.82" font-size="10.2" text-anchor="end">100</text>
<line x1="322.20" y1="411.73" x2="326.90" y2="411.73" stroke="#222" stroke-width="0.9"/>
<line x1="318.00" y1="393.24" x2="326.90" y2="393.24" stroke="#222" stroke-width="0.9"/>
<text x="318.20" y="396.84" font-size="10.2" text-anchor="end">200</text>
<line x1="322.20" y1="374.75" x2="326.90" y2="374.75" stroke="#222" stroke-width="0.9"/>
<line x1="318.00" y1="356.26" x2="326.90" y2="356.26" stroke="#222" stroke-width="0.9"/>
<text x="318.20" y="359.86" font-size="10.2" text-anchor="end">300</text>
<line x1="322.20" y1="337.77" x2="326.90" y2="337.77" stroke="#222" stroke-width="0.9"/>
<line x1="318.00" y1="319.28" x2="326.90" y2="319.28" stroke="#222" stroke-width="0.9"/>
<text x="318.20" y="322.88" font-size="10.2" text-anchor="end">400</text>
<line x1="322.20" y1="300.79" x2="326.90" y2="300.79" stroke="#222" stroke-width="0.9"/>
<line x1="318.00" y1="282.30" x2="326.90" y2="282.30" stroke="#222" stroke-width="0.9"/>
<text x="318.20" y="285.90" font-size="10.2" text-anchor="end">500</text>
<text transform="translate(296.00 371.00) rotate(-90)" font-size="11.3" text-anchor="middle">Magnon Energy (meV)</text>
<text x="326.00" y="482.30" font-size="11.2" text-anchor="middle">X</text>
<line x1="321.90" y1="472.60" x2="330.10" y2="472.60" stroke="#111" stroke-width="1.0"/>
<text x="377.50" y="482.30" font-size="10.4" text-anchor="middle" font-family="'Liberation Serif', serif">Γ</text>
<line x1="374.20" y1="472.60" x2="380.80" y2="472.60" stroke="#111" stroke-width="1.0"/>
<text x="424.10" y="482.30" font-size="11.2" text-anchor="middle">X</text>
<line x1="420.00" y1="472.60" x2="428.20" y2="472.60" stroke="#111" stroke-width="1.0"/>
<text x="430.90" y="482.30" font-size="11.3">Mag.DOS</text>
<path d="M465.30 280.30 C465.30 283.58 465.32 295.05 465.30 300.00 C465.28 304.95 465.57 308.07 465.20 310.00 C464.83 311.93 464.72 311.05 463.10 311.60 C461.48 312.15 456.77 313.02 455.50 313.30 C456.08 313.60 458.13 314.12 459.00 315.10 C459.87 316.08 460.35 317.32 460.70 319.20 C461.05 321.08 460.87 324.17 461.10 326.40 C461.33 328.63 461.45 330.53 462.10 332.60 C462.75 334.67 464.47 335.90 465.00 338.80 C465.53 341.70 465.27 345.55 465.30 350.00 C465.33 354.45 465.73 362.22 465.20 365.50 C464.67 368.78 465.02 368.75 462.10 369.70 C459.18 370.65 450.10 370.95 447.70 371.20 C449.07 371.52 453.85 371.93 455.90 373.10 C457.95 374.27 459.03 375.97 460.00 378.20 C460.97 380.43 461.35 383.42 461.70 386.50 C462.05 389.58 462.20 393.97 462.10 396.70 C462.00 399.43 461.52 401.52 461.10 402.90 C460.68 404.28 459.85 404.65 459.60 405.00 C459.78 405.33 460.45 405.63 460.70 407.00 C460.95 408.37 461.22 410.80 461.10 413.20 C460.98 415.60 461.13 419.27 460.00 421.40 C458.87 423.53 455.25 425.23 454.30 426.00 C455.25 426.27 458.43 426.92 460.00 427.60 C461.57 428.28 462.93 428.73 463.70 430.10 C464.47 431.47 464.60 432.78 464.60 435.80 C464.60 438.82 464.12 444.42 463.70 448.20 C463.28 451.98 462.88 455.75 462.10 458.50 C461.32 461.25 459.85 463.15 459.00 464.70 C458.15 466.25 457.33 467.28 457.00 467.80 L465.70 467.80 L465.70 280.30 Z" fill="#dedede" stroke="none"/>
<path d="M465.30 280.30 C465.30 283.58 465.32 295.05 465.30 300.00 C465.28 304.95 465.57 308.07 465.20 310.00 C464.83 311.93 464.72 311.05 463.10 311.60 C461.48 312.15 456.77 313.02 455.50 313.30 C456.08 313.60 458.13 314.12 459.00 315.10 C459.87 316.08 460.35 317.32 460.70 319.20 C461.05 321.08 460.87 324.17 461.10 326.40 C461.33 328.63 461.45 330.53 462.10 332.60 C462.75 334.67 464.47 335.90 465.00 338.80 C465.53 341.70 465.27 345.55 465.30 350.00 C465.33 354.45 465.73 362.22 465.20 365.50 C464.67 368.78 465.02 368.75 462.10 369.70 C459.18 370.65 450.10 370.95 447.70 371.20 C449.07 371.52 453.85 371.93 455.90 373.10 C457.95 374.27 459.03 375.97 460.00 378.20 C460.97 380.43 461.35 383.42 461.70 386.50 C462.05 389.58 462.20 393.97 462.10 396.70 C462.00 399.43 461.52 401.52 461.10 402.90 C460.68 404.28 459.85 404.65 459.60 405.00 C459.78 405.33 460.45 405.63 460.70 407.00 C460.95 408.37 461.22 410.80 461.10 413.20 C460.98 415.60 461.13 419.27 460.00 421.40 C458.87 423.53 455.25 425.23 454.30 426.00 C455.25 426.27 458.43 426.92 460.00 427.60 C461.57 428.28 462.93 428.73 463.70 430.10 C464.47 431.47 464.60 432.78 464.60 435.80 C464.60 438.82 464.12 444.42 463.70 448.20 C463.28 451.98 462.88 455.75 462.10 458.50 C461.32 461.25 459.85 463.15 459.00 464.70 C458.15 466.25 457.33 467.28 457.00 467.80" fill="none" stroke="#111" stroke-width="1.15" stroke-linejoin="miter"/>
<path d="M429.60 467.80 L429.60 280.30 L470.00 280.30" fill="none" stroke="#585858" stroke-width="1.1"/>
<line x1="429.10" y1="467.80" x2="470.00" y2="467.80" stroke="#222" stroke-width="1.0"/>
<line x1="465.70" y1="280.30" x2="465.70" y2="467.80" stroke="#111" stroke-width="1.05"/>
<line x1="465.70" y1="467.80" x2="470.00" y2="467.80" stroke="#111" stroke-width="1.0"/>
<text transform="translate(481.30 467.80) rotate(-90)" font-size="10.2" text-anchor="middle">0</text>
<line x1="465.70" y1="449.05" x2="467.90" y2="449.05" stroke="#222" stroke-width="0.9"/>
<line x1="465.70" y1="430.30" x2="470.00" y2="430.30" stroke="#111" stroke-width="1.0"/>
<text transform="translate(481.30 430.30) rotate(-90)" font-size="10.2" text-anchor="middle">100</text>
<line x1="465.70" y1="411.55" x2="467.90" y2="411.55" stroke="#222" stroke-width="0.9"/>
<line x1="465.70" y1="392.80" x2="470.00" y2="392.80" stroke="#111" stroke-width="1.0"/>
<text transform="translate(481.30 392.80) rotate(-90)" font-size="10.2" text-anchor="middle">200</text>
<line x1="465.70" y1="374.05" x2="467.90" y2="374.05" stroke="#222" stroke-width="0.9"/>
<line x1="465.70" y1="355.30" x2="470.00" y2="355.30" stroke="#111" stroke-width="1.0"/>
<text transform="translate(481.30 355.30) rotate(-90)" font-size="10.2" text-anchor="middle">300</text>
<line x1="465.70" y1="336.55" x2="467.90" y2="336.55" stroke="#222" stroke-width="0.9"/>
<line x1="465.70" y1="317.80" x2="470.00" y2="317.80" stroke="#111" stroke-width="1.0"/>
<text transform="translate(481.30 317.80) rotate(-90)" font-size="10.2" text-anchor="middle">400</text>
<line x1="465.70" y1="299.05" x2="467.90" y2="299.05" stroke="#222" stroke-width="0.9"/>
<line x1="465.70" y1="280.30" x2="470.00" y2="280.30" stroke="#111" stroke-width="1.0"/>
<text transform="translate(481.30 280.30) rotate(-90)" font-size="10.2" text-anchor="middle">500</text>
<text transform="translate(498.20 371.80) rotate(-90)" font-size="11.3" text-anchor="middle">Magnon Energy (meV)</text>
<rect x="230.4" y="184.7" width="8.7" height="116.3" fill="url(#cbar)" stroke="#4a5a66" stroke-width="0.6"/>
<line x1="230" y1="204.6" x2="232.6" y2="204.6" stroke="#1d2a33" stroke-width="0.7"/>
<line x1="236.6" y1="204.6" x2="239.2" y2="204.6" stroke="#1d2a33" stroke-width="0.7"/>
<line x1="230" y1="236.0" x2="232.6" y2="236.0" stroke="#1d2a33" stroke-width="0.7"/>
<line x1="236.6" y1="236.0" x2="239.2" y2="236.0" stroke="#1d2a33" stroke-width="0.7"/>
<line x1="230" y1="268.8" x2="232.6" y2="268.8" stroke="#1d2a33" stroke-width="0.7"/>
<line x1="236.6" y1="268.8" x2="239.2" y2="268.8" stroke="#1d2a33" stroke-width="0.7"/>
<text x="243.0" y="188.6" font-size="10">1</text>
<text x="243.0" y="301.2" font-size="10">0</text>
<g filter="url(#soft2)">
<g clip-path="url(#clipa)"><line x1="224.7" y1="82.9" x2="222.7" y2="94.1" stroke="#5e5e5e" stroke-width="0.75"/><line x1="224.7" y1="82.9" x2="229.2" y2="92.1" stroke="#5e5e5e" stroke-width="0.75"/><line x1="224.7" y1="82.9" x2="238.7" y2="93.9" stroke="#5e5e5e" stroke-width="0.75"/><line x1="236.0" y1="84.2" x2="222.7" y2="94.1" stroke="#5e5e5e" stroke-width="0.75"/><line x1="236.0" y1="84.2" x2="229.2" y2="92.1" stroke="#5e5e5e" stroke-width="0.75"/><line x1="236.0" y1="84.2" x2="238.7" y2="93.9" stroke="#5e5e5e" stroke-width="0.75"/><line x1="236.0" y1="84.2" x2="249.5" y2="94.9" stroke="#5e5e5e" stroke-width="0.75"/><line x1="242.2" y1="81.3" x2="229.2" y2="92.1" stroke="#5e5e5e" stroke-width="0.75"/><line x1="242.2" y1="81.3" x2="238.7" y2="93.9" stroke="#5e5e5e" stroke-width="0.75"/><line x1="242.2" y1="81.3" x2="249.5" y2="94.9" stroke="#5e5e5e" stroke-width="0.75"/><line x1="242.2" y1="81.3" x2="255.3" y2="92.6" stroke="#5e5e5e" stroke-width="0.75"/><line x1="252.3" y1="83.1" x2="238.7" y2="93.9" stroke="#5e5e5e" stroke-width="0.75"/><line x1="252.3" y1="83.1" x2="249.5" y2="94.9" stroke="#5e5e5e" stroke-width="0.75"/><line x1="252.3" y1="83.1" x2="255.3" y2="92.6" stroke="#5e5e5e" stroke-width="0.75"/><line x1="222.7" y1="94.1" x2="224.7" y2="104.7" stroke="#5e5e5e" stroke-width="0.75"/><line x1="222.7" y1="94.1" x2="236.0" y2="106.0" stroke="#5e5e5e" stroke-width="0.75"/><line x1="229.2" y1="92.1" x2="224.7" y2="104.7" stroke="#5e5e5e" stroke-width="0.75"/><line x1="229.2" y1="92.1" x2="236.0" y2="106.0" stroke="#5e5e5e" stroke-width="0.75"/><line x1="229.2" y1="92.1" x2="242.2" y2="103.1" stroke="#5e5e5e" stroke-width="0.75"/><line x1="238.7" y1="93.9" x2="224.7" y2="104.7" stroke="#5e5e5e" stroke-width="0.75"/><line x1="238.7" y1="93.9" x2="236.0" y2="106.0" stroke="#5e5e5e" stroke-width="0.75"/><line x1="238.7" y1="93.9" x2="242.2" y2="103.1" stroke="#5e5e5e" stroke-width="0.75"/><line x1="238.7" y1="93.9" x2="252.3" y2="104.9" stroke="#5e5e5e" stroke-width="0.75"/><line x1="249.5" y1="94.9" x2="236.0" y2="106.0" stroke="#5e5e5e" stroke-width="0.75"/><line x1="249.5" y1="94.9" x2="242.2" y2="103.1" stroke="#5e5e5e" stroke-width="0.75"/><line x1="249.5" y1="94.9" x2="252.3" y2="104.9" stroke="#5e5e5e" stroke-width="0.75"/><line x1="255.3" y1="92.6" x2="242.2" y2="103.1" stroke="#5e5e5e" stroke-width="0.75"/><line x1="255.3" y1="92.6" x2="252.3" y2="104.9" stroke="#5e5e5e" stroke-width="0.75"/><line x1="224.7" y1="104.7" x2="222.7" y2="115.6" stroke="#5e5e5e" stroke-width="0.75"/><line x1="224.7" y1="104.7" x2="229.2" y2="113.6" stroke="#5e5e5e" stroke-width="0.75"/><line x1="224.7" y1="104.7" x2="238.7" y2="115.4" stroke="#5e5e5e" stroke-width="0.75"/><line x1="236.0" y1="106.0" x2="222.7" y2="115.6" stroke="#5e5e5e" stroke-width="0.75"/><line x1="236.0" y1="106.0" x2="229.2" y2="113.6" stroke="#5e5e5e" stroke-width="0.75"/><line x1="236.0" y1="106.0" x2="238.7" y2="115.4" stroke="#5e5e5e" stroke-width="0.75"/><line x1="236.0" y1="106.0" x2="249.5" y2="116.4" stroke="#5e5e5e" stroke-width="0.75"/><line x1="242.2" y1="103.1" x2="229.2" y2="113.6" stroke="#5e5e5e" stroke-width="0.75"/><line x1="242.2" y1="103.1" x2="238.7" y2="115.4" stroke="#5e5e5e" stroke-width="0.75"/><line x1="242.2" y1="103.1" x2="249.5" y2="116.4" stroke="#5e5e5e" stroke-width="0.75"/><line x1="242.2" y1="103.1" x2="255.3" y2="114.1" stroke="#5e5e5e" stroke-width="0.75"/><line x1="252.3" y1="104.9" x2="238.7" y2="115.4" stroke="#5e5e5e" stroke-width="0.75"/><line x1="252.3" y1="104.9" x2="249.5" y2="116.4" stroke="#5e5e5e" stroke-width="0.75"/><line x1="252.3" y1="104.9" x2="255.3" y2="114.1" stroke="#5e5e5e" stroke-width="0.75"/><line x1="222.7" y1="115.6" x2="224.7" y2="125.9" stroke="#5e5e5e" stroke-width="0.75"/><line x1="222.7" y1="115.6" x2="236.0" y2="127.2" stroke="#5e5e5e" stroke-width="0.75"/><line x1="229.2" y1="113.6" x2="224.7" y2="125.9" stroke="#5e5e5e" stroke-width="0.75"/><line x1="229.2" y1="113.6" x2="236.0" y2="127.2" stroke="#5e5e5e" stroke-width="0.75"/><line x1="229.2" y1="113.6" x2="242.2" y2="124.3" stroke="#5e5e5e" stroke-width="0.75"/><line x1="238.7" y1="115.4" x2="224.7" y2="125.9" stroke="#5e5e5e" stroke-width="0.75"/><line x1="238.7" y1="115.4" x2="236.0" y2="127.2" stroke="#5e5e5e" stroke-width="0.75"/><line x1="238.7" y1="115.4" x2="242.2" y2="124.3" stroke="#5e5e5e" stroke-width="0.75"/><line x1="238.7" y1="115.4" x2="252.3" y2="126.1" stroke="#5e5e5e" stroke-width="0.75"/><line x1="249.5" y1="116.4" x2="236.0" y2="127.2" stroke="#5e5e5e" stroke-width="0.75"/><line x1="249.5" y1="116.4" x2="242.2" y2="124.3" stroke="#5e5e5e" stroke-width="0.75"/><line x1="249.5" y1="116.4" x2="252.3" y2="126.1" stroke="#5e5e5e" stroke-width="0.75"/><line x1="255.3" y1="114.1" x2="242.2" y2="124.3" stroke="#5e5e5e" stroke-width="0.75"/><line x1="255.3" y1="114.1" x2="252.3" y2="126.1" stroke="#5e5e5e" stroke-width="0.75"/><line x1="224.7" y1="125.9" x2="222.7" y2="136.3" stroke="#5e5e5e" stroke-width="0.75"/><line x1="224.7" y1="125.9" x2="229.2" y2="134.3" stroke="#5e5e5e" stroke-width="0.75"/><line x1="224.7" y1="125.9" x2="238.7" y2="136.2" stroke="#5e5e5e" stroke-width="0.75"/><line x1="236.0" y1="127.2" x2="222.7" y2="136.3" stroke="#5e5e5e" stroke-width="0.75"/><line x1="236.0" y1="127.2" x2="229.2" y2="134.3" stroke="#5e5e5e" stroke-width="0.75"/><line x1="236.0" y1="127.2" x2="238.7" y2="136.2" stroke="#5e5e5e" stroke-width="0.75"/><line x1="236.0" y1="127.2" x2="249.5" y2="137.2" stroke="#5e5e5e" stroke-width="0.75"/><line x1="242.2" y1="124.3" x2="229.2" y2="134.3" stroke="#5e5e5e" stroke-width="0.75"/><line x1="242.2" y1="124.3" x2="238.7" y2="136.2" stroke="#5e5e5e" stroke-width="0.75"/><line x1="242.2" y1="124.3" x2="249.5" y2="137.2" stroke="#5e5e5e" stroke-width="0.75"/><line x1="242.2" y1="124.3" x2="255.3" y2="134.8" stroke="#5e5e5e" stroke-width="0.75"/><line x1="252.3" y1="126.1" x2="238.7" y2="136.2" stroke="#5e5e5e" stroke-width="0.75"/><line x1="252.3" y1="126.1" x2="249.5" y2="137.2" stroke="#5e5e5e" stroke-width="0.75"/><line x1="252.3" y1="126.1" x2="255.3" y2="134.8" stroke="#5e5e5e" stroke-width="0.75"/><line x1="222.7" y1="136.3" x2="224.7" y2="146.3" stroke="#5e5e5e" stroke-width="0.75"/><line x1="222.7" y1="136.3" x2="236.0" y2="147.6" stroke="#5e5e5e" stroke-width="0.75"/><line x1="229.2" y1="134.3" x2="224.7" y2="146.3" stroke="#5e5e5e" stroke-width="0.75"/><line x1="229.2" y1="134.3" x2="236.0" y2="147.6" stroke="#5e5e5e" stroke-width="0.75"/><line x1="229.2" y1="134.3" x2="242.2" y2="144.7" stroke="#5e5e5e" stroke-width="0.75"/><line x1="238.7" y1="136.2" x2="224.7" y2="146.3" stroke="#5e5e5e" stroke-width="0.75"/><line x1="238.7" y1="136.2" x2="236.0" y2="147.6" stroke="#5e5e5e" stroke-width="0.75"/><line x1="238.7" y1="136.2" x2="242.2" y2="144.7" stroke="#5e5e5e" stroke-width="0.75"/><line x1="238.7" y1="136.2" x2="252.3" y2="146.5" stroke="#5e5e5e" stroke-width="0.75"/><line x1="249.5" y1="137.2" x2="236.0" y2="147.6" stroke="#5e5e5e" stroke-width="0.75"/><line x1="249.5" y1="137.2" x2="242.2" y2="144.7" stroke="#5e5e5e" stroke-width="0.75"/><line x1="249.5" y1="137.2" x2="252.3" y2="146.5" stroke="#5e5e5e" stroke-width="0.75"/><line x1="255.3" y1="134.8" x2="242.2" y2="144.7" stroke="#5e5e5e" stroke-width="0.75"/><line x1="255.3" y1="134.8" x2="252.3" y2="146.5" stroke="#5e5e5e" stroke-width="0.75"/><line x1="224.7" y1="146.3" x2="222.7" y2="156.4" stroke="#5e5e5e" stroke-width="0.75"/><line x1="224.7" y1="146.3" x2="229.2" y2="154.4" stroke="#5e5e5e" stroke-width="0.75"/><line x1="224.7" y1="146.3" x2="238.7" y2="156.2" stroke="#5e5e5e" stroke-width="0.75"/><line x1="236.0" y1="147.6" x2="222.7" y2="156.4" stroke="#5e5e5e" stroke-width="0.75"/><line x1="236.0" y1="147.6" x2="229.2" y2="154.4" stroke="#5e5e5e" stroke-width="0.75"/><line x1="236.0" y1="147.6" x2="238.7" y2="156.2" stroke="#5e5e5e" stroke-width="0.75"/><line x1="236.0" y1="147.6" x2="249.5" y2="157.2" stroke="#5e5e5e" stroke-width="0.75"/><line x1="242.2" y1="144.7" x2="229.2" y2="154.4" stroke="#5e5e5e" stroke-width="0.75"/><line x1="242.2" y1="144.7" x2="238.7" y2="156.2" stroke="#5e5e5e" stroke-width="0.75"/><line x1="242.2" y1="144.7" x2="249.5" y2="157.2" stroke="#5e5e5e" stroke-width="0.75"/><line x1="242.2" y1="144.7" x2="255.3" y2="154.9" stroke="#5e5e5e" stroke-width="0.75"/><line x1="252.3" y1="146.5" x2="238.7" y2="156.2" stroke="#5e5e5e" stroke-width="0.75"/><line x1="252.3" y1="146.5" x2="249.5" y2="157.2" stroke="#5e5e5e" stroke-width="0.75"/><line x1="252.3" y1="146.5" x2="255.3" y2="154.9" stroke="#5e5e5e" stroke-width="0.75"/><line x1="222.7" y1="156.4" x2="224.7" y2="165.9" stroke="#5e5e5e" stroke-width="0.75"/><line x1="222.7" y1="156.4" x2="236.0" y2="167.2" stroke="#5e5e5e" stroke-width="0.75"/><line x1="229.2" y1="154.4" x2="224.7" y2="165.9" stroke="#5e5e5e" stroke-width="0.75"/><line x1="229.2" y1="154.4" x2="236.0" y2="167.2" stroke="#5e5e5e" stroke-width="0.75"/><line x1="229.2" y1="154.4" x2="242.2" y2="164.3" stroke="#5e5e5e" stroke-width="0.75"/><line x1="238.7" y1="156.2" x2="224.7" y2="165.9" stroke="#5e5e5e" stroke-width="0.75"/><line x1="238.7" y1="156.2" x2="236.0" y2="167.2" stroke="#5e5e5e" stroke-width="0.75"/><line x1="238.7" y1="156.2" x2="242.2" y2="164.3" stroke="#5e5e5e" stroke-width="0.75"/><line x1="238.7" y1="156.2" x2="252.3" y2="166.1" stroke="#5e5e5e" stroke-width="0.75"/><line x1="249.5" y1="157.2" x2="236.0" y2="167.2" stroke="#5e5e5e" stroke-width="0.75"/><line x1="249.5" y1="157.2" x2="242.2" y2="164.3" stroke="#5e5e5e" stroke-width="0.75"/><line x1="249.5" y1="157.2" x2="252.3" y2="166.1" stroke="#5e5e5e" stroke-width="0.75"/><line x1="255.3" y1="154.9" x2="242.2" y2="164.3" stroke="#5e5e5e" stroke-width="0.75"/><line x1="255.3" y1="154.9" x2="252.3" y2="166.1" stroke="#5e5e5e" stroke-width="0.75"/><ellipse cx="242.2" cy="81.3" rx="4.5" ry="3.5" fill="url(#gK)"/><ellipse cx="224.7" cy="82.9" rx="4.7" ry="3.7" fill="url(#gK)"/><ellipse cx="252.3" cy="83.1" rx="4.7" ry="3.7" fill="url(#gK)"/><ellipse cx="236.0" cy="84.2" rx="5.0" ry="3.9" fill="url(#gK)"/><ellipse cx="229.2" cy="92.1" rx="4.3" ry="3.4" fill="url(#gK)"/><ellipse cx="255.3" cy="92.6" rx="4.4" ry="3.5" fill="url(#gK)"/><ellipse cx="238.7" cy="93.9" rx="4.8" ry="3.7" fill="url(#gK)"/><ellipse cx="222.7" cy="94.1" rx="4.9" ry="3.8" fill="url(#gK)"/><ellipse cx="249.5" cy="94.9" rx="5.0" ry="3.9" fill="url(#gK)"/><ellipse cx="242.2" cy="103.1" rx="4.5" ry="3.5" fill="url(#gK)"/><ellipse cx="224.7" cy="104.7" rx="4.7" ry="3.7" fill="url(#gK)"/><ellipse cx="252.3" cy="104.9" rx="4.7" ry="3.7" fill="url(#gK)"/><ellipse cx="236.0" cy="106.0" rx="5.0" ry="3.9" fill="url(#gK)"/><ellipse cx="229.2" cy="113.6" rx="4.3" ry="3.4" fill="url(#gG)"/><ellipse cx="255.3" cy="114.1" rx="4.4" ry="3.5" fill="url(#gG)"/><ellipse cx="238.7" cy="115.4" rx="4.8" ry="3.7" fill="url(#gG)"/><ellipse cx="222.7" cy="115.6" rx="4.9" ry="3.8" fill="url(#gG)"/><ellipse cx="249.5" cy="116.4" rx="5.0" ry="3.9" fill="url(#gG)"/><ellipse cx="242.2" cy="124.3" rx="4.5" ry="3.5" fill="url(#gG)"/><ellipse cx="224.7" cy="125.9" rx="4.7" ry="3.7" fill="url(#gG)"/><ellipse cx="252.3" cy="126.1" rx="4.7" ry="3.7" fill="url(#gG)"/><ellipse cx="236.0" cy="127.2" rx="5.0" ry="3.9" fill="url(#gG)"/><ellipse cx="229.2" cy="134.3" rx="4.3" ry="3.4" fill="url(#gG)"/><ellipse cx="255.3" cy="134.8" rx="4.4" ry="3.5" fill="url(#gG)"/><ellipse cx="238.7" cy="136.2" rx="4.8" ry="3.7" fill="url(#gG)"/><ellipse cx="222.7" cy="136.3" rx="4.9" ry="3.8" fill="url(#gG)"/><ellipse cx="249.5" cy="137.2" rx="5.0" ry="3.9" fill="url(#gG)"/><ellipse cx="242.2" cy="144.7" rx="4.5" ry="3.5" fill="url(#gG)"/><ellipse cx="224.7" cy="146.3" rx="4.7" ry="3.7" fill="url(#gG)"/><ellipse cx="252.3" cy="146.5" rx="4.7" ry="3.7" fill="url(#gG)"/><ellipse cx="236.0" cy="147.6" rx="5.0" ry="3.9" fill="url(#gG)"/><ellipse cx="229.2" cy="154.4" rx="4.3" ry="3.4" fill="url(#gG)"/><ellipse cx="255.3" cy="154.9" rx="4.4" ry="3.5" fill="url(#gG)"/><ellipse cx="238.7" cy="156.2" rx="4.8" ry="3.7" fill="url(#gG)"/><ellipse cx="222.7" cy="156.4" rx="4.9" ry="3.8" fill="url(#gG)"/><ellipse cx="249.5" cy="157.2" rx="5.0" ry="3.9" fill="url(#gG)"/><ellipse cx="242.2" cy="164.3" rx="4.5" ry="3.5" fill="url(#gG)"/><ellipse cx="224.7" cy="165.9" rx="4.7" ry="3.7" fill="url(#gG)"/><ellipse cx="252.3" cy="166.1" rx="4.7" ry="3.7" fill="url(#gG)"/><ellipse cx="236.0" cy="167.2" rx="5.0" ry="3.9" fill="url(#gG)"/></g>
<rect x="507.1" y="83.2" width="48.2" height="24.2" fill="#f6e28c"/>
<g clip-path="url(#clipb)"><line x1="517.3" y1="88.7" x2="515.3" y2="99.9" stroke="#5e5e5e" stroke-width="0.75"/><line x1="517.3" y1="88.7" x2="521.8" y2="97.9" stroke="#5e5e5e" stroke-width="0.75"/><line x1="517.3" y1="88.7" x2="531.3" y2="99.7" stroke="#5e5e5e" stroke-width="0.75"/><line x1="528.6" y1="90.0" x2="515.3" y2="99.9" stroke="#5e5e5e" stroke-width="0.75"/><line x1="528.6" y1="90.0" x2="521.8" y2="97.9" stroke="#5e5e5e" stroke-width="0.75"/><line x1="528.6" y1="90.0" x2="531.3" y2="99.7" stroke="#5e5e5e" stroke-width="0.75"/><line x1="528.6" y1="90.0" x2="542.1" y2="100.7" stroke="#5e5e5e" stroke-width="0.75"/><line x1="534.8" y1="87.1" x2="521.8" y2="97.9" stroke="#5e5e5e" stroke-width="0.75"/><line x1="534.8" y1="87.1" x2="531.3" y2="99.7" stroke="#5e5e5e" stroke-width="0.75"/><line x1="534.8" y1="87.1" x2="542.1" y2="100.7" stroke="#5e5e5e" stroke-width="0.75"/><line x1="534.8" y1="87.1" x2="547.9" y2="98.4" stroke="#5e5e5e" stroke-width="0.75"/><line x1="544.9" y1="88.9" x2="531.3" y2="99.7" stroke="#5e5e5e" stroke-width="0.75"/><line x1="544.9" y1="88.9" x2="542.1" y2="100.7" stroke="#5e5e5e" stroke-width="0.75"/><line x1="544.9" y1="88.9" x2="547.9" y2="98.4" stroke="#5e5e5e" stroke-width="0.75"/><line x1="515.3" y1="99.9" x2="517.3" y2="110.5" stroke="#5e5e5e" stroke-width="0.75"/><line x1="515.3" y1="99.9" x2="528.6" y2="111.8" stroke="#5e5e5e" stroke-width="0.75"/><line x1="521.8" y1="97.9" x2="517.3" y2="110.5" stroke="#5e5e5e" stroke-width="0.75"/><line x1="521.8" y1="97.9" x2="528.6" y2="111.8" stroke="#5e5e5e" stroke-width="0.75"/><line x1="521.8" y1="97.9" x2="534.8" y2="108.9" stroke="#5e5e5e" stroke-width="0.75"/><line x1="531.3" y1="99.7" x2="517.3" y2="110.5" stroke="#5e5e5e" stroke-width="0.75"/><line x1="531.3" y1="99.7" x2="528.6" y2="111.8" stroke="#5e5e5e" stroke-width="0.75"/><line x1="531.3" y1="99.7" x2="534.8" y2="108.9" stroke="#5e5e5e" stroke-width="0.75"/><line x1="531.3" y1="99.7" x2="544.9" y2="110.7" stroke="#5e5e5e" stroke-width="0.75"/><line x1="542.1" y1="100.7" x2="528.6" y2="111.8" stroke="#5e5e5e" stroke-width="0.75"/><line x1="542.1" y1="100.7" x2="534.8" y2="108.9" stroke="#5e5e5e" stroke-width="0.75"/><line x1="542.1" y1="100.7" x2="544.9" y2="110.7" stroke="#5e5e5e" stroke-width="0.75"/><line x1="547.9" y1="98.4" x2="534.8" y2="108.9" stroke="#5e5e5e" stroke-width="0.75"/><line x1="547.9" y1="98.4" x2="544.9" y2="110.7" stroke="#5e5e5e" stroke-width="0.75"/><line x1="517.3" y1="110.5" x2="515.3" y2="121.4" stroke="#5e5e5e" stroke-width="0.75"/><line x1="517.3" y1="110.5" x2="521.8" y2="119.4" stroke="#5e5e5e" stroke-width="0.75"/><line x1="517.3" y1="110.5" x2="531.3" y2="121.2" stroke="#5e5e5e" stroke-width="0.75"/><line x1="528.6" y1="111.8" x2="515.3" y2="121.4" stroke="#5e5e5e" stroke-width="0.75"/><line x1="528.6" y1="111.8" x2="521.8" y2="119.4" stroke="#5e5e5e" stroke-width="0.75"/><line x1="528.6" y1="111.8" x2="531.3" y2="121.2" stroke="#5e5e5e" stroke-width="0.75"/><line x1="528.6" y1="111.8" x2="542.1" y2="122.2" stroke="#5e5e5e" stroke-width="0.75"/><line x1="534.8" y1="108.9" x2="521.8" y2="119.4" stroke="#5e5e5e" stroke-width="0.75"/><line x1="534.8" y1="108.9" x2="531.3" y2="121.2" stroke="#5e5e5e" stroke-width="0.75"/><line x1="534.8" y1="108.9" x2="542.1" y2="122.2" stroke="#5e5e5e" stroke-width="0.75"/><line x1="534.8" y1="108.9" x2="547.9" y2="119.9" stroke="#5e5e5e" stroke-width="0.75"/><line x1="544.9" y1="110.7" x2="531.3" y2="121.2" stroke="#5e5e5e" stroke-width="0.75"/><line x1="544.9" y1="110.7" x2="542.1" y2="122.2" stroke="#5e5e5e" stroke-width="0.75"/><line x1="544.9" y1="110.7" x2="547.9" y2="119.9" stroke="#5e5e5e" stroke-width="0.75"/><line x1="515.3" y1="121.4" x2="517.3" y2="131.7" stroke="#5e5e5e" stroke-width="0.75"/><line x1="515.3" y1="121.4" x2="528.6" y2="133.0" stroke="#5e5e5e" stroke-width="0.75"/><line x1="521.8" y1="119.4" x2="517.3" y2="131.7" stroke="#5e5e5e" stroke-width="0.75"/><line x1="521.8" y1="119.4" x2="528.6" y2="133.0" stroke="#5e5e5e" stroke-width="0.75"/><line x1="521.8" y1="119.4" x2="534.8" y2="130.1" stroke="#5e5e5e" stroke-width="0.75"/><line x1="531.3" y1="121.2" x2="517.3" y2="131.7" stroke="#5e5e5e" stroke-width="0.75"/><line x1="531.3" y1="121.2" x2="528.6" y2="133.0" stroke="#5e5e5e" stroke-width="0.75"/><line x1="531.3" y1="121.2" x2="534.8" y2="130.1" stroke="#5e5e5e" stroke-width="0.75"/><line x1="531.3" y1="121.2" x2="544.9" y2="131.9" stroke="#5e5e5e" stroke-width="0.75"/><line x1="542.1" y1="122.2" x2="528.6" y2="133.0" stroke="#5e5e5e" stroke-width="0.75"/><line x1="542.1" y1="122.2" x2="534.8" y2="130.1" stroke="#5e5e5e" stroke-width="0.75"/><line x1="542.1" y1="122.2" x2="544.9" y2="131.9" stroke="#5e5e5e" stroke-width="0.75"/><line x1="547.9" y1="119.9" x2="534.8" y2="130.1" stroke="#5e5e5e" stroke-width="0.75"/><line x1="547.9" y1="119.9" x2="544.9" y2="131.9" stroke="#5e5e5e" stroke-width="0.75"/><line x1="517.3" y1="131.7" x2="515.3" y2="142.2" stroke="#5e5e5e" stroke-width="0.75"/><line x1="517.3" y1="131.7" x2="521.8" y2="140.2" stroke="#5e5e5e" stroke-width="0.75"/><line x1="517.3" y1="131.7" x2="531.3" y2="142.0" stroke="#5e5e5e" stroke-width="0.75"/><line x1="528.6" y1="133.0" x2="515.3" y2="142.2" stroke="#5e5e5e" stroke-width="0.75"/><line x1="528.6" y1="133.0" x2="521.8" y2="140.2" stroke="#5e5e5e" stroke-width="0.75"/><line x1="528.6" y1="133.0" x2="531.3" y2="142.0" stroke="#5e5e5e" stroke-width="0.75"/><line x1="528.6" y1="133.0" x2="542.1" y2="143.0" stroke="#5e5e5e" stroke-width="0.75"/><line x1="534.8" y1="130.1" x2="521.8" y2="140.2" stroke="#5e5e5e" stroke-width="0.75"/><line x1="534.8" y1="130.1" x2="531.3" y2="142.0" stroke="#5e5e5e" stroke-width="0.75"/><line x1="534.8" y1="130.1" x2="542.1" y2="143.0" stroke="#5e5e5e" stroke-width="0.75"/><line x1="534.8" y1="130.1" x2="547.9" y2="140.7" stroke="#5e5e5e" stroke-width="0.75"/><line x1="544.9" y1="131.9" x2="531.3" y2="142.0" stroke="#5e5e5e" stroke-width="0.75"/><line x1="544.9" y1="131.9" x2="542.1" y2="143.0" stroke="#5e5e5e" stroke-width="0.75"/><line x1="544.9" y1="131.9" x2="547.9" y2="140.7" stroke="#5e5e5e" stroke-width="0.75"/><line x1="515.3" y1="142.2" x2="517.3" y2="152.1" stroke="#5e5e5e" stroke-width="0.75"/><line x1="515.3" y1="142.2" x2="528.6" y2="153.4" stroke="#5e5e5e" stroke-width="0.75"/><line x1="521.8" y1="140.2" x2="517.3" y2="152.1" stroke="#5e5e5e" stroke-width="0.75"/><line x1="521.8" y1="140.2" x2="528.6" y2="153.4" stroke="#5e5e5e" stroke-width="0.75"/><line x1="521.8" y1="140.2" x2="534.8" y2="150.5" stroke="#5e5e5e" stroke-width="0.75"/><line x1="531.3" y1="142.0" x2="517.3" y2="152.1" stroke="#5e5e5e" stroke-width="0.75"/><line x1="531.3" y1="142.0" x2="528.6" y2="153.4" stroke="#5e5e5e" stroke-width="0.75"/><line x1="531.3" y1="142.0" x2="534.8" y2="150.5" stroke="#5e5e5e" stroke-width="0.75"/><line x1="531.3" y1="142.0" x2="544.9" y2="152.3" stroke="#5e5e5e" stroke-width="0.75"/><line x1="542.1" y1="143.0" x2="528.6" y2="153.4" stroke="#5e5e5e" stroke-width="0.75"/><line x1="542.1" y1="143.0" x2="534.8" y2="150.5" stroke="#5e5e5e" stroke-width="0.75"/><line x1="542.1" y1="143.0" x2="544.9" y2="152.3" stroke="#5e5e5e" stroke-width="0.75"/><line x1="547.9" y1="140.7" x2="534.8" y2="150.5" stroke="#5e5e5e" stroke-width="0.75"/><line x1="547.9" y1="140.7" x2="544.9" y2="152.3" stroke="#5e5e5e" stroke-width="0.75"/><line x1="517.3" y1="152.1" x2="515.3" y2="162.2" stroke="#5e5e5e" stroke-width="0.75"/><line x1="517.3" y1="152.1" x2="521.8" y2="160.2" stroke="#5e5e5e" stroke-width="0.75"/><line x1="517.3" y1="152.1" x2="531.3" y2="162.0" stroke="#5e5e5e" stroke-width="0.75"/><line x1="528.6" y1="153.4" x2="515.3" y2="162.2" stroke="#5e5e5e" stroke-width="0.75"/><line x1="528.6" y1="153.4" x2="521.8" y2="160.2" stroke="#5e5e5e" stroke-width="0.75"/><line x1="528.6" y1="153.4" x2="531.3" y2="162.0" stroke="#5e5e5e" stroke-width="0.75"/><line x1="528.6" y1="153.4" x2="542.1" y2="163.0" stroke="#5e5e5e" stroke-width="0.75"/><line x1="534.8" y1="150.5" x2="521.8" y2="160.2" stroke="#5e5e5e" stroke-width="0.75"/><line x1="534.8" y1="150.5" x2="531.3" y2="162.0" stroke="#5e5e5e" stroke-width="0.75"/><line x1="534.8" y1="150.5" x2="542.1" y2="163.0" stroke="#5e5e5e" stroke-width="0.75"/><line x1="534.8" y1="150.5" x2="547.9" y2="160.7" stroke="#5e5e5e" stroke-width="0.75"/><line x1="544.9" y1="152.3" x2="531.3" y2="162.0" stroke="#5e5e5e" stroke-width="0.75"/><line x1="544.9" y1="152.3" x2="542.1" y2="163.0" stroke="#5e5e5e" stroke-width="0.75"/><line x1="544.9" y1="152.3" x2="547.9" y2="160.7" stroke="#5e5e5e" stroke-width="0.75"/><line x1="515.3" y1="162.2" x2="517.3" y2="171.7" stroke="#5e5e5e" stroke-width="0.75"/><line x1="515.3" y1="162.2" x2="528.6" y2="173.0" stroke="#5e5e5e" stroke-width="0.75"/><line x1="521.8" y1="160.2" x2="517.3" y2="171.7" stroke="#5e5e5e" stroke-width="0.75"/><line x1="521.8" y1="160.2" x2="528.6" y2="173.0" stroke="#5e5e5e" stroke-width="0.75"/><line x1="521.8" y1="160.2" x2="534.8" y2="170.1" stroke="#5e5e5e" stroke-width="0.75"/><line x1="531.3" y1="162.0" x2="517.3" y2="171.7" stroke="#5e5e5e" stroke-width="0.75"/><line x1="531.3" y1="162.0" x2="528.6" y2="173.0" stroke="#5e5e5e" stroke-width="0.75"/><line x1="531.3" y1="162.0" x2="534.8" y2="170.1" stroke="#5e5e5e" stroke-width="0.75"/><line x1="531.3" y1="162.0" x2="544.9" y2="171.9" stroke="#5e5e5e" stroke-width="0.75"/><line x1="542.1" y1="163.0" x2="528.6" y2="173.0" stroke="#5e5e5e" stroke-width="0.75"/><line x1="542.1" y1="163.0" x2="534.8" y2="170.1" stroke="#5e5e5e" stroke-width="0.75"/><line x1="542.1" y1="163.0" x2="544.9" y2="171.9" stroke="#5e5e5e" stroke-width="0.75"/><line x1="547.9" y1="160.7" x2="534.8" y2="170.1" stroke="#5e5e5e" stroke-width="0.75"/><line x1="547.9" y1="160.7" x2="544.9" y2="171.9" stroke="#5e5e5e" stroke-width="0.75"/><ellipse cx="534.8" cy="87.1" rx="4.5" ry="3.5" fill="url(#gO)"/><ellipse cx="517.3" cy="88.7" rx="4.7" ry="3.7" fill="url(#gO)"/><ellipse cx="544.9" cy="88.9" rx="4.7" ry="3.7" fill="url(#gO)"/><ellipse cx="528.6" cy="90.0" rx="5.0" ry="3.9" fill="url(#gO)"/><ellipse cx="521.8" cy="97.9" rx="4.3" ry="3.4" fill="url(#gO)"/><ellipse cx="547.9" cy="98.4" rx="4.4" ry="3.5" fill="url(#gO)"/><ellipse cx="531.3" cy="99.7" rx="4.8" ry="3.7" fill="url(#gO)"/><ellipse cx="515.3" cy="99.9" rx="4.9" ry="3.8" fill="url(#gO)"/><ellipse cx="542.1" cy="100.7" rx="5.0" ry="3.9" fill="url(#gO)"/><ellipse cx="534.8" cy="108.9" rx="4.5" ry="3.5" fill="url(#gK)"/><ellipse cx="517.3" cy="110.5" rx="4.7" ry="3.7" fill="url(#gK)"/><ellipse cx="544.9" cy="110.7" rx="4.7" ry="3.7" fill="url(#gK)"/><ellipse cx="528.6" cy="111.8" rx="5.0" ry="3.9" fill="url(#gK)"/><ellipse cx="521.8" cy="119.4" rx="4.3" ry="3.4" fill="url(#gG)"/><ellipse cx="547.9" cy="119.9" rx="4.4" ry="3.5" fill="url(#gG)"/><ellipse cx="531.3" cy="121.2" rx="4.8" ry="3.7" fill="url(#gG)"/><ellipse cx="515.3" cy="121.4" rx="4.9" ry="3.8" fill="url(#gG)"/><ellipse cx="542.1" cy="122.2" rx="5.0" ry="3.9" fill="url(#gG)"/><ellipse cx="534.8" cy="130.1" rx="4.5" ry="3.5" fill="url(#gG)"/><ellipse cx="517.3" cy="131.7" rx="4.7" ry="3.7" fill="url(#gG)"/><ellipse cx="544.9" cy="131.9" rx="4.7" ry="3.7" fill="url(#gG)"/><ellipse cx="528.6" cy="133.0" rx="5.0" ry="3.9" fill="url(#gG)"/><ellipse cx="521.8" cy="140.2" rx="4.3" ry="3.4" fill="url(#gG)"/><ellipse cx="547.9" cy="140.7" rx="4.4" ry="3.5" fill="url(#gG)"/><ellipse cx="531.3" cy="142.0" rx="4.8" ry="3.7" fill="url(#gG)"/><ellipse cx="515.3" cy="142.2" rx="4.9" ry="3.8" fill="url(#gG)"/><ellipse cx="542.1" cy="143.0" rx="5.0" ry="3.9" fill="url(#gG)"/><ellipse cx="534.8" cy="150.5" rx="4.5" ry="3.5" fill="url(#gG)"/><ellipse cx="517.3" cy="152.1" rx="4.7" ry="3.7" fill="url(#gG)"/><ellipse cx="544.9" cy="152.3" rx="4.7" ry="3.7" fill="url(#gG)"/><ellipse cx="528.6" cy="153.4" rx="5.0" ry="3.9" fill="url(#gG)"/><ellipse cx="521.8" cy="160.2" rx="4.3" ry="3.4" fill="url(#gG)"/><ellipse cx="547.9" cy="160.7" rx="4.4" ry="3.5" fill="url(#gG)"/><ellipse cx="531.3" cy="162.0" rx="4.8" ry="3.7" fill="url(#gG)"/><ellipse cx="515.3" cy="162.2" rx="4.9" ry="3.8" fill="url(#gG)"/><ellipse cx="542.1" cy="163.0" rx="5.0" ry="3.9" fill="url(#gG)"/><ellipse cx="534.8" cy="170.1" rx="4.5" ry="3.5" fill="url(#gG)"/><ellipse cx="517.3" cy="171.7" rx="4.7" ry="3.7" fill="url(#gG)"/><ellipse cx="544.9" cy="171.9" rx="4.7" ry="3.7" fill="url(#gG)"/><ellipse cx="528.6" cy="173.0" rx="5.0" ry="3.9" fill="url(#gG)"/></g>
<rect x="218.8" y="355.2" width="47.6" height="10.3" fill="#f6e28c"/>
<rect x="218.8" y="376.7" width="47.6" height="10.9" fill="#f6e28c"/>
<g clip-path="url(#clipc)"><line x1="229.0" y1="360.7" x2="227.0" y2="371.9" stroke="#5e5e5e" stroke-width="0.75"/><line x1="229.0" y1="360.7" x2="233.5" y2="369.9" stroke="#5e5e5e" stroke-width="0.75"/><line x1="229.0" y1="360.7" x2="243.0" y2="371.7" stroke="#5e5e5e" stroke-width="0.75"/><line x1="240.3" y1="362.0" x2="227.0" y2="371.9" stroke="#5e5e5e" stroke-width="0.75"/><line x1="240.3" y1="362.0" x2="233.5" y2="369.9" stroke="#5e5e5e" stroke-width="0.75"/><line x1="240.3" y1="362.0" x2="243.0" y2="371.7" stroke="#5e5e5e" stroke-width="0.75"/><line x1="240.3" y1="362.0" x2="253.8" y2="372.7" stroke="#5e5e5e" stroke-width="0.75"/><line x1="246.5" y1="359.1" x2="233.5" y2="369.9" stroke="#5e5e5e" stroke-width="0.75"/><line x1="246.5" y1="359.1" x2="243.0" y2="371.7" stroke="#5e5e5e" stroke-width="0.75"/><line x1="246.5" y1="359.1" x2="253.8" y2="372.7" stroke="#5e5e5e" stroke-width="0.75"/><line x1="246.5" y1="359.1" x2="259.6" y2="370.4" stroke="#5e5e5e" stroke-width="0.75"/><line x1="256.6" y1="360.9" x2="243.0" y2="371.7" stroke="#5e5e5e" stroke-width="0.75"/><line x1="256.6" y1="360.9" x2="253.8" y2="372.7" stroke="#5e5e5e" stroke-width="0.75"/><line x1="256.6" y1="360.9" x2="259.6" y2="370.4" stroke="#5e5e5e" stroke-width="0.75"/><line x1="227.0" y1="371.9" x2="229.0" y2="382.5" stroke="#5e5e5e" stroke-width="0.75"/><line x1="227.0" y1="371.9" x2="240.3" y2="383.8" stroke="#5e5e5e" stroke-width="0.75"/><line x1="233.5" y1="369.9" x2="229.0" y2="382.5" stroke="#5e5e5e" stroke-width="0.75"/><line x1="233.5" y1="369.9" x2="240.3" y2="383.8" stroke="#5e5e5e" stroke-width="0.75"/><line x1="233.5" y1="369.9" x2="246.5" y2="380.9" stroke="#5e5e5e" stroke-width="0.75"/><line x1="243.0" y1="371.7" x2="229.0" y2="382.5" stroke="#5e5e5e" stroke-width="0.75"/><line x1="243.0" y1="371.7" x2="240.3" y2="383.8" stroke="#5e5e5e" stroke-width="0.75"/><line x1="243.0" y1="371.7" x2="246.5" y2="380.9" stroke="#5e5e5e" stroke-width="0.75"/><line x1="243.0" y1="371.7" x2="256.6" y2="382.7" stroke="#5e5e5e" stroke-width="0.75"/><line x1="253.8" y1="372.7" x2="240.3" y2="383.8" stroke="#5e5e5e" stroke-width="0.75"/><line x1="253.8" y1="372.7" x2="246.5" y2="380.9" stroke="#5e5e5e" stroke-width="0.75"/><line x1="253.8" y1="372.7" x2="256.6" y2="382.7" stroke="#5e5e5e" stroke-width="0.75"/><line x1="259.6" y1="370.4" x2="246.5" y2="380.9" stroke="#5e5e5e" stroke-width="0.75"/><line x1="259.6" y1="370.4" x2="256.6" y2="382.7" stroke="#5e5e5e" stroke-width="0.75"/><line x1="229.0" y1="382.5" x2="227.0" y2="393.4" stroke="#5e5e5e" stroke-width="0.75"/><line x1="229.0" y1="382.5" x2="233.5" y2="391.4" stroke="#5e5e5e" stroke-width="0.75"/><line x1="229.0" y1="382.5" x2="243.0" y2="393.2" stroke="#5e5e5e" stroke-width="0.75"/><line x1="240.3" y1="383.8" x2="227.0" y2="393.4" stroke="#5e5e5e" stroke-width="0.75"/><line x1="240.3" y1="383.8" x2="233.5" y2="391.4" stroke="#5e5e5e" stroke-width="0.75"/><line x1="240.3" y1="383.8" x2="243.0" y2="393.2" stroke="#5e5e5e" stroke-width="0.75"/><line x1="240.3" y1="383.8" x2="253.8" y2="394.2" stroke="#5e5e5e" stroke-width="0.75"/><line x1="246.5" y1="380.9" x2="233.5" y2="391.4" stroke="#5e5e5e" stroke-width="0.75"/><line x1="246.5" y1="380.9" x2="243.0" y2="393.2" stroke="#5e5e5e" stroke-width="0.75"/><line x1="246.5" y1="380.9" x2="253.8" y2="394.2" stroke="#5e5e5e" stroke-width="0.75"/><line x1="246.5" y1="380.9" x2="259.6" y2="391.9" stroke="#5e5e5e" stroke-width="0.75"/><line x1="256.6" y1="382.7" x2="243.0" y2="393.2" stroke="#5e5e5e" stroke-width="0.75"/><line x1="256.6" y1="382.7" x2="253.8" y2="394.2" stroke="#5e5e5e" stroke-width="0.75"/><line x1="256.6" y1="382.7" x2="259.6" y2="391.9" stroke="#5e5e5e" stroke-width="0.75"/><line x1="227.0" y1="393.4" x2="229.0" y2="403.7" stroke="#5e5e5e" stroke-width="0.75"/><line x1="227.0" y1="393.4" x2="240.3" y2="405.0" stroke="#5e5e5e" stroke-width="0.75"/><line x1="233.5" y1="391.4" x2="229.0" y2="403.7" stroke="#5e5e5e" stroke-width="0.75"/><line x1="233.5" y1="391.4" x2="240.3" y2="405.0" stroke="#5e5e5e" stroke-width="0.75"/><line x1="233.5" y1="391.4" x2="246.5" y2="402.1" stroke="#5e5e5e" stroke-width="0.75"/><line x1="243.0" y1="393.2" x2="229.0" y2="403.7" stroke="#5e5e5e" stroke-width="0.75"/><line x1="243.0" y1="393.2" x2="240.3" y2="405.0" stroke="#5e5e5e" stroke-width="0.75"/><line x1="243.0" y1="393.2" x2="246.5" y2="402.1" stroke="#5e5e5e" stroke-width="0.75"/><line x1="243.0" y1="393.2" x2="256.6" y2="403.9" stroke="#5e5e5e" stroke-width="0.75"/><line x1="253.8" y1="394.2" x2="240.3" y2="405.0" stroke="#5e5e5e" stroke-width="0.75"/><line x1="253.8" y1="394.2" x2="246.5" y2="402.1" stroke="#5e5e5e" stroke-width="0.75"/><line x1="253.8" y1="394.2" x2="256.6" y2="403.9" stroke="#5e5e5e" stroke-width="0.75"/><line x1="259.6" y1="391.9" x2="246.5" y2="402.1" stroke="#5e5e5e" stroke-width="0.75"/><line x1="259.6" y1="391.9" x2="256.6" y2="403.9" stroke="#5e5e5e" stroke-width="0.75"/><line x1="229.0" y1="403.7" x2="227.0" y2="414.1" stroke="#5e5e5e" stroke-width="0.75"/><line x1="229.0" y1="403.7" x2="233.5" y2="412.1" stroke="#5e5e5e" stroke-width="0.75"/><line x1="229.0" y1="403.7" x2="243.0" y2="413.9" stroke="#5e5e5e" stroke-width="0.75"/><line x1="240.3" y1="405.0" x2="227.0" y2="414.1" stroke="#5e5e5e" stroke-width="0.75"/><line x1="240.3" y1="405.0" x2="233.5" y2="412.1" stroke="#5e5e5e" stroke-width="0.75"/><line x1="240.3" y1="405.0" x2="243.0" y2="413.9" stroke="#5e5e5e" stroke-width="0.75"/><line x1="240.3" y1="405.0" x2="253.8" y2="414.9" stroke="#5e5e5e" stroke-width="0.75"/><line x1="246.5" y1="402.1" x2="233.5" y2="412.1" stroke="#5e5e5e" stroke-width="0.75"/><line x1="246.5" y1="402.1" x2="243.0" y2="413.9" stroke="#5e5e5e" stroke-width="0.75"/><line x1="246.5" y1="402.1" x2="253.8" y2="414.9" stroke="#5e5e5e" stroke-width="0.75"/><line x1="246.5" y1="402.1" x2="259.6" y2="412.6" stroke="#5e5e5e" stroke-width="0.75"/><line x1="256.6" y1="403.9" x2="243.0" y2="413.9" stroke="#5e5e5e" stroke-width="0.75"/><line x1="256.6" y1="403.9" x2="253.8" y2="414.9" stroke="#5e5e5e" stroke-width="0.75"/><line x1="256.6" y1="403.9" x2="259.6" y2="412.6" stroke="#5e5e5e" stroke-width="0.75"/><line x1="227.0" y1="414.1" x2="229.0" y2="424.1" stroke="#5e5e5e" stroke-width="0.75"/><line x1="227.0" y1="414.1" x2="240.3" y2="425.4" stroke="#5e5e5e" stroke-width="0.75"/><line x1="233.5" y1="412.1" x2="229.0" y2="424.1" stroke="#5e5e5e" stroke-width="0.75"/><line x1="233.5" y1="412.1" x2="240.3" y2="425.4" stroke="#5e5e5e" stroke-width="0.75"/><line x1="233.5" y1="412.1" x2="246.5" y2="422.5" stroke="#5e5e5e" stroke-width="0.75"/><line x1="243.0" y1="413.9" x2="229.0" y2="424.1" stroke="#5e5e5e" stroke-width="0.75"/><line x1="243.0" y1="413.9" x2="240.3" y2="425.4" stroke="#5e5e5e" stroke-width="0.75"/><line x1="243.0" y1="413.9" x2="246.5" y2="422.5" stroke="#5e5e5e" stroke-width="0.75"/><line x1="243.0" y1="413.9" x2="256.6" y2="424.3" stroke="#5e5e5e" stroke-width="0.75"/><line x1="253.8" y1="414.9" x2="240.3" y2="425.4" stroke="#5e5e5e" stroke-width="0.75"/><line x1="253.8" y1="414.9" x2="246.5" y2="422.5" stroke="#5e5e5e" stroke-width="0.75"/><line x1="253.8" y1="414.9" x2="256.6" y2="424.3" stroke="#5e5e5e" stroke-width="0.75"/><line x1="259.6" y1="412.6" x2="246.5" y2="422.5" stroke="#5e5e5e" stroke-width="0.75"/><line x1="259.6" y1="412.6" x2="256.6" y2="424.3" stroke="#5e5e5e" stroke-width="0.75"/><line x1="229.0" y1="424.1" x2="227.0" y2="434.2" stroke="#5e5e5e" stroke-width="0.75"/><line x1="229.0" y1="424.1" x2="233.5" y2="432.2" stroke="#5e5e5e" stroke-width="0.75"/><line x1="229.0" y1="424.1" x2="243.0" y2="434.0" stroke="#5e5e5e" stroke-width="0.75"/><line x1="240.3" y1="425.4" x2="227.0" y2="434.2" stroke="#5e5e5e" stroke-width="0.75"/><line x1="240.3" y1="425.4" x2="233.5" y2="432.2" stroke="#5e5e5e" stroke-width="0.75"/><line x1="240.3" y1="425.4" x2="243.0" y2="434.0" stroke="#5e5e5e" stroke-width="0.75"/><line x1="240.3" y1="425.4" x2="253.8" y2="435.0" stroke="#5e5e5e" stroke-width="0.75"/><line x1="246.5" y1="422.5" x2="233.5" y2="432.2" stroke="#5e5e5e" stroke-width="0.75"/><line x1="246.5" y1="422.5" x2="243.0" y2="434.0" stroke="#5e5e5e" stroke-width="0.75"/><line x1="246.5" y1="422.5" x2="253.8" y2="435.0" stroke="#5e5e5e" stroke-width="0.75"/><line x1="246.5" y1="422.5" x2="259.6" y2="432.7" stroke="#5e5e5e" stroke-width="0.75"/><line x1="256.6" y1="424.3" x2="243.0" y2="434.0" stroke="#5e5e5e" stroke-width="0.75"/><line x1="256.6" y1="424.3" x2="253.8" y2="435.0" stroke="#5e5e5e" stroke-width="0.75"/><line x1="256.6" y1="424.3" x2="259.6" y2="432.7" stroke="#5e5e5e" stroke-width="0.75"/><line x1="227.0" y1="434.2" x2="229.0" y2="443.7" stroke="#5e5e5e" stroke-width="0.75"/><line x1="227.0" y1="434.2" x2="240.3" y2="445.0" stroke="#5e5e5e" stroke-width="0.75"/><line x1="233.5" y1="432.2" x2="229.0" y2="443.7" stroke="#5e5e5e" stroke-width="0.75"/><line x1="233.5" y1="432.2" x2="240.3" y2="445.0" stroke="#5e5e5e" stroke-width="0.75"/><line x1="233.5" y1="432.2" x2="246.5" y2="442.1" stroke="#5e5e5e" stroke-width="0.75"/><line x1="243.0" y1="434.0" x2="229.0" y2="443.7" stroke="#5e5e5e" stroke-width="0.75"/><line x1="243.0" y1="434.0" x2="240.3" y2="445.0" stroke="#5e5e5e" stroke-width="0.75"/><line x1="243.0" y1="434.0" x2="246.5" y2="442.1" stroke="#5e5e5e" stroke-width="0.75"/><line x1="243.0" y1="434.0" x2="256.6" y2="443.9" stroke="#5e5e5e" stroke-width="0.75"/><line x1="253.8" y1="435.0" x2="240.3" y2="445.0" stroke="#5e5e5e" stroke-width="0.75"/><line x1="253.8" y1="435.0" x2="246.5" y2="442.1" stroke="#5e5e5e" stroke-width="0.75"/><line x1="253.8" y1="435.0" x2="256.6" y2="443.9" stroke="#5e5e5e" stroke-width="0.75"/><line x1="259.6" y1="432.7" x2="246.5" y2="442.1" stroke="#5e5e5e" stroke-width="0.75"/><line x1="259.6" y1="432.7" x2="256.6" y2="443.9" stroke="#5e5e5e" stroke-width="0.75"/><ellipse cx="246.5" cy="359.1" rx="4.5" ry="3.5" fill="url(#gO)"/><ellipse cx="229.0" cy="360.7" rx="4.7" ry="3.7" fill="url(#gO)"/><ellipse cx="256.6" cy="360.9" rx="4.7" ry="3.7" fill="url(#gO)"/><ellipse cx="240.3" cy="362.0" rx="5.0" ry="3.9" fill="url(#gO)"/><ellipse cx="233.5" cy="369.9" rx="4.3" ry="3.4" fill="url(#gK)"/><ellipse cx="259.6" cy="370.4" rx="4.4" ry="3.5" fill="url(#gK)"/><ellipse cx="243.0" cy="371.7" rx="4.8" ry="3.7" fill="url(#gK)"/><ellipse cx="227.0" cy="371.9" rx="4.9" ry="3.8" fill="url(#gK)"/><ellipse cx="253.8" cy="372.7" rx="5.0" ry="3.9" fill="url(#gK)"/><ellipse cx="246.5" cy="380.9" rx="4.5" ry="3.5" fill="url(#gO)"/><ellipse cx="229.0" cy="382.5" rx="4.7" ry="3.7" fill="url(#gO)"/><ellipse cx="256.6" cy="382.7" rx="4.7" ry="3.7" fill="url(#gO)"/><ellipse cx="240.3" cy="383.8" rx="5.0" ry="3.9" fill="url(#gO)"/><ellipse cx="233.5" cy="391.4" rx="4.3" ry="3.4" fill="url(#gG)"/><ellipse cx="259.6" cy="391.9" rx="4.4" ry="3.5" fill="url(#gG)"/><ellipse cx="243.0" cy="393.2" rx="4.8" ry="3.7" fill="url(#gG)"/><ellipse cx="227.0" cy="393.4" rx="4.9" ry="3.8" fill="url(#gG)"/><ellipse cx="253.8" cy="394.2" rx="5.0" ry="3.9" fill="url(#gG)"/><ellipse cx="246.5" cy="402.1" rx="4.5" ry="3.5" fill="url(#gG)"/><ellipse cx="229.0" cy="403.7" rx="4.7" ry="3.7" fill="url(#gG)"/><ellipse cx="256.6" cy="403.9" rx="4.7" ry="3.7" fill="url(#gG)"/><ellipse cx="240.3" cy="405.0" rx="5.0" ry="3.9" fill="url(#gG)"/><ellipse cx="233.5" cy="412.1" rx="4.3" ry="3.4" fill="url(#gG)"/><ellipse cx="259.6" cy="412.6" rx="4.4" ry="3.5" fill="url(#gG)"/><ellipse cx="243.0" cy="413.9" rx="4.8" ry="3.7" fill="url(#gG)"/><ellipse cx="227.0" cy="414.1" rx="4.9" ry="3.8" fill="url(#gG)"/><ellipse cx="253.8" cy="414.9" rx="5.0" ry="3.9" fill="url(#gG)"/><ellipse cx="246.5" cy="422.5" rx="4.5" ry="3.5" fill="url(#gG)"/><ellipse cx="229.0" cy="424.1" rx="4.7" ry="3.7" fill="url(#gG)"/><ellipse cx="256.6" cy="424.3" rx="4.7" ry="3.7" fill="url(#gG)"/><ellipse cx="240.3" cy="425.4" rx="5.0" ry="3.9" fill="url(#gG)"/><ellipse cx="233.5" cy="432.2" rx="4.3" ry="3.4" fill="url(#gG)"/><ellipse cx="259.6" cy="432.7" rx="4.4" ry="3.5" fill="url(#gG)"/><ellipse cx="243.0" cy="434.0" rx="4.8" ry="3.7" fill="url(#gG)"/><ellipse cx="227.0" cy="434.2" rx="4.9" ry="3.8" fill="url(#gG)"/><ellipse cx="253.8" cy="435.0" rx="5.0" ry="3.9" fill="url(#gG)"/><ellipse cx="246.5" cy="442.1" rx="4.5" ry="3.5" fill="url(#gG)"/><ellipse cx="229.0" cy="443.7" rx="4.7" ry="3.7" fill="url(#gG)"/><ellipse cx="256.6" cy="443.9" rx="4.7" ry="3.7" fill="url(#gG)"/><ellipse cx="240.3" cy="445.0" rx="5.0" ry="3.9" fill="url(#gG)"/></g>
<rect x="507.3" y="364.9" width="48.2" height="21.4" fill="#f6e28c"/>
<g clip-path="url(#clipd)"><line x1="517.9" y1="360.7" x2="515.9" y2="371.9" stroke="#5e5e5e" stroke-width="0.75"/><line x1="517.9" y1="360.7" x2="522.4" y2="369.9" stroke="#5e5e5e" stroke-width="0.75"/><line x1="517.9" y1="360.7" x2="531.9" y2="371.7" stroke="#5e5e5e" stroke-width="0.75"/><line x1="529.2" y1="362.0" x2="515.9" y2="371.9" stroke="#5e5e5e" stroke-width="0.75"/><line x1="529.2" y1="362.0" x2="522.4" y2="369.9" stroke="#5e5e5e" stroke-width="0.75"/><line x1="529.2" y1="362.0" x2="531.9" y2="371.7" stroke="#5e5e5e" stroke-width="0.75"/><line x1="529.2" y1="362.0" x2="542.7" y2="372.7" stroke="#5e5e5e" stroke-width="0.75"/><line x1="535.4" y1="359.1" x2="522.4" y2="369.9" stroke="#5e5e5e" stroke-width="0.75"/><line x1="535.4" y1="359.1" x2="531.9" y2="371.7" stroke="#5e5e5e" stroke-width="0.75"/><line x1="535.4" y1="359.1" x2="542.7" y2="372.7" stroke="#5e5e5e" stroke-width="0.75"/><line x1="535.4" y1="359.1" x2="548.5" y2="370.4" stroke="#5e5e5e" stroke-width="0.75"/><line x1="545.5" y1="360.9" x2="531.9" y2="371.7" stroke="#5e5e5e" stroke-width="0.75"/><line x1="545.5" y1="360.9" x2="542.7" y2="372.7" stroke="#5e5e5e" stroke-width="0.75"/><line x1="545.5" y1="360.9" x2="548.5" y2="370.4" stroke="#5e5e5e" stroke-width="0.75"/><line x1="515.9" y1="371.9" x2="517.9" y2="382.5" stroke="#5e5e5e" stroke-width="0.75"/><line x1="515.9" y1="371.9" x2="529.2" y2="383.8" stroke="#5e5e5e" stroke-width="0.75"/><line x1="522.4" y1="369.9" x2="517.9" y2="382.5" stroke="#5e5e5e" stroke-width="0.75"/><line x1="522.4" y1="369.9" x2="529.2" y2="383.8" stroke="#5e5e5e" stroke-width="0.75"/><line x1="522.4" y1="369.9" x2="535.4" y2="380.9" stroke="#5e5e5e" stroke-width="0.75"/><line x1="531.9" y1="371.7" x2="517.9" y2="382.5" stroke="#5e5e5e" stroke-width="0.75"/><line x1="531.9" y1="371.7" x2="529.2" y2="383.8" stroke="#5e5e5e" stroke-width="0.75"/><line x1="531.9" y1="371.7" x2="535.4" y2="380.9" stroke="#5e5e5e" stroke-width="0.75"/><line x1="531.9" y1="371.7" x2="545.5" y2="382.7" stroke="#5e5e5e" stroke-width="0.75"/><line x1="542.7" y1="372.7" x2="529.2" y2="383.8" stroke="#5e5e5e" stroke-width="0.75"/><line x1="542.7" y1="372.7" x2="535.4" y2="380.9" stroke="#5e5e5e" stroke-width="0.75"/><line x1="542.7" y1="372.7" x2="545.5" y2="382.7" stroke="#5e5e5e" stroke-width="0.75"/><line x1="548.5" y1="370.4" x2="535.4" y2="380.9" stroke="#5e5e5e" stroke-width="0.75"/><line x1="548.5" y1="370.4" x2="545.5" y2="382.7" stroke="#5e5e5e" stroke-width="0.75"/><line x1="517.9" y1="382.5" x2="515.9" y2="393.4" stroke="#5e5e5e" stroke-width="0.75"/><line x1="517.9" y1="382.5" x2="522.4" y2="391.4" stroke="#5e5e5e" stroke-width="0.75"/><line x1="517.9" y1="382.5" x2="531.9" y2="393.2" stroke="#5e5e5e" stroke-width="0.75"/><line x1="529.2" y1="383.8" x2="515.9" y2="393.4" stroke="#5e5e5e" stroke-width="0.75"/><line x1="529.2" y1="383.8" x2="522.4" y2="391.4" stroke="#5e5e5e" stroke-width="0.75"/><line x1="529.2" y1="383.8" x2="531.9" y2="393.2" stroke="#5e5e5e" stroke-width="0.75"/><line x1="529.2" y1="383.8" x2="542.7" y2="394.2" stroke="#5e5e5e" stroke-width="0.75"/><line x1="535.4" y1="380.9" x2="522.4" y2="391.4" stroke="#5e5e5e" stroke-width="0.75"/><line x1="535.4" y1="380.9" x2="531.9" y2="393.2" stroke="#5e5e5e" stroke-width="0.75"/><line x1="535.4" y1="380.9" x2="542.7" y2="394.2" stroke="#5e5e5e" stroke-width="0.75"/><line x1="535.4" y1="380.9" x2="548.5" y2="391.9" stroke="#5e5e5e" stroke-width="0.75"/><line x1="545.5" y1="382.7" x2="531.9" y2="393.2" stroke="#5e5e5e" stroke-width="0.75"/><line x1="545.5" y1="382.7" x2="542.7" y2="394.2" stroke="#5e5e5e" stroke-width="0.75"/><line x1="545.5" y1="382.7" x2="548.5" y2="391.9" stroke="#5e5e5e" stroke-width="0.75"/><line x1="515.9" y1="393.4" x2="517.9" y2="403.7" stroke="#5e5e5e" stroke-width="0.75"/><line x1="515.9" y1="393.4" x2="529.2" y2="405.0" stroke="#5e5e5e" stroke-width="0.75"/><line x1="522.4" y1="391.4" x2="517.9" y2="403.7" stroke="#5e5e5e" stroke-width="0.75"/><line x1="522.4" y1="391.4" x2="529.2" y2="405.0" stroke="#5e5e5e" stroke-width="0.75"/><line x1="522.4" y1="391.4" x2="535.4" y2="402.1" stroke="#5e5e5e" stroke-width="0.75"/><line x1="531.9" y1="393.2" x2="517.9" y2="403.7" stroke="#5e5e5e" stroke-width="0.75"/><line x1="531.9" y1="393.2" x2="529.2" y2="405.0" stroke="#5e5e5e" stroke-width="0.75"/><line x1="531.9" y1="393.2" x2="535.4" y2="402.1" stroke="#5e5e5e" stroke-width="0.75"/><line x1="531.9" y1="393.2" x2="545.5" y2="403.9" stroke="#5e5e5e" stroke-width="0.75"/><line x1="542.7" y1="394.2" x2="529.2" y2="405.0" stroke="#5e5e5e" stroke-width="0.75"/><line x1="542.7" y1="394.2" x2="535.4" y2="402.1" stroke="#5e5e5e" stroke-width="0.75"/><line x1="542.7" y1="394.2" x2="545.5" y2="403.9" stroke="#5e5e5e" stroke-width="0.75"/><line x1="548.5" y1="391.9" x2="535.4" y2="402.1" stroke="#5e5e5e" stroke-width="0.75"/><line x1="548.5" y1="391.9" x2="545.5" y2="403.9" stroke="#5e5e5e" stroke-width="0.75"/><line x1="517.9" y1="403.7" x2="515.9" y2="414.1" stroke="#5e5e5e" stroke-width="0.75"/><line x1="517.9" y1="403.7" x2="522.4" y2="412.1" stroke="#5e5e5e" stroke-width="0.75"/><line x1="517.9" y1="403.7" x2="531.9" y2="413.9" stroke="#5e5e5e" stroke-width="0.75"/><line x1="529.2" y1="405.0" x2="515.9" y2="414.1" stroke="#5e5e5e" stroke-width="0.75"/><line x1="529.2" y1="405.0" x2="522.4" y2="412.1" stroke="#5e5e5e" stroke-width="0.75"/><line x1="529.2" y1="405.0" x2="531.9" y2="413.9" stroke="#5e5e5e" stroke-width="0.75"/><line x1="529.2" y1="405.0" x2="542.7" y2="414.9" stroke="#5e5e5e" stroke-width="0.75"/><line x1="535.4" y1="402.1" x2="522.4" y2="412.1" stroke="#5e5e5e" stroke-width="0.75"/><line x1="535.4" y1="402.1" x2="531.9" y2="413.9" stroke="#5e5e5e" stroke-width="0.75"/><line x1="535.4" y1="402.1" x2="542.7" y2="414.9" stroke="#5e5e5e" stroke-width="0.75"/><line x1="535.4" y1="402.1" x2="548.5" y2="412.6" stroke="#5e5e5e" stroke-width="0.75"/><line x1="545.5" y1="403.9" x2="531.9" y2="413.9" stroke="#5e5e5e" stroke-width="0.75"/><line x1="545.5" y1="403.9" x2="542.7" y2="414.9" stroke="#5e5e5e" stroke-width="0.75"/><line x1="545.5" y1="403.9" x2="548.5" y2="412.6" stroke="#5e5e5e" stroke-width="0.75"/><line x1="515.9" y1="414.1" x2="517.9" y2="424.1" stroke="#5e5e5e" stroke-width="0.75"/><line x1="515.9" y1="414.1" x2="529.2" y2="425.4" stroke="#5e5e5e" stroke-width="0.75"/><line x1="522.4" y1="412.1" x2="517.9" y2="424.1" stroke="#5e5e5e" stroke-width="0.75"/><line x1="522.4" y1="412.1" x2="529.2" y2="425.4" stroke="#5e5e5e" stroke-width="0.75"/><line x1="522.4" y1="412.1" x2="535.4" y2="422.5" stroke="#5e5e5e" stroke-width="0.75"/><line x1="531.9" y1="413.9" x2="517.9" y2="424.1" stroke="#5e5e5e" stroke-width="0.75"/><line x1="531.9" y1="413.9" x2="529.2" y2="425.4" stroke="#5e5e5e" stroke-width="0.75"/><line x1="531.9" y1="413.9" x2="535.4" y2="422.5" stroke="#5e5e5e" stroke-width="0.75"/><line x1="531.9" y1="413.9" x2="545.5" y2="424.3" stroke="#5e5e5e" stroke-width="0.75"/><line x1="542.7" y1="414.9" x2="529.2" y2="425.4" stroke="#5e5e5e" stroke-width="0.75"/><line x1="542.7" y1="414.9" x2="535.4" y2="422.5" stroke="#5e5e5e" stroke-width="0.75"/><line x1="542.7" y1="414.9" x2="545.5" y2="424.3" stroke="#5e5e5e" stroke-width="0.75"/><line x1="548.5" y1="412.6" x2="535.4" y2="422.5" stroke="#5e5e5e" stroke-width="0.75"/><line x1="548.5" y1="412.6" x2="545.5" y2="424.3" stroke="#5e5e5e" stroke-width="0.75"/><line x1="517.9" y1="424.1" x2="515.9" y2="434.2" stroke="#5e5e5e" stroke-width="0.75"/><line x1="517.9" y1="424.1" x2="522.4" y2="432.2" stroke="#5e5e5e" stroke-width="0.75"/><line x1="517.9" y1="424.1" x2="531.9" y2="434.0" stroke="#5e5e5e" stroke-width="0.75"/><line x1="529.2" y1="425.4" x2="515.9" y2="434.2" stroke="#5e5e5e" stroke-width="0.75"/><line x1="529.2" y1="425.4" x2="522.4" y2="432.2" stroke="#5e5e5e" stroke-width="0.75"/><line x1="529.2" y1="425.4" x2="531.9" y2="434.0" stroke="#5e5e5e" stroke-width="0.75"/><line x1="529.2" y1="425.4" x2="542.7" y2="435.0" stroke="#5e5e5e" stroke-width="0.75"/><line x1="535.4" y1="422.5" x2="522.4" y2="432.2" stroke="#5e5e5e" stroke-width="0.75"/><line x1="535.4" y1="422.5" x2="531.9" y2="434.0" stroke="#5e5e5e" stroke-width="0.75"/><line x1="535.4" y1="422.5" x2="542.7" y2="435.0" stroke="#5e5e5e" stroke-width="0.75"/><line x1="535.4" y1="422.5" x2="548.5" y2="432.7" stroke="#5e5e5e" stroke-width="0.75"/><line x1="545.5" y1="424.3" x2="531.9" y2="434.0" stroke="#5e5e5e" stroke-width="0.75"/><line x1="545.5" y1="424.3" x2="542.7" y2="435.0" stroke="#5e5e5e" stroke-width="0.75"/><line x1="545.5" y1="424.3" x2="548.5" y2="432.7" stroke="#5e5e5e" stroke-width="0.75"/><line x1="515.9" y1="434.2" x2="517.9" y2="443.7" stroke="#5e5e5e" stroke-width="0.75"/><line x1="515.9" y1="434.2" x2="529.2" y2="445.0" stroke="#5e5e5e" stroke-width="0.75"/><line x1="522.4" y1="432.2" x2="517.9" y2="443.7" stroke="#5e5e5e" stroke-width="0.75"/><line x1="522.4" y1="432.2" x2="529.2" y2="445.0" stroke="#5e5e5e" stroke-width="0.75"/><line x1="522.4" y1="432.2" x2="535.4" y2="442.1" stroke="#5e5e5e" stroke-width="0.75"/><line x1="531.9" y1="434.0" x2="517.9" y2="443.7" stroke="#5e5e5e" stroke-width="0.75"/><line x1="531.9" y1="434.0" x2="529.2" y2="445.0" stroke="#5e5e5e" stroke-width="0.75"/><line x1="531.9" y1="434.0" x2="535.4" y2="442.1" stroke="#5e5e5e" stroke-width="0.75"/><line x1="531.9" y1="434.0" x2="545.5" y2="443.9" stroke="#5e5e5e" stroke-width="0.75"/><line x1="542.7" y1="435.0" x2="529.2" y2="445.0" stroke="#5e5e5e" stroke-width="0.75"/><line x1="542.7" y1="435.0" x2="535.4" y2="442.1" stroke="#5e5e5e" stroke-width="0.75"/><line x1="542.7" y1="435.0" x2="545.5" y2="443.9" stroke="#5e5e5e" stroke-width="0.75"/><line x1="548.5" y1="432.7" x2="535.4" y2="442.1" stroke="#5e5e5e" stroke-width="0.75"/><line x1="548.5" y1="432.7" x2="545.5" y2="443.9" stroke="#5e5e5e" stroke-width="0.75"/><ellipse cx="535.4" cy="359.1" rx="4.5" ry="3.5" fill="url(#gK)"/><ellipse cx="517.9" cy="360.7" rx="4.7" ry="3.7" fill="url(#gK)"/><ellipse cx="545.5" cy="360.9" rx="4.7" ry="3.7" fill="url(#gK)"/><ellipse cx="529.2" cy="362.0" rx="5.0" ry="3.9" fill="url(#gK)"/><ellipse cx="522.4" cy="369.9" rx="4.3" ry="3.4" fill="url(#gO)"/><ellipse cx="548.5" cy="370.4" rx="4.4" ry="3.5" fill="url(#gO)"/><ellipse cx="531.9" cy="371.7" rx="4.8" ry="3.7" fill="url(#gO)"/><ellipse cx="515.9" cy="371.9" rx="4.9" ry="3.8" fill="url(#gO)"/><ellipse cx="542.7" cy="372.7" rx="5.0" ry="3.9" fill="url(#gO)"/><ellipse cx="535.4" cy="380.9" rx="4.5" ry="3.5" fill="url(#gO)"/><ellipse cx="517.9" cy="382.5" rx="4.7" ry="3.7" fill="url(#gO)"/><ellipse cx="545.5" cy="382.7" rx="4.7" ry="3.7" fill="url(#gO)"/><ellipse cx="529.2" cy="383.8" rx="5.0" ry="3.9" fill="url(#gO)"/><ellipse cx="522.4" cy="391.4" rx="4.3" ry="3.4" fill="url(#gG)"/><ellipse cx="548.5" cy="391.9" rx="4.4" ry="3.5" fill="url(#gG)"/><ellipse cx="531.9" cy="393.2" rx="4.8" ry="3.7" fill="url(#gG)"/><ellipse cx="515.9" cy="393.4" rx="4.9" ry="3.8" fill="url(#gG)"/><ellipse cx="542.7" cy="394.2" rx="5.0" ry="3.9" fill="url(#gG)"/><ellipse cx="535.4" cy="402.1" rx="4.5" ry="3.5" fill="url(#gG)"/><ellipse cx="517.9" cy="403.7" rx="4.7" ry="3.7" fill="url(#gG)"/><ellipse cx="545.5" cy="403.9" rx="4.7" ry="3.7" fill="url(#gG)"/><ellipse cx="529.2" cy="405.0" rx="5.0" ry="3.9" fill="url(#gG)"/><ellipse cx="522.4" cy="412.1" rx="4.3" ry="3.4" fill="url(#gG)"/><ellipse cx="548.5" cy="412.6" rx="4.4" ry="3.5" fill="url(#gG)"/><ellipse cx="531.9" cy="413.9" rx="4.8" ry="3.7" fill="url(#gG)"/><ellipse cx="515.9" cy="414.1" rx="4.9" ry="3.8" fill="url(#gG)"/><ellipse cx="542.7" cy="414.9" rx="5.0" ry="3.9" fill="url(#gG)"/><ellipse cx="535.4" cy="422.5" rx="4.5" ry="3.5" fill="url(#gG)"/><ellipse cx="517.9" cy="424.1" rx="4.7" ry="3.7" fill="url(#gG)"/><ellipse cx="545.5" cy="424.3" rx="4.7" ry="3.7" fill="url(#gG)"/><ellipse cx="529.2" cy="425.4" rx="5.0" ry="3.9" fill="url(#gG)"/><ellipse cx="522.4" cy="432.2" rx="4.3" ry="3.4" fill="url(#gG)"/><ellipse cx="548.5" cy="432.7" rx="4.4" ry="3.5" fill="url(#gG)"/><ellipse cx="531.9" cy="434.0" rx="4.8" ry="3.7" fill="url(#gG)"/><ellipse cx="515.9" cy="434.2" rx="4.9" ry="3.8" fill="url(#gG)"/><ellipse cx="542.7" cy="435.0" rx="5.0" ry="3.9" fill="url(#gG)"/><ellipse cx="535.4" cy="442.1" rx="4.5" ry="3.5" fill="url(#gG)"/><ellipse cx="517.9" cy="443.7" rx="4.7" ry="3.7" fill="url(#gG)"/><ellipse cx="545.5" cy="443.9" rx="4.7" ry="3.7" fill="url(#gG)"/><ellipse cx="529.2" cy="445.0" rx="5.0" ry="3.9" fill="url(#gG)"/></g>
</g>
</g>
</svg>
</body></html>
